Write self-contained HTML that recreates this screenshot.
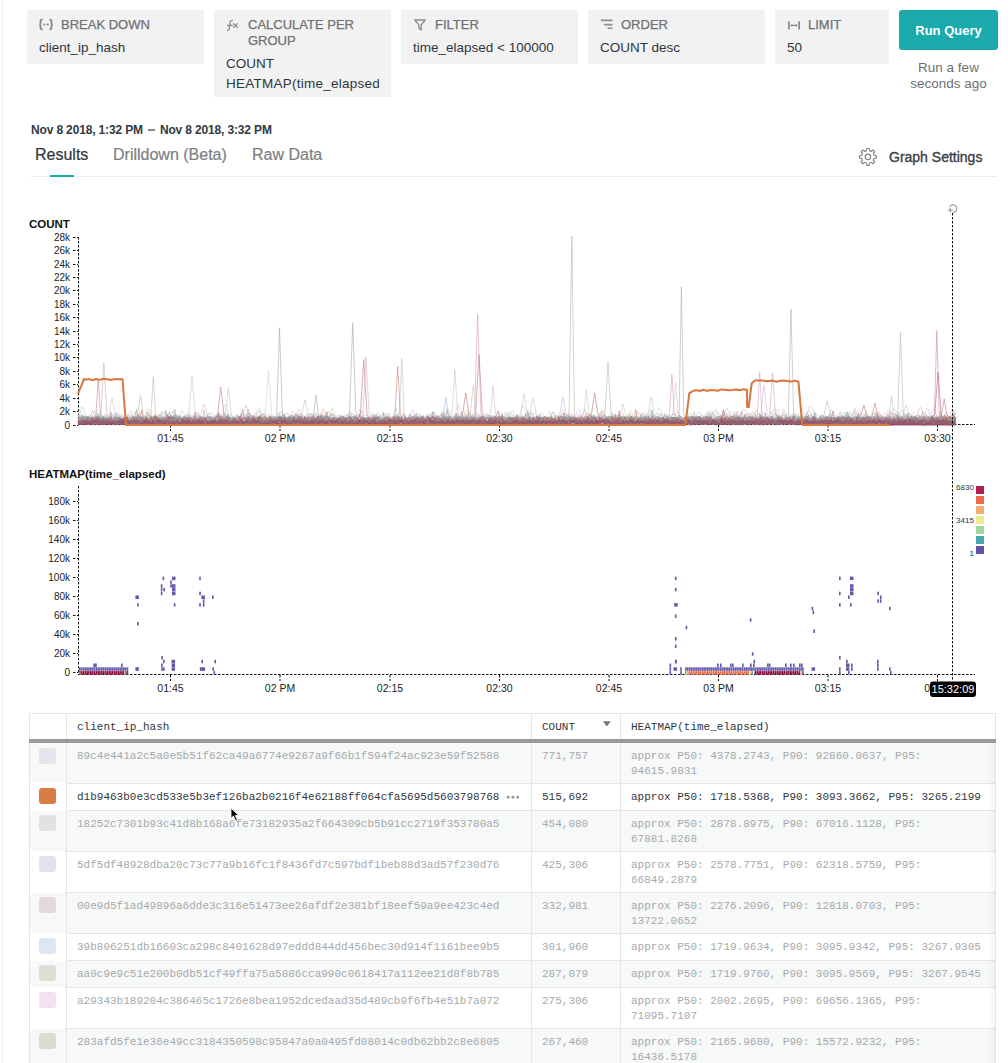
<!DOCTYPE html><html><head><meta charset="utf-8"><style>
*{box-sizing:border-box;margin:0;padding:0}
html,body{width:1008px;height:1063px;overflow:hidden;background:#fff}
body{font-family:"Liberation Sans",sans-serif;color:#333a40;position:relative}
.abs{position:absolute}
.lb{position:absolute;left:2px;top:0;width:1px;height:1063px;background:#ececec}
.qb{position:absolute;top:10px;height:54px;background:#f2f2f2;overflow:hidden}
.qb .lab{position:absolute;top:6.5px;font-size:13px;-webkit-text-stroke:0.25px #6e7072;color:#6e7072;line-height:16px;white-space:nowrap}
.qb .val{position:absolute;left:12px;top:28px;font-size:13.5px;color:#2f363c;line-height:20px;white-space:nowrap}
.qb svg{position:absolute}
.btn{position:absolute;left:899px;top:10px;width:99px;height:40px;background:#1aaaab;border-radius:3px;color:#fff;font-weight:bold;font-size:13px;line-height:41px;text-align:center}
.ago{position:absolute;left:899px;top:60px;width:99px;text-align:center;font-size:13.5px;line-height:16px;color:#6e7072}
.date{position:absolute;left:31px;top:123px;font-size:12px;font-weight:bold;color:#333a40;white-space:nowrap}
.tab{position:absolute;top:146px;font-size:16px;white-space:nowrap;color:#7b7f83;-webkit-text-stroke:0.2px currentColor}
.mono{font-family:"Liberation Mono",monospace}
table{border-collapse:collapse}
.th{font-size:11px;line-height:15px;color:#2f363c;white-space:nowrap}
.td{font-size:11px;line-height:15px;white-space:nowrap}
</style></head><body><div class="lb"></div><div class="qb" style="left:27px;width:177px"><svg style="left:11px;top:8px" width="16" height="13" viewBox="0 0 16 13"><path d="M4.6 1.6 L3.8 1.6 Q2.6 1.6 2.6 2.8 L2.6 5 Q2.6 6.5 1.2 6.5 Q2.6 6.5 2.6 8 L2.6 10.2 Q2.6 11.4 3.8 11.4 L4.6 11.4 M11.4 1.6 L12.2 1.6 Q13.4 1.6 13.4 2.8 L13.4 5 Q13.4 6.5 14.8 6.5 Q13.4 6.5 13.4 8 L13.4 10.2 Q13.4 11.4 12.2 11.4 L11.4 11.4" fill="none" stroke="#8a8c8e" stroke-width="1.9"/><circle cx="6.3" cy="6.5" r="1.1" fill="#8a8c8e"/><circle cx="9.7" cy="6.5" r="1.1" fill="#8a8c8e"/></svg><div class="lab" style="left:34px">BREAK DOWN</div><div class="val">client_ip_hash</div></div><div class="qb" style="left:214px;width:177px;height:87px"><svg style="left:12px;top:9px" width="16" height="13" viewBox="0 0 16 13"><path d="M7 1.4 Q4.3 0.8 4 3.6 L3.3 9.6 Q3 11.6 1.1 11.4 M1 6.4 L6.8 6.4" fill="none" stroke="#8a8c8e" stroke-width="1.3"/><path d="M7.3 4.4 L11.7 8.7 M11.7 4.4 L7.3 8.7" stroke="#8a8c8e" stroke-width="1.3"/></svg><div class="lab" style="left:34px">CALCULATE PER<br>GROUP</div><div class="val" style="top:43.5px;width:153px;overflow:hidden">COUNT<br><span style="letter-spacing:0.25px">HEATMAP(time_elapsed)</span></div></div><div class="qb" style="left:401px;width:177px"><svg style="left:12px;top:9px" width="13" height="13" viewBox="0 0 13 13"><path d="M1.7 1 L12.2 1 L8.2 5.9 L8.2 10.9 L6 9.4 L6 5.9 Z" fill="none" stroke="#8a8c8e" stroke-width="1.4" stroke-linejoin="round"/></svg><div class="lab" style="left:34px">FILTER</div><div class="val">time_elapsed &lt; 100000</div></div><div class="qb" style="left:588px;width:177px"><svg style="left:12px;top:9px" width="13" height="13" viewBox="0 0 13 13"><path d="M1 1.4 L12.5 1.4 M4 5.6 L12.5 5.6 M7.5 9.2 L12.5 9.2" stroke="#8a8c8e" stroke-width="1.6"/></svg><div class="lab" style="left:33px">ORDER</div><div class="val">COUNT desc</div></div><div class="qb" style="left:775px;width:114px"><svg style="left:12px;top:9px" width="13" height="13" viewBox="0 0 13 13"><path d="M1.9 2.2 L1.9 10.6 M12.1 2.2 L12.1 10.6" stroke="#8a8c8e" stroke-width="1.8"/><path d="M4.3 6.4 L9.7 6.4 M5.3 5.3 L4.2 6.4 L5.3 7.5 M8.7 5.3 L9.8 6.4 L8.7 7.5" fill="none" stroke="#8a8c8e" stroke-width="1.2"/></svg><div class="lab" style="left:33px">LIMIT</div><div class="val">50</div></div><div class="btn">Run Query</div><div class="ago">Run a few<br>seconds ago</div><div class="date" style="letter-spacing:-0.15px">Nov 8 2018, 1:32 PM<span style="display:inline-block;width:7px;height:1.6px;background:#8a8a8a;vertical-align:3.5px;margin:0 5px 0 5px"></span>Nov 8 2018, 3:32 PM</div><div class="tab" style="left:35px;color:#2f363c">Results</div><div class="tab" style="left:113px">Drilldown (Beta)</div><div class="tab" style="left:252px">Raw Data</div><div class="abs" style="left:31px;top:176px;width:966px;height:1px;background:#ececec"></div><div class="abs" style="left:50px;top:175px;width:24px;height:2px;background:#1aaaab"></div><svg class="abs" style="left:0;top:0" width="1008" height="200"><polygon points="865.49,151.08 866.38,150.79 866.57,148.50 869.23,148.50 869.42,150.79 870.31,151.08 871.14,151.50 872.90,150.02 874.78,151.90 873.30,153.66 873.72,154.49 874.01,155.38 876.30,155.57 876.30,158.23 874.01,158.42 873.72,159.31 873.30,160.14 874.78,161.90 872.90,163.78 871.14,162.30 870.31,162.72 869.42,163.01 869.23,165.30 866.57,165.30 866.38,163.01 865.49,162.72 864.66,162.30 862.90,163.78 861.02,161.90 862.50,160.14 862.08,159.31 861.79,158.42 859.50,158.23 859.50,155.57 861.79,155.38 862.08,154.49 862.50,153.66 861.02,151.90 862.90,150.02 864.66,151.50" fill="none" stroke="#85898d" stroke-width="1.2" stroke-linejoin="round"/><circle cx="867.9" cy="156.9" r="2.7" fill="none" stroke="#85898d" stroke-width="1.2"/></svg><div class="abs" style="left:889px;top:149px;font-size:14px;-webkit-text-stroke:0.35px #3a4046;color:#3a4046;white-space:nowrap">Graph Settings</div><div class="abs" style="left:29px;top:713px;width:967px;height:1px;background:#e4e6e6"></div><div class="abs" style="left:29px;top:713px;width:1px;height:350px;background:#e4e6e6"></div><div class="abs" style="left:995px;top:713px;width:1px;height:350px;background:#e4e6e6"></div><div class="abs" style="left:29px;top:739px;width:967px;height:4px;background:#9a9a9a"></div><div class="abs" style="left:66px;top:713px;width:1px;height:26px;background:#e4e6e6"></div><div class="abs" style="left:531px;top:713px;width:1px;height:26px;background:#e4e6e6"></div><div class="abs" style="left:620px;top:713px;width:1px;height:26px;background:#e4e6e6"></div><div class="abs mono th" style="left:77px;top:720px">client_ip_hash</div><div class="abs mono th" style="left:542px;top:720px">COUNT</div><div class="abs mono th" style="left:631px;top:720px">HEATMAP(time_elapsed)</div><svg class="abs" style="left:602px;top:720px" width="10" height="8"><path d="M1 1.3 L8.8 1.3 L4.9 6.6 Z" fill="#777"/></svg><div class="abs" style="left:30px;top:743px;width:965px;height:40px;background:#f7f8f8"></div><div class="abs" style="left:66px;top:783px;width:929px;height:1px;background:#e4e6e6"></div><div class="abs" style="left:66px;top:743px;width:1px;height:41px;background:#e4e6e6"></div><div class="abs" style="left:531px;top:743px;width:1px;height:41px;background:#e4e6e6"></div><div class="abs" style="left:620px;top:743px;width:1px;height:41px;background:#e4e6e6"></div><div class="abs" style="left:39px;top:748px;width:17px;height:16px;border-radius:3px;background:#e8e2ee"></div><div class="abs mono td" style="left:77px;top:749px;color:#a5a9ac">89c4e441a2c5a0e5b51f62ca49a6774e9267a9f66b1f594f24ac923e59f52588</div><div class="abs mono td" style="left:542px;top:749px;color:#a5a9ac">771,757</div><div class="abs mono td" style="left:631px;top:749px;color:#a5a9ac">approx P50: 4378.2743, P90: 92860.0637, P95:<br>94615.9831</div><div class="abs" style="left:30px;top:784px;width:965px;height:26px;background:#ffffff"></div><div class="abs" style="left:66px;top:810px;width:929px;height:1px;background:#e4e6e6"></div><div class="abs" style="left:66px;top:784px;width:1px;height:27px;background:#e4e6e6"></div><div class="abs" style="left:531px;top:784px;width:1px;height:27px;background:#e4e6e6"></div><div class="abs" style="left:620px;top:784px;width:1px;height:27px;background:#e4e6e6"></div><div class="abs" style="left:39px;top:788px;width:17px;height:16px;border-radius:3px;background:#d77c45"></div><div class="abs mono td" style="left:77px;top:790px;color:#2f363c">d1b9463b0e3cd533e5b3ef126ba2b0216f4e62188ff064cfa5695d5603798768</div><div class="abs mono td" style="left:542px;top:790px;color:#2f363c">515,692</div><div class="abs mono td" style="left:631px;top:790px;color:#2f363c">approx P50: 1718.5368, P90: 3093.3662, P95: 3265.2199</div><svg class="abs" style="left:505px;top:795px" width="16" height="6"><circle cx="3.2" cy="2.3" r="1.45" fill="#999"/><circle cx="7.9" cy="2.3" r="1.45" fill="#999"/><circle cx="12.7" cy="2.3" r="1.45" fill="#999"/></svg><div class="abs" style="left:30px;top:811px;width:965px;height:40px;background:#f7f8f8"></div><div class="abs" style="left:66px;top:851px;width:929px;height:1px;background:#e4e6e6"></div><div class="abs" style="left:66px;top:811px;width:1px;height:41px;background:#e4e6e6"></div><div class="abs" style="left:531px;top:811px;width:1px;height:41px;background:#e4e6e6"></div><div class="abs" style="left:620px;top:811px;width:1px;height:41px;background:#e4e6e6"></div><div class="abs" style="left:39px;top:815px;width:17px;height:16px;border-radius:3px;background:#e2e2e0"></div><div class="abs mono td" style="left:77px;top:817px;color:#a5a9ac">18252c7301b93c41d8b168a6fe73182935a2f664309cb5b91cc2719f353780a5</div><div class="abs mono td" style="left:542px;top:817px;color:#a5a9ac">454,080</div><div class="abs mono td" style="left:631px;top:817px;color:#a5a9ac">approx P50: 2878.8975, P90: 67016.1128, P95:<br>67881.8268</div><div class="abs" style="left:30px;top:852px;width:965px;height:40px;background:#ffffff"></div><div class="abs" style="left:66px;top:892px;width:929px;height:1px;background:#e4e6e6"></div><div class="abs" style="left:66px;top:852px;width:1px;height:41px;background:#e4e6e6"></div><div class="abs" style="left:531px;top:852px;width:1px;height:41px;background:#e4e6e6"></div><div class="abs" style="left:620px;top:852px;width:1px;height:41px;background:#e4e6e6"></div><div class="abs" style="left:39px;top:856px;width:17px;height:16px;border-radius:3px;background:#e0e4ea"></div><div class="abs mono td" style="left:77px;top:858px;color:#a5a9ac">5df5df48928dba20c73c77a9b16fc1f8436fd7c597bdf1beb88d3ad57f230d76</div><div class="abs mono td" style="left:542px;top:858px;color:#a5a9ac">425,306</div><div class="abs mono td" style="left:631px;top:858px;color:#a5a9ac">approx P50: 2578.7751, P90: 62318.5759, P95:<br>66849.2879</div><div class="abs" style="left:30px;top:893px;width:965px;height:40px;background:#f7f8f8"></div><div class="abs" style="left:66px;top:933px;width:929px;height:1px;background:#e4e6e6"></div><div class="abs" style="left:66px;top:893px;width:1px;height:41px;background:#e4e6e6"></div><div class="abs" style="left:531px;top:893px;width:1px;height:41px;background:#e4e6e6"></div><div class="abs" style="left:620px;top:893px;width:1px;height:41px;background:#e4e6e6"></div><div class="abs" style="left:39px;top:897px;width:17px;height:16px;border-radius:3px;background:#e3d8e0"></div><div class="abs mono td" style="left:77px;top:899px;color:#a5a9ac">00e9d5f1ad49896a6dde3c316e51473ee26afdf2e381bf18eef59a9ee423c4ed</div><div class="abs mono td" style="left:542px;top:899px;color:#a5a9ac">332,981</div><div class="abs mono td" style="left:631px;top:899px;color:#a5a9ac">approx P50: 2276.2096, P90: 12818.0703, P95:<br>13722.0652</div><div class="abs" style="left:30px;top:934px;width:965px;height:26px;background:#ffffff"></div><div class="abs" style="left:66px;top:960px;width:929px;height:1px;background:#e4e6e6"></div><div class="abs" style="left:66px;top:934px;width:1px;height:27px;background:#e4e6e6"></div><div class="abs" style="left:531px;top:934px;width:1px;height:27px;background:#e4e6e6"></div><div class="abs" style="left:620px;top:934px;width:1px;height:27px;background:#e4e6e6"></div><div class="abs" style="left:39px;top:938px;width:17px;height:16px;border-radius:3px;background:#dde6f4"></div><div class="abs mono td" style="left:77px;top:940px;color:#a5a9ac">39b806251db16603ca298c8401628d97eddd844dd456bec30d914f1161bee9b5</div><div class="abs mono td" style="left:542px;top:940px;color:#a5a9ac">301,960</div><div class="abs mono td" style="left:631px;top:940px;color:#a5a9ac">approx P50: 1719.9634, P90: 3095.9342, P95: 3267.9305</div><div class="abs" style="left:30px;top:961px;width:965px;height:26px;background:#f7f8f8"></div><div class="abs" style="left:66px;top:987px;width:929px;height:1px;background:#e4e6e6"></div><div class="abs" style="left:66px;top:961px;width:1px;height:27px;background:#e4e6e6"></div><div class="abs" style="left:531px;top:961px;width:1px;height:27px;background:#e4e6e6"></div><div class="abs" style="left:620px;top:961px;width:1px;height:27px;background:#e4e6e6"></div><div class="abs" style="left:39px;top:965px;width:17px;height:16px;border-radius:3px;background:#dddfd3"></div><div class="abs mono td" style="left:77px;top:967px;color:#a5a9ac">aa0c9e9c51e200b0db51cf49ffa75a5886cca990c0618417a112ee21d8f8b785</div><div class="abs mono td" style="left:542px;top:967px;color:#a5a9ac">287,079</div><div class="abs mono td" style="left:631px;top:967px;color:#a5a9ac">approx P50: 1719.9760, P90: 3095.9569, P95: 3267.9545</div><div class="abs" style="left:30px;top:988px;width:965px;height:40px;background:#ffffff"></div><div class="abs" style="left:66px;top:1028px;width:929px;height:1px;background:#e4e6e6"></div><div class="abs" style="left:66px;top:988px;width:1px;height:41px;background:#e4e6e6"></div><div class="abs" style="left:531px;top:988px;width:1px;height:41px;background:#e4e6e6"></div><div class="abs" style="left:620px;top:988px;width:1px;height:41px;background:#e4e6e6"></div><div class="abs" style="left:39px;top:992px;width:17px;height:16px;border-radius:3px;background:#f2e0ee"></div><div class="abs mono td" style="left:77px;top:994px;color:#a5a9ac">a29343b189204c386465c1726e8bea1952dcedaad35d489cb9f6fb4e51b7a072</div><div class="abs mono td" style="left:542px;top:994px;color:#a5a9ac">275,306</div><div class="abs mono td" style="left:631px;top:994px;color:#a5a9ac">approx P50: 2002.2695, P90: 69656.1365, P95:<br>71095.7107</div><div class="abs" style="left:30px;top:1029px;width:965px;height:40px;background:#f7f8f8"></div><div class="abs" style="left:66px;top:1069px;width:929px;height:1px;background:#e4e6e6"></div><div class="abs" style="left:66px;top:1029px;width:1px;height:41px;background:#e4e6e6"></div><div class="abs" style="left:531px;top:1029px;width:1px;height:41px;background:#e4e6e6"></div><div class="abs" style="left:620px;top:1029px;width:1px;height:41px;background:#e4e6e6"></div><div class="abs" style="left:39px;top:1033px;width:17px;height:16px;border-radius:3px;background:#d9dccf"></div><div class="abs mono td" style="left:77px;top:1035px;color:#a5a9ac">283afd5fe1e36e49cc3184350598c95847a0a0495fd08014c0db62bb2c8e6805</div><div class="abs mono td" style="left:542px;top:1035px;color:#a5a9ac">267,460</div><div class="abs mono td" style="left:631px;top:1035px;color:#a5a9ac">approx P50: 2165.9680, P90: 15572.9232, P95:<br>16436.5178</div><div class="abs" style="left:988px;top:743px;width:7px;height:320px;background:linear-gradient(to right,rgba(0,0,0,0),rgba(0,0,0,0.04))"></div><svg class="abs" style="left:0;top:0" width="1008" height="720" viewBox="0 0 1008 720" shape-rendering="auto"><g stroke="#111" stroke-width="1" stroke-dasharray="2.5 1.5" fill="none"><path d="M78.5 237 L78.5 425"/><path d="M78 424.5 L975 424.5"/><path d="M73 425.5 L78 425.5"/><path d="M73 411.5 L78 411.5"/><path d="M73 398.5 L78 398.5"/><path d="M73 384.5 L78 384.5"/><path d="M73 371.5 L78 371.5"/><path d="M73 357.5 L78 357.5"/><path d="M73 344.5 L78 344.5"/><path d="M73 331.5 L78 331.5"/><path d="M73 317.5 L78 317.5"/><path d="M73 304.5 L78 304.5"/><path d="M73 290.5 L78 290.5"/><path d="M73 277.5 L78 277.5"/><path d="M73 264.5 L78 264.5"/><path d="M73 250.5 L78 250.5"/><path d="M73 237.5 L78 237.5"/><path d="M170.5 425 L170.5 431"/><path d="M280.0 425 L280.0 431"/><path d="M390.0 425 L390.0 431"/><path d="M499.5 425 L499.5 431"/><path d="M609.0 425 L609.0 431"/><path d="M718.5 425 L718.5 431"/><path d="M828.0 425 L828.0 431"/><path d="M937.5 425 L937.5 431"/></g><g transform="translate(78.0,425.0) scale(1.82833,-0.67040)" fill="none" stroke-width="1"><path d="M0 10 1 10 2 7 3 5 4 7 5 10 6 13 7 9 8 6 9 8 10 10 11 15 12 19 13 15 14 6 15 3 16 7 17 10 18 6 19 5 20 7 21 6 22 6 23 9 24 8 25 7 26 8 27 8 28 8 29 7 30 4 31 3 32 4 33 12 34 20 35 16 36 11 37 15 38 24 39 22 40 10 41 5 42 6 43 5 44 7 45 8 46 8 47 9 48 7 49 6 50 9 51 8 52 6 53 5 54 8 55 11 56 9 57 7 58 10 59 14 60 18 61 17 62 14 63 10 64 6 65 8 66 9 67 6 68 6 69 10 70 12 71 9 72 10 73 14 74 9 75 5 76 8 77 12 78 11 79 11 80 8 81 9 82 12 83 11 84 10 85 8 86 6 87 10 88 11 89 9 90 11 91 9 92 7 93 11 94 13 95 8 96 5 97 6 98 10 99 12 100 14 101 17 102 14 103 7 104 7 105 13 106 14 107 9 108 6 109 7 110 9 111 10 112 12 113 10 114 9 115 10 116 12 117 11 118 10 119 9 120 9 121 11 122 12 123 10 124 6 125 6 126 10 127 13 128 14 129 10 130 9 131 11 132 16 133 19 134 13 135 11 136 12 137 12 138 8 139 7 140 9 141 10 142 14 143 16 144 12 145 7 146 7 147 10 148 9 149 6 150 6 151 6 152 4 153 5 154 8 155 6 156 7 157 8 158 8 159 9 160 8 161 6 162 6 163 11 164 12 165 7 166 7 167 8 168 11 169 13 170 11 171 8 172 9 173 19 174 25 175 19 176 12 177 6 178 5 179 9 180 9 181 8 182 8 183 8 184 8 185 7 186 8 187 8 188 5 189 3 190 3 191 3 192 4 193 5 194 6 195 5 196 4 197 5 198 14 199 19 200 11 201 8 202 12 203 8 204 3 205 5 206 11 207 16 208 17 209 12 210 8 211 5 212 9 213 16 214 13 215 8 216 9 217 9 218 10 219 15 220 15 221 12 222 12 223 11 224 12 225 11 226 9 227 8 228 5 229 5 230 10 231 12 232 8 233 8 234 10 235 9 236 6 237 6 238 9 239 8 240 8 241 10 242 9 243 10 244 9 245 8 246 11 247 13 248 13 249 11 250 9 251 8 252 6 253 6 254 9 255 11 256 6 257 4 258 6 259 8 260 6 261 5 262 5 263 7 264 15 265 23 266 16 267 12 268 14 269 10 270 5 271 4 272 7 273 7 274 6 275 5 276 5 277 5 278 6 279 9 280 10 281 7 282 9 283 13 284 9 285 8 286 13 287 15 288 13 289 8 290 7 291 9 292 6 293 4 294 5 295 12 296 16 297 12 298 5 299 2 300 7 301 15 302 15 303 9 304 6 305 4 306 5 307 10 308 17 309 18 310 13 311 8 312 5 313 6 314 9 315 14 316 13 317 10 318 13 319 18 320 14 321 8 322 7 323 6 324 8 325 10 326 8 327 8 328 6 329 7 330 11 331 11 332 12 333 11 334 9 335 8 336 7 337 8 338 9 339 8 340 8 341 5 342 4 343 6 344 9 345 12 346 12 347 12 348 19 349 23 350 14 351 10 352 12 353 9 354 9 355 12 356 12 357 9 358 5 359 3 360 4 361 8 362 10 363 9 364 9 365 11 366 11 367 10 368 16 369 20 370 15 371 14 372 13 373 9 374 9 375 10 376 9 377 10 378 10 379 7 380 4 381 3 382 6 383 11 384 10 385 13 386 16 387 13 388 16 389 17 390 11 391 11 392 16 393 16 394 10 395 9 396 14 397 16 398 17 399 19 400 12 401 4 402 3 403 4 404 5 405 7 406 10 407 9 408 11 409 12 410 11 411 11 412 10 413 8 414 6 415 5 416 9 417 13 418 11 419 8 420 8 421 11 422 12 423 11 424 6 425 4 426 5 427 4 428 4 429 6 430 9 431 11 432 11 433 9 434 7 435 6 436 6 437 5 438 8 439 13 440 11 441 9 442 13 443 15 444 9 445 4 446 10 447 18 448 14 449 11 450 14 451 10 452 6 453 8 454 11 455 9 456 6 457 3 458 2 459 3 460 5 461 9 462 11 463 13 464 13 465 9 466 8 467 7 468 9 469 13 470 9 471 10 472 14 473 11 474 15 475 19 476 11 477 6 478 7 479 5 480 5" stroke="#c0c4bc" stroke-opacity="0.55" vector-effect="non-scaling-stroke"/><path d="M0 8 1 7 2 7 3 10 4 10 5 11 6 9 7 6 8 10 9 11 10 11 11 12 12 13 13 14 14 12 15 7 16 4 17 5 18 7 19 6 20 4 21 6 22 12 23 17 24 15 25 7 26 3 27 7 28 14 29 13 30 7 31 8 32 12 33 11 34 13 35 12 36 7 37 6 38 7 39 10 40 14 41 13 42 7 43 4 44 8 45 12 46 10 47 11 48 14 49 13 50 8 51 8 52 11 53 11 54 13 55 13 56 9 57 6 58 5 59 8 60 14 61 15 62 13 63 13 64 16 65 19 66 14 67 10 68 10 69 11 70 9 71 6 72 6 73 4 74 5 75 8 76 9 77 12 78 16 79 11 80 5 81 8 82 13 83 11 84 7 85 6 86 8 87 13 88 13 89 8 90 5 91 10 92 16 93 15 94 8 95 5 96 8 97 12 98 12 99 10 100 11 101 16 102 15 103 11 104 9 105 5 106 4 107 6 108 9 109 9 110 8 111 9 112 10 113 11 114 10 115 9 116 10 117 15 118 15 119 9 120 6 121 4 122 5 123 9 124 9 125 10 126 16 127 17 128 12 129 6 130 5 131 8 132 7 133 7 134 10 135 9 136 8 137 12 138 16 139 17 140 16 141 11 142 9 143 12 144 12 145 7 146 4 147 4 148 4 149 4 150 8 151 11 152 9 153 8 154 7 155 7 156 8 157 11 158 9 159 6 160 5 161 6 162 6 163 5 164 6 165 8 166 7 167 7 168 7 169 8 170 13 171 12 172 10 173 10 174 8 175 6 176 5 177 6 178 6 179 6 180 7 181 6 182 7 183 10 184 12 185 10 186 6 187 5 188 7 189 10 190 11 191 7 192 5 193 7 194 11 195 14 196 10 197 7 198 8 199 7 200 8 201 9 202 8 203 9 204 10 205 8 206 8 207 10 208 12 209 9 210 7 211 11 212 14 213 9 214 7 215 10 216 11 217 9 218 5 219 4 220 9 221 8 222 3 223 4 224 6 225 8 226 11 227 12 228 8 229 5 230 8 231 10 232 6 233 4 234 6 235 8 236 11 237 11 238 8 239 9 240 13 241 14 242 10 243 5 244 5 245 9 246 12 247 14 248 17 249 15 250 9 251 6 252 8 253 8 254 8 255 9 256 9 257 9 258 10 259 8 260 9 261 14 262 14 263 9 264 9 265 8 266 10 267 12 268 9 269 8 270 14 271 16 272 11 273 8 274 8 275 9 276 11 277 13 278 16 279 18 280 10 281 5 282 7 283 8 284 12 285 16 286 14 287 8 288 8 289 12 290 10 291 10 292 12 293 9 294 9 295 9 296 7 297 12 298 17 299 10 300 6 301 7 302 6 303 7 304 10 305 10 306 8 307 8 308 9 309 8 310 7 311 10 312 11 313 7 314 4 315 7 316 9 317 7 318 4 319 3 320 3 321 3 322 3 323 7 324 13 325 12 326 10 327 8 328 6 329 6 330 10 331 11 332 6 333 6 334 10 335 10 336 5 337 2 338 3 339 6 340 9 341 11 342 9 343 7 344 12 345 17 346 17 347 16 348 14 349 11 350 9 351 10 352 10 353 8 354 11 355 16 356 15 357 13 358 13 359 12 360 12 361 11 362 9 363 9 364 9 365 9 366 12 367 17 368 17 369 14 370 11 371 12 372 17 373 17 374 8 375 6 376 10 377 8 378 12 379 20 380 14 381 5 382 6 383 8 384 8 385 12 386 17 387 10 388 6 389 9 390 12 391 10 392 6 393 6 394 9 395 13 396 13 397 9 398 8 399 13 400 15 401 14 402 9 403 5 404 5 405 10 406 12 407 9 408 8 409 7 410 11 411 17 412 15 413 8 414 7 415 7 416 6 417 5 418 6 419 9 420 11 421 10 422 8 423 7 424 9 425 8 426 5 427 5 428 6 429 5 430 12 431 20 432 13 433 7 434 7 435 8 436 9 437 13 438 20 439 14 440 9 441 12 442 8 443 11 444 21 445 18 446 9 447 6 448 13 449 19 450 12 451 7 452 8 453 9 454 11 455 9 456 5 457 3 458 3 459 10 460 16 461 9 462 3 463 5 464 4 465 3 466 7 467 14 468 13 469 9 470 6 471 4 472 4 473 7 474 14 475 15 476 12 477 12 478 15 479 14 480 6" stroke="#d8a8c0" stroke-opacity="0.55" vector-effect="non-scaling-stroke"/><path d="M0 17 1 18 2 26 3 26 4 12 5 3 6 4 7 6 8 11 9 10 10 7 11 7 12 8 13 7 14 6 15 6 16 10 17 11 18 7 19 5 20 5 21 7 22 11 23 11 24 7 25 8 26 11 27 13 28 19 29 21 30 13 31 9 32 13 33 12 34 11 35 12 36 8 37 5 38 8 39 8 40 7 41 11 42 16 43 14 44 11 45 10 46 6 47 3 48 5 49 9 50 11 51 15 52 21 53 16 54 8 55 8 56 10 57 9 58 9 59 9 60 7 61 10 62 12 63 7 64 6 65 11 66 11 67 10 68 11 69 8 70 8 71 11 72 10 73 8 74 8 75 11 76 14 77 13 78 11 79 17 80 29 81 31 82 18 83 6 84 5 85 7 86 11 87 12 88 11 89 13 90 14 91 12 92 9 93 9 94 9 95 11 96 13 97 13 98 22 99 26 100 14 101 6 102 5 103 3 104 4 105 8 106 12 107 12 108 13 109 11 110 8 111 6 112 6 113 6 114 7 115 10 116 9 117 6 118 6 119 10 120 14 121 13 122 12 123 9 124 6 125 8 126 11 127 13 128 8 129 9 130 17 131 15 132 10 133 9 134 6 135 3 136 3 137 4 138 3 139 5 140 10 141 11 142 9 143 11 144 8 145 6 146 10 147 11 148 9 149 9 150 12 151 13 152 11 153 16 154 23 155 14 156 6 157 6 158 8 159 8 160 5 161 3 162 3 163 11 164 19 165 14 166 10 167 15 168 17 169 15 170 11 171 8 172 6 173 6 174 4 175 3 176 7 177 10 178 6 179 6 180 9 181 13 182 19 183 17 184 12 185 9 186 6 187 5 188 6 189 7 190 7 191 8 192 8 193 10 194 17 195 20 196 10 197 5 198 8 199 8 200 9 201 11 202 9 203 10 204 11 205 9 206 10 207 12 208 12 209 12 210 11 211 12 212 9 213 13 214 20 215 14 216 7 217 8 218 9 219 11 220 11 221 13 222 12 223 9 224 11 225 8 226 7 227 8 228 9 229 9 230 9 231 9 232 7 233 6 234 8 235 8 236 7 237 6 238 6 239 10 240 13 241 13 242 14 243 11 244 6 245 5 246 11 247 18 248 16 249 16 250 18 251 14 252 8 253 4 254 5 255 6 256 6 257 7 258 6 259 7 260 9 261 12 262 11 263 8 264 7 265 6 266 6 267 7 268 11 269 13 270 12 271 12 272 8 273 3 274 3 275 4 276 6 277 8 278 8 279 6 280 9 281 11 282 12 283 14 284 11 285 7 286 7 287 8 288 7 289 7 290 6 291 6 292 7 293 6 294 6 295 5 296 3 297 3 298 6 299 7 300 7 301 8 302 10 303 10 304 6 305 6 306 9 307 8 308 8 309 10 310 10 311 12 312 18 313 23 314 18 315 10 316 10 317 13 318 10 319 6 320 6 321 6 322 8 323 13 324 13 325 11 326 11 327 8 328 6 329 8 330 9 331 6 332 6 333 11 334 14 335 11 336 8 337 7 338 6 339 6 340 10 341 15 342 14 343 10 344 12 345 10 346 7 347 5 348 5 349 6 350 6 351 7 352 10 353 13 354 13 355 11 356 11 357 18 358 21 359 14 360 10 361 7 362 6 363 7 364 6 365 7 366 7 367 6 368 6 369 7 370 7 371 9 372 10 373 11 374 16 375 20 376 13 377 7 378 7 379 12 380 14 381 10 382 7 383 6 384 7 385 9 386 10 387 12 388 12 389 13 390 15 391 16 392 15 393 12 394 9 395 9 396 13 397 13 398 9 399 9 400 11 401 11 402 11 403 15 404 17 405 12 406 8 407 4 408 3 409 3 410 4 411 6 412 9 413 10 414 7 415 6 416 9 417 7 418 8 419 12 420 9 421 8 422 12 423 15 424 13 425 10 426 9 427 8 428 9 429 10 430 7 431 4 432 6 433 9 434 9 435 7 436 9 437 10 438 8 439 11 440 14 441 10 442 7 443 11 444 16 445 18 446 17 447 16 448 15 449 10 450 11 451 16 452 15 453 13 454 16 455 16 456 11 457 9 458 10 459 11 460 10 461 6 462 5 463 13 464 25 465 24 466 11 467 4 468 7 469 10 470 10 471 10 472 13 473 13 474 10 475 9 476 12 477 16 478 21 479 20 480 9" stroke="#b8c8e0" stroke-opacity="0.55" vector-effect="non-scaling-stroke"/><path d="M0 19 1 13 2 11 3 11 4 11 5 12 6 15 7 14 8 11 9 10 10 13 11 17 12 13 13 8 14 11 15 12 16 9 17 10 18 10 19 6 20 4 21 7 22 12 23 12 24 6 25 3 26 9 27 13 28 12 29 9 30 10 31 13 32 10 33 5 34 5 35 7 36 8 37 5 38 5 39 8 40 6 41 4 42 5 43 5 44 9 45 17 46 20 47 10 48 7 49 12 50 12 51 15 52 20 53 18 54 12 55 9 56 15 57 22 58 16 59 11 60 11 61 10 62 7 63 7 64 10 65 11 66 9 67 6 68 4 69 6 70 12 71 16 72 17 73 19 74 17 75 13 76 12 77 8 78 4 79 6 80 11 81 9 82 8 83 10 84 11 85 12 86 9 87 7 88 10 89 12 90 12 91 11 92 10 93 11 94 14 95 12 96 8 97 6 98 7 99 12 100 15 101 16 102 19 103 14 104 8 105 5 106 4 107 5 108 4 109 6 110 11 111 8 112 4 113 6 114 7 115 5 116 6 117 10 118 14 119 11 120 5 121 3 122 4 123 4 124 5 125 5 126 7 127 9 128 8 129 11 130 16 131 15 132 11 133 13 134 16 135 9 136 11 137 21 138 14 139 5 140 6 141 7 142 10 143 13 144 11 145 10 146 8 147 5 148 8 149 13 150 17 151 16 152 11 153 10 154 13 155 13 156 9 157 9 158 11 159 9 160 9 161 9 162 6 163 7 164 11 165 9 166 9 167 15 168 16 169 16 170 18 171 12 172 7 173 9 174 7 175 5 176 7 177 10 178 11 179 8 180 5 181 6 182 8 183 9 184 14 185 17 186 17 187 15 188 11 189 11 190 9 191 6 192 6 193 8 194 6 195 8 196 14 197 14 198 11 199 11 200 13 201 12 202 12 203 13 204 9 205 8 206 8 207 7 208 6 209 5 210 6 211 14 212 23 213 20 214 13 215 11 216 12 217 13 218 8 219 5 220 5 221 8 222 16 223 18 224 14 225 14 226 12 227 12 228 9 229 7 230 10 231 10 232 8 233 6 234 9 235 15 236 16 237 15 238 15 239 11 240 9 241 9 242 8 243 10 244 13 245 13 246 15 247 15 248 10 249 6 250 7 251 9 252 11 253 17 254 18 255 10 256 4 257 7 258 13 259 14 260 11 261 10 262 12 263 11 264 11 265 12 266 10 267 9 268 11 269 16 270 15 271 9 272 9 273 8 274 6 275 8 276 9 277 9 278 12 279 13 280 13 281 14 282 12 283 9 284 10 285 10 286 9 287 7 288 6 289 10 290 13 291 15 292 18 293 15 294 11 295 12 296 10 297 6 298 4 299 4 300 6 301 12 302 21 303 18 304 7 305 7 306 11 307 8 308 8 309 11 310 9 311 9 312 11 313 12 314 11 315 10 316 15 317 18 318 11 319 8 320 11 321 8 322 4 323 3 324 7 325 16 326 16 327 7 328 5 329 8 330 7 331 6 332 6 333 6 334 10 335 14 336 12 337 11 338 11 339 11 340 11 341 9 342 9 343 15 344 19 345 15 346 7 347 5 348 6 349 8 350 9 351 7 352 10 353 14 354 14 355 13 356 9 357 7 358 7 359 6 360 15 361 21 362 11 363 3 364 6 365 9 366 7 367 7 368 12 369 13 370 8 371 9 372 13 373 12 374 9 375 10 376 12 377 8 378 6 379 10 380 19 381 24 382 18 383 12 384 12 385 8 386 4 387 5 388 7 389 10 390 12 391 8 392 8 393 12 394 9 395 7 396 9 397 10 398 13 399 9 400 7 401 8 402 9 403 9 404 6 405 5 406 9 407 13 408 13 409 10 410 7 411 4 412 7 413 11 414 10 415 11 416 9 417 8 418 13 419 14 420 11 421 9 422 8 423 9 424 11 425 8 426 6 427 7 428 8 429 7 430 6 431 7 432 11 433 14 434 17 435 16 436 15 437 17 438 15 439 8 440 8 441 16 442 17 443 13 444 8 445 9 446 12 447 9 448 6 449 11 450 20 451 23 452 13 453 6 454 8 455 10 456 13 457 11 458 7 459 5 460 4 461 6 462 8 463 8 464 8 465 7 466 7 467 9 468 11 469 8 470 6 471 6 472 6 473 4 474 5 475 7 476 7 477 6 478 6 479 12 480 18" stroke="#c0d0b8" stroke-opacity="0.55" vector-effect="non-scaling-stroke"/><path d="M0 7 1 11 2 12 3 13 4 10 5 5 6 5 7 5 8 6 9 8 10 9 11 11 12 7 13 4 14 5 15 6 16 7 17 7 18 8 19 11 20 14 21 14 22 10 23 5 24 4 25 5 26 4 27 6 28 7 29 5 30 4 31 5 32 6 33 5 34 4 35 5 36 5 37 5 38 6 39 5 40 4 41 9 42 13 43 10 44 11 45 13 46 10 47 8 48 8 49 5 50 5 51 6 52 10 53 16 54 15 55 11 56 10 57 9 58 9 59 9 60 9 61 11 62 9 63 7 64 7 65 6 66 5 67 5 68 5 69 5 70 8 71 13 72 12 73 9 74 10 75 14 76 17 77 13 78 8 79 10 80 12 81 10 82 10 83 15 84 15 85 8 86 5 87 7 88 10 89 14 90 12 91 8 92 9 93 9 94 7 95 7 96 12 97 18 98 16 99 13 100 10 101 6 102 8 103 11 104 13 105 12 106 7 107 3 108 6 109 13 110 14 111 11 112 14 113 14 114 7 115 4 116 11 117 20 118 19 119 16 120 15 121 12 122 13 123 15 124 9 125 5 126 7 127 8 128 8 129 8 130 5 131 6 132 9 133 9 134 11 135 12 136 8 137 7 138 8 139 8 140 5 141 4 142 7 143 10 144 15 145 14 146 8 147 8 148 17 149 19 150 12 151 12 152 13 153 11 154 11 155 10 156 9 157 9 158 6 159 5 160 5 161 4 162 6 163 7 164 8 165 12 166 16 167 17 168 14 169 10 170 8 171 9 172 10 173 11 174 12 175 9 176 6 177 5 178 7 179 7 180 5 181 4 182 4 183 7 184 14 185 16 186 10 187 6 188 7 189 9 190 13 191 14 192 12 193 11 194 8 195 4 196 7 197 12 198 9 199 4 200 3 201 8 202 11 203 10 204 12 205 13 206 12 207 13 208 9 209 5 210 6 211 9 212 10 213 13 214 14 215 16 216 14 217 11 218 15 219 17 220 11 221 6 222 6 223 9 224 10 225 7 226 6 227 8 228 8 229 7 230 8 231 7 232 7 233 14 234 20 235 14 236 9 237 9 238 5 239 2 240 5 241 8 242 7 243 5 244 4 245 5 246 7 247 5 248 4 249 4 250 4 251 4 252 3 253 3 254 5 255 10 256 12 257 16 258 20 259 13 260 7 261 7 262 11 263 11 264 9 265 9 266 8 267 6 268 5 269 4 270 4 271 6 272 10 273 11 274 7 275 5 276 6 277 6 278 7 279 8 280 11 281 13 282 11 283 10 284 8 285 8 286 14 287 16 288 11 289 9 290 10 291 6 292 6 293 13 294 16 295 13 296 9 297 6 298 5 299 6 300 7 301 7 302 9 303 11 304 8 305 10 306 14 307 9 308 5 309 7 310 6 311 4 312 8 313 9 314 8 315 9 316 9 317 8 318 8 319 7 320 8 321 13 322 13 323 8 324 8 325 15 326 17 327 16 328 13 329 7 330 7 331 9 332 7 333 5 334 5 335 6 336 8 337 11 338 13 339 18 340 20 341 15 342 7 343 7 344 16 345 21 346 14 347 8 348 5 349 8 350 13 351 10 352 15 353 22 354 13 355 6 356 9 357 11 358 9 359 10 360 9 361 6 362 6 363 6 364 6 365 8 366 9 367 7 368 7 369 10 370 10 371 7 372 4 373 4 374 6 375 6 376 9 377 12 378 11 379 12 380 12 381 9 382 10 383 12 384 11 385 7 386 6 387 11 388 10 389 7 390 6 391 7 392 9 393 8 394 11 395 13 396 9 397 9 398 12 399 11 400 12 401 16 402 16 403 11 404 8 405 8 406 8 407 6 408 6 409 5 410 8 411 13 412 13 413 9 414 6 415 8 416 10 417 8 418 7 419 8 420 9 421 14 422 17 423 20 424 21 425 13 426 10 427 18 428 20 429 12 430 9 431 14 432 13 433 8 434 8 435 12 436 13 437 7 438 4 439 6 440 5 441 7 442 8 443 7 444 10 445 10 446 9 447 13 448 15 449 14 450 13 451 11 452 11 453 12 454 7 455 4 456 4 457 7 458 10 459 8 460 8 461 7 462 7 463 9 464 10 465 11 466 8 467 4 468 6 469 7 470 9 471 11 472 9 473 7 474 8 475 9 476 11 477 12 478 9 479 6 480 4" stroke="#d0b8d8" stroke-opacity="0.55" vector-effect="non-scaling-stroke"/><path d="M0 4 1 6 2 8 3 12 4 11 5 6 6 4 7 5 8 8 9 12 10 12 11 7 12 4 13 5 14 9 15 10 16 5 17 5 18 7 19 6 20 7 21 12 22 11 23 6 24 4 25 7 26 11 27 8 28 6 29 7 30 8 31 6 32 7 33 10 34 10 35 9 36 7 37 5 38 7 39 9 40 9 41 7 42 6 43 9 44 15 45 17 46 17 47 19 48 17 49 12 50 7 51 5 52 4 53 7 54 14 55 15 56 11 57 9 58 8 59 6 60 7 61 6 62 7 63 9 64 9 65 14 66 14 67 10 68 10 69 10 70 9 71 7 72 6 73 8 74 8 75 11 76 12 77 6 78 4 79 10 80 17 81 15 82 10 83 10 84 7 85 3 86 4 87 7 88 10 89 16 90 16 91 13 92 10 93 7 94 7 95 14 96 14 97 9 98 9 99 13 100 13 101 9 102 7 103 9 104 15 105 16 106 9 107 3 108 4 109 9 110 9 111 7 112 11 113 17 114 18 115 16 116 10 117 4 118 7 119 14 120 18 121 16 122 10 123 9 124 12 125 8 126 5 127 7 128 7 129 8 130 8 131 7 132 6 133 15 134 25 135 19 136 8 137 6 138 5 139 7 140 11 141 11 142 11 143 11 144 7 145 4 146 6 147 8 148 6 149 7 150 12 151 15 152 14 153 14 154 12 155 9 156 10 157 9 158 7 159 6 160 5 161 10 162 15 163 14 164 13 165 12 166 11 167 11 168 9 169 10 170 9 171 9 172 9 173 11 174 16 175 15 176 10 177 5 178 4 179 5 180 10 181 13 182 8 183 6 184 8 185 11 186 12 187 8 188 5 189 7 190 9 191 8 192 8 193 14 194 19 195 17 196 14 197 11 198 9 199 11 200 11 201 9 202 9 203 6 204 4 205 6 206 5 207 4 208 7 209 13 210 13 211 10 212 13 213 15 214 13 215 10 216 7 217 9 218 11 219 7 220 6 221 8 222 11 223 14 224 15 225 14 226 14 227 14 228 12 229 9 230 8 231 10 232 13 233 9 234 5 235 7 236 10 237 10 238 8 239 7 240 6 241 6 242 7 243 6 244 9 245 11 246 7 247 5 248 8 249 10 250 8 251 6 252 5 253 5 254 7 255 10 256 9 257 6 258 6 259 7 260 7 261 10 262 14 263 12 264 9 265 13 266 14 267 9 268 5 269 5 270 5 271 8 272 12 273 9 274 6 275 6 276 14 277 24 278 17 279 6 280 7 281 9 282 7 283 9 284 12 285 11 286 17 287 23 288 16 289 8 290 4 291 3 292 5 293 10 294 15 295 14 296 7 297 5 298 10 299 12 300 12 301 16 302 17 303 10 304 4 305 10 306 20 307 18 308 12 309 11 310 14 311 15 312 12 313 8 314 7 315 7 316 6 317 7 318 12 319 16 320 14 321 9 322 12 323 15 324 12 325 8 326 6 327 6 328 8 329 10 330 6 331 6 332 11 333 14 334 11 335 10 336 13 337 11 338 7 339 5 340 4 341 6 342 6 343 8 344 12 345 14 346 12 347 10 348 7 349 10 350 13 351 11 352 11 353 14 354 16 355 12 356 6 357 8 358 12 359 9 360 9 361 14 362 14 363 12 364 8 365 6 366 5 367 4 368 6 369 14 370 18 371 12 372 8 373 10 374 12 375 11 376 7 377 7 378 9 379 6 380 3 381 4 382 9 383 14 384 12 385 7 386 5 387 6 388 7 389 6 390 7 391 9 392 10 393 11 394 7 395 4 396 7 397 12 398 10 399 9 400 13 401 15 402 11 403 6 404 5 405 7 406 6 407 6 408 7 409 7 410 9 411 14 412 17 413 13 414 8 415 7 416 9 417 8 418 6 419 6 420 11 421 16 422 12 423 7 424 5 425 6 426 10 427 12 428 11 429 9 430 7 431 9 432 12 433 11 434 11 435 9 436 7 437 6 438 7 439 13 440 14 441 9 442 10 443 12 444 10 445 9 446 7 447 9 448 12 449 7 450 5 451 8 452 10 453 11 454 14 455 17 456 13 457 9 458 14 459 14 460 13 461 14 462 12 463 13 464 12 465 7 466 7 467 9 468 11 469 13 470 11 471 8 472 9 473 9 474 9 475 11 476 13 477 13 478 15 479 17 480 16" stroke="#e0b0a8" stroke-opacity="0.55" vector-effect="non-scaling-stroke"/><path d="M0 26 1 21 2 18 3 13 4 7 5 7 6 9 7 7 8 6 9 10 10 11 11 10 12 14 13 11 14 5 15 5 16 8 17 9 18 8 19 10 20 12 21 9 22 7 23 10 24 9 25 10 26 9 27 5 28 5 29 7 30 5 31 3 32 3 33 5 34 8 35 12 36 10 37 9 38 14 39 16 40 11 41 5 42 7 43 13 44 14 45 14 46 15 47 11 48 7 49 7 50 12 51 15 52 12 53 7 54 4 55 3 56 5 57 9 58 13 59 15 60 12 61 8 62 7 63 8 64 13 65 17 66 15 67 11 68 7 69 5 70 6 71 7 72 6 73 6 74 9 75 11 76 9 77 8 78 7 79 5 80 3 81 3 82 9 83 12 84 10 85 12 86 14 87 13 88 10 89 9 90 10 91 8 92 7 93 8 94 7 95 6 96 8 97 11 98 15 99 21 100 20 101 14 102 7 103 3 104 4 105 5 106 4 107 7 108 9 109 8 110 7 111 9 112 15 113 15 114 8 115 5 116 8 117 9 118 9 119 11 120 19 121 24 122 17 123 9 124 9 125 10 126 8 127 7 128 11 129 17 130 18 131 13 132 10 133 12 134 13 135 9 136 8 137 7 138 5 139 9 140 12 141 8 142 5 143 6 144 6 145 7 146 9 147 8 148 12 149 14 150 10 151 10 152 12 153 9 154 6 155 8 156 13 157 14 158 14 159 11 160 9 161 14 162 15 163 10 164 8 165 8 166 7 167 6 168 6 169 12 170 16 171 10 172 5 173 7 174 11 175 12 176 8 177 7 178 8 179 11 180 10 181 7 182 7 183 8 184 5 185 5 186 6 187 8 188 9 189 10 190 9 191 6 192 5 193 8 194 13 195 13 196 9 197 4 198 4 199 7 200 8 201 15 202 22 203 13 204 5 205 6 206 6 207 6 208 6 209 7 210 10 211 14 212 18 213 14 214 8 215 11 216 17 217 11 218 6 219 10 220 11 221 6 222 6 223 10 224 9 225 7 226 9 227 10 228 10 229 11 230 12 231 9 232 7 233 6 234 5 235 4 236 4 237 6 238 8 239 7 240 9 241 11 242 10 243 8 244 7 245 6 246 5 247 13 248 21 249 14 250 6 251 6 252 6 253 6 254 9 255 13 256 11 257 8 258 11 259 17 260 20 261 16 262 10 263 8 264 12 265 17 266 17 267 14 268 14 269 13 270 10 271 10 272 13 273 11 274 8 275 6 276 4 277 9 278 17 279 14 280 11 281 14 282 14 283 11 284 8 285 14 286 21 287 14 288 8 289 10 290 11 291 9 292 7 293 6 294 6 295 5 296 4 297 2 298 5 299 7 300 6 301 10 302 14 303 11 304 11 305 10 306 7 307 9 308 8 309 4 310 4 311 5 312 9 313 15 314 14 315 11 316 8 317 6 318 10 319 11 320 10 321 12 322 9 323 4 324 6 325 10 326 7 327 6 328 10 329 13 330 13 331 8 332 5 333 6 334 6 335 8 336 12 337 13 338 11 339 12 340 10 341 8 342 7 343 8 344 9 345 7 346 14 347 22 348 15 349 8 350 11 351 13 352 15 353 15 354 20 355 25 356 20 357 14 358 13 359 9 360 4 361 5 362 8 363 8 364 6 365 5 366 4 367 3 368 4 369 5 370 3 371 6 372 11 373 9 374 9 375 11 376 7 377 4 378 8 379 10 380 10 381 13 382 21 383 24 384 13 385 14 386 24 387 17 388 7 389 5 390 7 391 13 392 15 393 17 394 15 395 8 396 7 397 10 398 7 399 6 400 8 401 7 402 9 403 12 404 8 405 10 406 13 407 12 408 13 409 14 410 8 411 4 412 7 413 10 414 8 415 5 416 13 417 20 418 12 419 5 420 6 421 6 422 5 423 7 424 17 425 21 426 11 427 5 428 8 429 13 430 16 431 15 432 13 433 8 434 9 435 16 436 20 437 15 438 13 439 14 440 9 441 6 442 7 443 6 444 6 445 9 446 8 447 5 448 7 449 8 450 7 451 7 452 12 453 14 454 10 455 8 456 12 457 13 458 10 459 10 460 8 461 8 462 10 463 9 464 10 465 8 466 6 467 9 468 14 469 17 470 14 471 8 472 9 473 14 474 8 475 3 476 6 477 9 478 12 479 15 480 8" stroke="#c4c4b0" stroke-opacity="0.55" vector-effect="non-scaling-stroke"/><path d="M0 9 1 11 2 12 3 8 4 7 5 8 6 8 7 7 8 6 9 7 10 9 11 10 12 7 13 7 14 8 15 6 16 3 17 12 18 21 19 13 20 8 21 13 22 11 23 12 24 15 25 12 26 12 27 12 28 10 29 12 30 11 31 9 32 9 33 9 34 7 35 6 36 5 37 6 38 9 39 10 40 7 41 5 42 6 43 8 44 13 45 16 46 12 47 7 48 6 49 7 50 10 51 7 52 4 53 5 54 5 55 6 56 8 57 8 58 8 59 9 60 9 61 10 62 12 63 14 64 11 65 4 66 2 67 3 68 3 69 3 70 3 71 5 72 12 73 13 74 10 75 12 76 13 77 10 78 9 79 9 80 7 81 8 82 10 83 10 84 9 85 7 86 9 87 12 88 8 89 8 90 13 91 10 92 5 93 4 94 6 95 9 96 6 97 5 98 7 99 7 100 6 101 6 102 5 103 4 104 9 105 13 106 11 107 11 108 12 109 11 110 11 111 7 112 3 113 3 114 3 115 4 116 8 117 11 118 8 119 7 120 8 121 6 122 8 123 9 124 8 125 12 126 12 127 11 128 12 129 8 130 8 131 9 132 13 133 17 134 11 135 5 136 6 137 6 138 7 139 10 140 12 141 9 142 5 143 4 144 4 145 5 146 7 147 7 148 6 149 6 150 7 151 9 152 9 153 10 154 8 155 6 156 6 157 5 158 5 159 7 160 7 161 7 162 8 163 12 164 12 165 9 166 5 167 7 168 10 169 10 170 8 171 7 172 5 173 6 174 4 175 3 176 3 177 3 178 3 179 6 180 12 181 16 182 13 183 9 184 10 185 9 186 7 187 10 188 14 189 13 190 10 191 10 192 12 193 10 194 5 195 6 196 9 197 7 198 7 199 11 200 9 201 4 202 4 203 6 204 9 205 12 206 14 207 24 208 32 209 21 210 6 211 7 212 12 213 9 214 5 215 6 216 8 217 12 218 17 219 15 220 8 221 6 222 7 223 6 224 4 225 6 226 12 227 12 228 13 229 14 230 10 231 6 232 10 233 13 234 10 235 7 236 11 237 13 238 9 239 6 240 4 241 3 242 5 243 5 244 6 245 10 246 14 247 10 248 9 249 10 250 9 251 11 252 16 253 15 254 7 255 4 256 5 257 6 258 5 259 6 260 9 261 10 262 11 263 10 264 8 265 6 266 8 267 12 268 17 269 17 270 12 271 5 272 8 273 20 274 24 275 17 276 8 277 5 278 7 279 9 280 7 281 7 282 10 283 10 284 9 285 6 286 6 287 9 288 8 289 4 290 4 291 5 292 7 293 8 294 7 295 8 296 12 297 12 298 12 299 10 300 9 301 7 302 6 303 5 304 4 305 5 306 7 307 6 308 7 309 12 310 16 311 18 312 15 313 7 314 4 315 6 316 5 317 4 318 7 319 10 320 7 321 6 322 10 323 11 324 7 325 6 326 5 327 6 328 6 329 6 330 8 331 11 332 8 333 7 334 8 335 9 336 9 337 7 338 6 339 6 340 6 341 8 342 10 343 9 344 7 345 7 346 7 347 7 348 6 349 7 350 11 351 9 352 8 353 11 354 9 355 6 356 8 357 10 358 9 359 8 360 6 361 8 362 13 363 19 364 24 365 22 366 18 367 16 368 14 369 14 370 10 371 9 372 11 373 9 374 12 375 13 376 8 377 6 378 5 379 4 380 10 381 18 382 16 383 8 384 6 385 6 386 10 387 11 388 8 389 5 390 9 391 16 392 17 393 13 394 6 395 10 396 21 397 20 398 14 399 7 400 6 401 9 402 5 403 4 404 8 405 12 406 15 407 14 408 9 409 6 410 4 411 4 412 9 413 10 414 8 415 8 416 7 417 6 418 6 419 9 420 12 421 11 422 11 423 15 424 17 425 13 426 8 427 8 428 8 429 11 430 14 431 13 432 10 433 7 434 7 435 8 436 11 437 12 438 9 439 6 440 7 441 7 442 12 443 22 444 23 445 11 446 6 447 10 448 10 449 9 450 11 451 13 452 15 453 16 454 11 455 10 456 16 457 19 458 14 459 7 460 5 461 7 462 9 463 12 464 10 465 7 466 9 467 9 468 5 469 4 470 8 471 12 472 11 473 9 474 10 475 11 476 12 477 8 478 4 479 4 480 5" stroke="#d8c0e8" stroke-opacity="0.55" vector-effect="non-scaling-stroke"/><path d="M0 15 1 16 2 13 3 11 4 10 5 11 6 10 7 7 8 4 9 4 10 4 11 5 12 6 13 7 14 13 15 17 16 13 17 11 18 13 19 14 20 15 21 17 22 16 23 12 24 8 25 9 26 13 27 15 28 15 29 15 30 13 31 8 32 6 33 12 34 14 35 11 36 10 37 11 38 11 39 15 40 15 41 10 42 7 43 8 44 14 45 16 46 11 47 8 48 13 49 16 50 17 51 14 52 10 53 7 54 4 55 7 56 14 57 11 58 7 59 10 60 12 61 9 62 6 63 5 64 8 65 14 66 12 67 7 68 8 69 8 70 8 71 15 72 18 73 12 74 8 75 7 76 5 77 8 78 13 79 16 80 15 81 12 82 7 83 5 84 5 85 6 86 9 87 12 88 9 89 6 90 6 91 11 92 15 93 9 94 6 95 13 96 14 97 12 98 13 99 12 100 10 101 8 102 5 103 5 104 9 105 9 106 7 107 10 108 9 109 8 110 10 111 10 112 6 113 5 114 8 115 12 116 9 117 7 118 11 119 13 120 13 121 13 122 7 123 3 124 5 125 8 126 13 127 17 128 17 129 13 130 10 131 8 132 5 133 7 134 12 135 12 136 10 137 10 138 17 139 26 140 20 141 9 142 3 143 3 144 6 145 8 146 8 147 8 148 9 149 8 150 9 151 11 152 10 153 11 154 17 155 21 156 16 157 7 158 5 159 6 160 4 161 4 162 7 163 8 164 10 165 12 166 8 167 7 168 8 169 10 170 12 171 9 172 11 173 13 174 9 175 9 176 10 177 6 178 6 179 9 180 10 181 9 182 10 183 12 184 10 185 6 186 6 187 7 188 11 189 12 190 7 191 6 192 9 193 11 194 10 195 7 196 9 197 15 198 13 199 9 200 6 201 13 202 26 203 22 204 10 205 8 206 8 207 9 208 11 209 9 210 9 211 11 212 13 213 11 214 9 215 12 216 14 217 10 218 8 219 9 220 9 221 8 222 7 223 7 224 10 225 10 226 11 227 14 228 11 229 6 230 5 231 9 232 14 233 12 234 8 235 9 236 14 237 20 238 21 239 14 240 10 241 10 242 17 243 29 244 27 245 12 246 3 247 3 248 3 249 3 250 4 251 6 252 11 253 15 254 11 255 10 256 11 257 7 258 8 259 9 260 7 261 6 262 12 263 16 264 13 265 12 266 13 267 12 268 12 269 10 270 6 271 4 272 3 273 2 274 3 275 5 276 8 277 10 278 10 279 12 280 15 281 14 282 15 283 14 284 8 285 10 286 15 287 19 288 16 289 10 290 7 291 5 292 5 293 8 294 10 295 7 296 7 297 11 298 11 299 9 300 10 301 9 302 7 303 6 304 5 305 8 306 11 307 10 308 9 309 11 310 14 311 10 312 7 313 7 314 4 315 2 316 4 317 7 318 7 319 6 320 6 321 6 322 6 323 8 324 10 325 9 326 9 327 16 328 19 329 12 330 7 331 5 332 6 333 11 334 17 335 18 336 14 337 9 338 5 339 7 340 9 341 9 342 9 343 7 344 4 345 9 346 15 347 10 348 8 349 15 350 19 351 16 352 8 353 3 354 2 355 4 356 7 357 9 358 14 359 18 360 11 361 6 362 9 363 12 364 11 365 15 366 17 367 11 368 8 369 8 370 13 371 22 372 17 373 15 374 15 375 11 376 12 377 10 378 6 379 8 380 8 381 9 382 10 383 7 384 6 385 8 386 7 387 8 388 7 389 8 390 12 391 13 392 13 393 12 394 11 395 9 396 9 397 12 398 15 399 19 400 22 401 16 402 11 403 10 404 7 405 5 406 7 407 11 408 12 409 7 410 6 411 9 412 10 413 7 414 8 415 10 416 6 417 6 418 9 419 9 420 7 421 5 422 5 423 6 424 7 425 8 426 6 427 5 428 6 429 10 430 13 431 11 432 11 433 10 434 6 435 8 436 14 437 14 438 10 439 11 440 13 441 10 442 6 443 5 444 9 445 19 446 24 447 23 448 19 449 10 450 3 451 9 452 18 453 14 454 12 455 13 456 9 457 7 458 9 459 9 460 9 461 9 462 7 463 5 464 5 465 7 466 7 467 10 468 10 469 7 470 8 471 8 472 6 473 5 474 6 475 4 476 3 477 4 478 6 479 6 480 6" stroke="#c0c4bc" stroke-opacity="0.55" vector-effect="non-scaling-stroke"/><path d="M0 15 1 8 2 5 3 7 4 11 5 9 6 7 7 15 8 22 9 14 10 7 11 7 12 5 13 5 14 10 15 12 16 10 17 13 18 13 19 7 20 5 21 8 22 10 23 11 24 13 25 11 26 8 27 7 28 9 29 9 30 8 31 11 32 16 33 16 34 10 35 8 36 9 37 10 38 8 39 7 40 8 41 8 42 10 43 12 44 9 45 7 46 9 47 9 48 6 49 6 50 10 51 12 52 10 53 5 54 6 55 10 56 8 57 5 58 9 59 11 60 9 61 10 62 11 63 8 64 4 65 5 66 11 67 16 68 22 69 31 70 26 71 12 72 6 73 10 74 13 75 10 76 8 77 14 78 13 79 8 80 8 81 11 82 14 83 12 84 6 85 5 86 7 87 9 88 8 89 7 90 7 91 10 92 12 93 7 94 5 95 9 96 11 97 9 98 10 99 14 100 16 101 16 102 12 103 8 104 8 105 9 106 10 107 10 108 8 109 13 110 19 111 13 112 7 113 7 114 10 115 10 116 7 117 7 118 12 119 14 120 14 121 15 122 16 123 15 124 12 125 8 126 10 127 16 128 15 129 12 130 13 131 11 132 11 133 15 134 14 135 8 136 6 137 7 138 8 139 10 140 9 141 6 142 5 143 7 144 11 145 7 146 10 147 16 148 12 149 8 150 9 151 10 152 10 153 9 154 12 155 12 156 10 157 9 158 8 159 9 160 11 161 15 162 15 163 8 164 4 165 6 166 6 167 6 168 8 169 11 170 8 171 7 172 11 173 10 174 11 175 13 176 10 177 10 178 11 179 7 180 6 181 7 182 5 183 6 184 9 185 9 186 12 187 15 188 11 189 6 190 7 191 13 192 16 193 15 194 11 195 8 196 7 197 8 198 13 199 17 200 12 201 9 202 12 203 11 204 8 205 8 206 9 207 10 208 7 209 5 210 6 211 8 212 7 213 8 214 12 215 11 216 10 217 13 218 10 219 9 220 10 221 11 222 13 223 14 224 16 225 14 226 11 227 11 228 7 229 6 230 7 231 7 232 7 233 6 234 5 235 7 236 8 237 8 238 8 239 8 240 5 241 5 242 6 243 9 244 13 245 15 246 11 247 8 248 6 249 4 250 5 251 7 252 11 253 11 254 9 255 11 256 12 257 12 258 10 259 7 260 6 261 4 262 4 263 5 264 9 265 10 266 8 267 14 268 17 269 12 270 10 271 10 272 7 273 9 274 16 275 15 276 8 277 8 278 11 279 7 280 7 281 14 282 13 283 8 284 6 285 6 286 5 287 7 288 10 289 9 290 5 291 6 292 7 293 9 294 10 295 11 296 11 297 9 298 8 299 11 300 11 301 6 302 3 303 5 304 6 305 6 306 5 307 9 308 16 309 16 310 9 311 6 312 8 313 8 314 9 315 13 316 11 317 9 318 9 319 9 320 10 321 8 322 6 323 6 324 6 325 9 326 8 327 8 328 10 329 7 330 5 331 7 332 9 333 10 334 8 335 6 336 5 337 7 338 11 339 10 340 5 341 6 342 11 343 10 344 5 345 3 346 10 347 18 348 11 349 7 350 9 351 9 352 9 353 8 354 10 355 16 356 16 357 9 358 8 359 16 360 20 361 13 362 7 363 8 364 9 365 6 366 5 367 8 368 9 369 6 370 5 371 6 372 6 373 7 374 8 375 9 376 6 377 3 378 7 379 9 380 5 381 5 382 10 383 11 384 13 385 13 386 11 387 12 388 12 389 11 390 10 391 11 392 14 393 11 394 9 395 9 396 7 397 7 398 7 399 6 400 6 401 8 402 9 403 9 404 9 405 11 406 13 407 11 408 7 409 5 410 5 411 6 412 6 413 7 414 8 415 9 416 13 417 14 418 13 419 8 420 7 421 7 422 5 423 5 424 7 425 8 426 13 427 15 428 13 429 10 430 7 431 5 432 7 433 8 434 7 435 4 436 5 437 9 438 15 439 15 440 11 441 9 442 8 443 8 444 11 445 15 446 18 447 15 448 7 449 4 450 7 451 8 452 7 453 7 454 10 455 10 456 8 457 6 458 7 459 14 460 25 461 26 462 19 463 17 464 16 465 12 466 12 467 20 468 24 469 18 470 12 471 7 472 5 473 8 474 12 475 13 476 11 477 11 478 12 479 11 480 6" stroke="#d8a8c0" stroke-opacity="0.55" vector-effect="non-scaling-stroke"/><path d="M0 19 1 14 2 12 3 12 4 10 5 7 6 5 7 9 8 15 9 20 10 22 11 13 12 6 13 6 14 5 15 8 16 13 17 13 18 9 19 11 20 12 21 8 22 9 23 11 24 10 25 8 26 7 27 7 28 8 29 6 30 5 31 5 32 4 33 5 34 7 35 11 36 14 37 10 38 6 39 4 40 4 41 5 42 6 43 6 44 7 45 8 46 5 47 4 48 7 49 11 50 12 51 11 52 13 53 14 54 12 55 12 56 10 57 11 58 14 59 12 60 11 61 11 62 11 63 10 64 12 65 17 66 18 67 14 68 12 69 10 70 10 71 13 72 12 73 9 74 11 75 13 76 13 77 8 78 8 79 12 80 10 81 5 82 7 83 13 84 13 85 11 86 12 87 12 88 13 89 12 90 11 91 12 92 12 93 11 94 9 95 7 96 6 97 5 98 4 99 4 100 5 101 6 102 5 103 6 104 8 105 8 106 8 107 9 108 11 109 14 110 16 111 10 112 8 113 9 114 8 115 7 116 7 117 10 118 11 119 12 120 10 121 8 122 11 123 11 124 8 125 7 126 6 127 6 128 10 129 12 130 9 131 6 132 10 133 13 134 11 135 15 136 20 137 11 138 4 139 8 140 13 141 11 142 13 143 15 144 11 145 5 146 3 147 6 148 13 149 19 150 17 151 14 152 7 153 4 154 6 155 6 156 5 157 6 158 10 159 12 160 9 161 6 162 4 163 5 164 7 165 8 166 9 167 8 168 8 169 8 170 6 171 6 172 8 173 7 174 5 175 4 176 5 177 6 178 6 179 6 180 6 181 9 182 18 183 23 184 16 185 9 186 10 187 9 188 10 189 8 190 8 191 12 192 14 193 18 194 16 195 12 196 7 197 3 198 7 199 9 200 8 201 10 202 11 203 8 204 7 205 9 206 8 207 8 208 8 209 8 210 8 211 5 212 4 213 4 214 6 215 10 216 13 217 9 218 6 219 5 220 5 221 4 222 4 223 9 224 13 225 12 226 12 227 13 228 13 229 13 230 14 231 13 232 10 233 13 234 14 235 17 236 20 237 16 238 14 239 11 240 6 241 6 242 7 243 7 244 9 245 9 246 8 247 5 248 6 249 8 250 11 251 13 252 14 253 14 254 10 255 8 256 9 257 8 258 9 259 12 260 15 261 13 262 8 263 7 264 8 265 8 266 9 267 8 268 7 269 11 270 10 271 7 272 5 273 5 274 7 275 8 276 7 277 4 278 4 279 8 280 13 281 12 282 8 283 7 284 8 285 7 286 8 287 13 288 9 289 8 290 12 291 13 292 11 293 9 294 7 295 6 296 6 297 9 298 8 299 6 300 7 301 10 302 9 303 7 304 6 305 4 306 3 307 5 308 5 309 7 310 11 311 8 312 10 313 18 314 18 315 15 316 12 317 12 318 16 319 15 320 8 321 11 322 16 323 10 324 4 325 5 326 4 327 4 328 4 329 5 330 6 331 7 332 11 333 9 334 7 335 5 336 3 337 2 338 4 339 7 340 8 341 10 342 8 343 6 344 10 345 14 346 12 347 9 348 6 349 7 350 10 351 8 352 7 353 14 354 20 355 14 356 11 357 13 358 12 359 15 360 15 361 10 362 8 363 9 364 10 365 5 366 5 367 9 368 9 369 7 370 5 371 3 372 3 373 8 374 14 375 12 376 6 377 4 378 5 379 5 380 7 381 7 382 8 383 12 384 13 385 14 386 15 387 10 388 8 389 9 390 12 391 14 392 9 393 5 394 7 395 8 396 11 397 13 398 12 399 12 400 9 401 7 402 8 403 6 404 7 405 8 406 8 407 7 408 7 409 10 410 12 411 10 412 10 413 11 414 12 415 11 416 6 417 3 418 12 419 19 420 14 421 9 422 9 423 11 424 12 425 15 426 17 427 10 428 6 429 10 430 15 431 14 432 8 433 5 434 10 435 17 436 15 437 8 438 6 439 6 440 7 441 12 442 13 443 13 444 14 445 11 446 11 447 14 448 14 449 14 450 12 451 12 452 22 453 30 454 21 455 7 456 3 457 3 458 6 459 9 460 10 461 8 462 9 463 14 464 14 465 9 466 12 467 12 468 7 469 5 470 4 471 4 472 6 473 6 474 4 475 7 476 12 477 11 478 7 479 11 480 21" stroke="#b8c8e0" stroke-opacity="0.55" vector-effect="non-scaling-stroke"/><path d="M0 7 1 7 2 7 3 7 4 8 5 9 6 8 7 7 8 7 9 9 10 8 11 9 12 12 13 12 14 14 15 16 16 10 17 6 18 5 19 7 20 13 21 16 22 13 23 10 24 8 25 10 26 13 27 10 28 4 29 6 30 14 31 20 32 14 33 6 34 4 35 7 36 7 37 6 38 5 39 4 40 5 41 9 42 13 43 11 44 7 45 7 46 8 47 9 48 14 49 15 50 9 51 6 52 10 53 13 54 14 55 10 56 8 57 8 58 9 59 12 60 14 61 14 62 12 63 8 64 7 65 6 66 4 67 6 68 7 69 7 70 8 71 7 72 4 73 4 74 8 75 8 76 6 77 8 78 11 79 9 80 6 81 8 82 10 83 9 84 12 85 12 86 8 87 5 88 10 89 17 90 17 91 16 92 15 93 9 94 5 95 3 96 5 97 8 98 10 99 9 100 11 101 16 102 16 103 12 104 9 105 8 106 10 107 11 108 9 109 7 110 14 111 20 112 16 113 12 114 16 115 16 116 14 117 14 118 12 119 7 120 9 121 17 122 16 123 10 124 9 125 11 126 10 127 6 128 9 129 13 130 10 131 10 132 9 133 6 134 8 135 13 136 14 137 10 138 12 139 17 140 13 141 7 142 4 143 6 144 11 145 13 146 14 147 16 148 12 149 8 150 6 151 9 152 12 153 8 154 3 155 5 156 8 157 7 158 6 159 5 160 12 161 19 162 16 163 11 164 9 165 9 166 8 167 8 168 9 169 8 170 8 171 7 172 4 173 6 174 13 175 15 176 10 177 9 178 11 179 7 180 5 181 6 182 6 183 7 184 9 185 9 186 9 187 10 188 8 189 7 190 11 191 16 192 15 193 13 194 16 195 15 196 10 197 10 198 10 199 8 200 7 201 6 202 9 203 13 204 9 205 9 206 12 207 11 208 10 209 10 210 8 211 9 212 15 213 17 214 16 215 13 216 9 217 7 218 11 219 12 220 7 221 3 222 6 223 11 224 13 225 13 226 9 227 7 228 10 229 16 230 19 231 16 232 10 233 8 234 13 235 18 236 11 237 8 238 13 239 11 240 9 241 12 242 9 243 6 244 6 245 8 246 14 247 14 248 8 249 5 250 11 251 14 252 11 253 11 254 9 255 6 256 6 257 9 258 11 259 15 260 19 261 15 262 11 263 10 264 9 265 11 266 8 267 6 268 6 269 5 270 4 271 4 272 5 273 6 274 10 275 14 276 12 277 7 278 7 279 8 280 9 281 13 282 16 283 14 284 8 285 6 286 8 287 8 288 8 289 6 290 3 291 2 292 4 293 9 294 12 295 10 296 10 297 12 298 8 299 5 300 8 301 10 302 10 303 7 304 8 305 12 306 9 307 5 308 8 309 13 310 12 311 8 312 7 313 7 314 7 315 10 316 14 317 21 318 26 319 20 320 9 321 5 322 7 323 10 324 11 325 12 326 8 327 6 328 8 329 8 330 6 331 6 332 7 333 8 334 7 335 5 336 4 337 6 338 7 339 7 340 7 341 8 342 7 343 8 344 14 345 17 346 12 347 11 348 14 349 11 350 9 351 10 352 7 353 9 354 11 355 8 356 5 357 7 358 7 359 6 360 7 361 7 362 5 363 3 364 6 365 10 366 8 367 5 368 7 369 14 370 16 371 12 372 9 373 9 374 9 375 9 376 11 377 10 378 8 379 8 380 8 381 6 382 4 383 7 384 11 385 7 386 12 387 18 388 12 389 12 390 14 391 11 392 10 393 11 394 8 395 6 396 6 397 9 398 10 399 18 400 28 401 28 402 22 403 14 404 8 405 5 406 4 407 4 408 8 409 12 410 9 411 14 412 23 413 19 414 14 415 14 416 17 417 19 418 10 419 4 420 3 421 10 422 18 423 14 424 17 425 25 426 18 427 6 428 6 429 13 430 11 431 5 432 7 433 12 434 10 435 10 436 15 437 14 438 10 439 10 440 11 441 10 442 13 443 16 444 11 445 8 446 7 447 9 448 11 449 10 450 8 451 11 452 16 453 14 454 9 455 11 456 14 457 14 458 12 459 8 460 6 461 11 462 12 463 6 464 4 465 9 466 12 467 9 468 8 469 10 470 12 471 14 472 12 473 13 474 13 475 9 476 10 477 11 478 14 479 22 480 21" stroke="#c0d0b8" stroke-opacity="0.55" vector-effect="non-scaling-stroke"/><path d="M0 5 1 5 2 10 3 12 4 1 5 13 6 5 7 10 8 12 9 4 10 12 11 4 12 5 13 10 14 4 15 4 16 10 17 10 18 10 19 2 20 1 21 3 22 4 23 7 24 5 25 9 26 4 27 4 28 3 29 2 30 4 31 3 32 4 33 7 34 3 35 2 36 9 37 3 38 19 39 11 40 6 41 5 42 15 43 4 44 9 45 6 46 4 47 11 48 7 49 8 50 12 51 13 52 2 53 5 54 6 55 3 56 9 57 5 58 13 59 9 60 7 61 3 62 2 63 10 64 3 65 2 66 1 67 13 68 2 69 6 70 10 71 3 72 7 73 10 74 11 75 8 76 13 77 10 78 4 79 12 80 1 81 1 82 1 83 4 84 4 85 5 86 5 87 1 88 1 89 8 90 9 91 3 92 3 93 6 94 3 95 6 96 4 97 10 98 10 99 11 100 7 101 11 102 5 103 1 104 7 105 13 106 4 107 2 108 1 109 11 110 13 111 10 112 3 113 8 114 2 115 4 116 2 117 0 118 2 119 17 120 13 121 10 122 13 123 2 124 10 125 2 126 12 127 3 128 10 129 4 130 5 131 2 132 13 133 12 134 4 135 2 136 19 137 5 138 3 139 11 140 5 141 3 142 11 143 6 144 4 145 10 146 2 147 2 148 5 149 3 150 4 151 2 152 5 153 2 154 16 155 9 156 6 157 6 158 4 159 12 160 2 161 3 162 7 163 1 164 5 165 9 166 5 167 6 168 8 169 4 170 5 171 3 172 5 173 10 174 3 175 4 176 2 177 6 178 2 179 2 180 10 181 5 182 7 183 1 184 8 185 4 186 8 187 11 188 12 189 9 190 1 191 8 192 9 193 1 194 8 195 11 196 12 197 5 198 10 199 10 200 4 201 7 202 1 203 12 204 12 205 6 206 9 207 5 208 8 209 2 210 1 211 10 212 8 213 4 214 9 215 1 216 10 217 6 218 2 219 3 220 4 221 2 222 2 223 3 224 5 225 3 226 1 227 10 228 5 229 12 230 10 231 1 232 6 233 10 234 4 235 3 236 3 237 10 238 1 239 8 240 3 241 6 242 11 243 9 244 10 245 10 246 5 247 10 248 10 249 10 250 4 251 4 252 10 253 4 254 4 255 3 256 12 257 4 258 3 259 5 260 2 261 4 262 4 263 2 264 12 265 13 266 18 267 7 268 5 269 0 270 4 271 10 272 3 273 2 274 9 275 3 276 5 277 1 278 9 279 12 280 9 281 1 282 11 283 1 284 1 285 12 286 1 287 10 288 2 289 2 290 12 291 12 292 11 293 3 294 12 295 3 296 11 297 12 298 4 299 5 300 3 301 2 302 12 303 1 304 3 305 23 306 9 307 11 308 4 309 10 310 7 311 9 312 2 313 1 314 9 315 6 316 4 317 2 318 3 319 2 320 2 321 2 322 4 323 6 324 2 325 0 326 7 327 5 328 3 329 4 330 1 331 3 332 8 333 7 334 10 335 5 336 2 337 3 338 12 339 12 340 2 341 7 342 10 343 10 344 8 345 8 346 5 347 9 348 2 349 6 350 4 351 4 352 3 353 10 354 1 355 6 356 4 357 8 358 2 359 1 360 1 361 13 362 6 363 11 364 7 365 1 366 3 367 13 368 13 369 3 370 1 371 2 372 4 373 2 374 11 375 2 376 4 377 2 378 5 379 5 380 10 381 2 382 5 383 2 384 5 385 12 386 4 387 4 388 4 389 4 390 3 391 3 392 1 393 2 394 4 395 7 396 7 397 4 398 12 399 13 400 3 401 2 402 4 403 9 404 1 405 1 406 12 407 5 408 5 409 12 410 9 411 5 412 10 413 1 414 9 415 7 416 9 417 9 418 8 419 13 420 3 421 2 422 5 423 7 424 1 425 3 426 3 427 1 428 3 429 0 430 4 431 3 432 10 433 4 434 1 435 3 436 3 437 4 438 12 439 3 440 6 441 4 442 6 443 3 444 2 445 4 446 3 447 10 448 8 449 4 450 4 451 5 452 7 453 3 454 5 455 10 456 5 457 3 458 7 459 10 460 8 461 1 462 5 463 11 464 8 465 3 466 2 467 4 468 5 469 10 470 3 471 5 472 9 473 4 474 2 475 11 476 3 477 1 478 2 479 16 480 4" stroke="#b85a48" stroke-opacity="0.45" vector-effect="non-scaling-stroke"/><path d="M0 2 1 8 2 10 3 10 4 8 5 3 6 5 7 11 8 4 9 11 10 11 11 12 12 10 13 10 14 4 15 4 16 1 17 12 18 5 19 3 20 8 21 4 22 3 23 10 24 1 25 5 26 10 27 2 28 3 29 5 30 4 31 4 32 3 33 4 34 11 35 4 36 4 37 12 38 2 39 8 40 2 41 3 42 1 43 4 44 1 45 5 46 5 47 1 48 7 49 6 50 20 51 9 52 4 53 15 54 12 55 10 56 9 57 4 58 10 59 1 60 1 61 6 62 4 63 9 64 12 65 1 66 8 67 5 68 3 69 1 70 0 71 11 72 13 73 8 74 1 75 2 76 2 77 2 78 2 79 4 80 10 81 4 82 4 83 8 84 7 85 7 86 1 87 1 88 4 89 1 90 6 91 3 92 1 93 11 94 8 95 2 96 6 97 4 98 6 99 12 100 6 101 4 102 5 103 3 104 1 105 12 106 1 107 3 108 2 109 1 110 12 111 10 112 11 113 9 114 6 115 7 116 13 117 11 118 8 119 5 120 6 121 2 122 2 123 8 124 3 125 3 126 5 127 5 128 10 129 4 130 4 131 9 132 13 133 5 134 4 135 14 136 12 137 4 138 7 139 4 140 7 141 5 142 4 143 2 144 5 145 8 146 3 147 3 148 2 149 12 150 3 151 4 152 4 153 8 154 4 155 9 156 8 157 9 158 12 159 5 160 2 161 6 162 1 163 16 164 11 165 9 166 2 167 5 168 12 169 1 170 3 171 2 172 5 173 5 174 5 175 12 176 4 177 12 178 6 179 7 180 3 181 3 182 7 183 10 184 7 185 13 186 9 187 4 188 3 189 2 190 6 191 5 192 10 193 7 194 13 195 7 196 4 197 3 198 4 199 4 200 1 201 4 202 3 203 11 204 2 205 5 206 3 207 11 208 15 209 10 210 5 211 7 212 10 213 4 214 4 215 4 216 8 217 6 218 3 219 7 220 2 221 13 222 3 223 4 224 6 225 12 226 3 227 3 228 2 229 6 230 7 231 5 232 5 233 3 234 5 235 4 236 2 237 2 238 4 239 1 240 4 241 4 242 11 243 3 244 1 245 7 246 5 247 8 248 2 249 9 250 5 251 6 252 3 253 11 254 10 255 12 256 12 257 5 258 11 259 7 260 3 261 13 262 4 263 8 264 9 265 2 266 7 267 8 268 4 269 7 270 8 271 7 272 1 273 10 274 1 275 3 276 3 277 13 278 12 279 3 280 4 281 3 282 6 283 12 284 5 285 8 286 4 287 5 288 10 289 4 290 1 291 3 292 1 293 3 294 1 295 4 296 4 297 4 298 1 299 2 300 3 301 4 302 9 303 5 304 1 305 2 306 10 307 3 308 9 309 10 310 4 311 5 312 5 313 4 314 3 315 5 316 4 317 7 318 3 319 3 320 11 321 4 322 8 323 1 324 1 325 2 326 12 327 3 328 7 329 1 330 8 331 11 332 11 333 5 334 4 335 10 336 3 337 3 338 13 339 5 340 10 341 5 342 4 343 3 344 2 345 7 346 10 347 2 348 8 349 4 350 8 351 8 352 13 353 1 354 12 355 4 356 8 357 10 358 4 359 1 360 16 361 3 362 5 363 12 364 2 365 5 366 11 367 3 368 13 369 3 370 7 371 12 372 7 373 10 374 6 375 9 376 5 377 9 378 2 379 13 380 7 381 2 382 4 383 1 384 13 385 7 386 7 387 3 388 5 389 5 390 1 391 3 392 5 393 9 394 8 395 5 396 6 397 6 398 8 399 1 400 12 401 12 402 2 403 7 404 1 405 10 406 2 407 6 408 6 409 12 410 8 411 5 412 1 413 2 414 12 415 2 416 6 417 7 418 12 419 7 420 19 421 4 422 12 423 5 424 3 425 2 426 8 427 11 428 7 429 12 430 7 431 9 432 13 433 4 434 3 435 13 436 2 437 9 438 7 439 11 440 3 441 5 442 8 443 4 444 6 445 1 446 5 447 6 448 9 449 7 450 4 451 10 452 13 453 9 454 4 455 2 456 5 457 1 458 2 459 11 460 10 461 1 462 2 463 5 464 3 465 6 466 1 467 8 468 5 469 9 470 3 471 3 472 4 473 4 474 10 475 2 476 12 477 11 478 3 479 2 480 4" stroke="#8c9898" stroke-opacity="0.45" vector-effect="non-scaling-stroke"/><path d="M0 1 1 0 2 3 3 8 4 7 5 2 6 4 7 4 8 10 9 2 10 10 11 3 12 2 13 2 14 9 15 4 16 6 17 1 18 5 19 4 20 2 21 5 22 8 23 5 24 0 25 9 26 14 27 9 28 6 29 11 30 4 31 12 32 12 33 3 34 6 35 10 36 3 37 13 38 9 39 2 40 9 41 2 42 2 43 6 44 12 45 2 46 5 47 3 48 1 49 1 50 11 51 1 52 3 53 11 54 1 55 8 56 8 57 5 58 8 59 8 60 7 61 4 62 10 63 9 64 19 65 4 66 5 67 3 68 11 69 3 70 4 71 4 72 4 73 1 74 3 75 10 76 4 77 2 78 13 79 4 80 10 81 14 82 10 83 3 84 7 85 3 86 3 87 7 88 3 89 9 90 11 91 2 92 7 93 3 94 8 95 5 96 5 97 5 98 4 99 5 100 3 101 5 102 1 103 3 104 7 105 12 106 5 107 7 108 8 109 4 110 10 111 12 112 6 113 9 114 7 115 2 116 2 117 5 118 1 119 5 120 5 121 4 122 13 123 4 124 2 125 12 126 5 127 6 128 4 129 10 130 4 131 2 132 3 133 15 134 4 135 11 136 4 137 7 138 2 139 9 140 4 141 7 142 1 143 3 144 11 145 5 146 6 147 7 148 3 149 3 150 5 151 4 152 2 153 2 154 3 155 8 156 3 157 10 158 4 159 5 160 2 161 5 162 9 163 1 164 4 165 4 166 1 167 10 168 5 169 10 170 3 171 1 172 10 173 13 174 7 175 11 176 6 177 11 178 1 179 14 180 1 181 1 182 1 183 7 184 1 185 12 186 6 187 10 188 9 189 2 190 5 191 13 192 11 193 1 194 2 195 4 196 3 197 4 198 5 199 5 200 1 201 10 202 5 203 10 204 11 205 2 206 2 207 11 208 1 209 2 210 5 211 13 212 2 213 7 214 11 215 8 216 4 217 3 218 1 219 8 220 2 221 6 222 8 223 9 224 2 225 13 226 1 227 9 228 13 229 4 230 3 231 7 232 13 233 1 234 5 235 9 236 8 237 1 238 1 239 2 240 2 241 3 242 4 243 2 244 11 245 16 246 18 247 1 248 4 249 4 250 3 251 13 252 8 253 1 254 4 255 3 256 3 257 12 258 1 259 9 260 4 261 2 262 5 263 3 264 2 265 3 266 4 267 8 268 9 269 4 270 2 271 6 272 8 273 9 274 11 275 10 276 12 277 9 278 1 279 8 280 1 281 12 282 5 283 1 284 8 285 5 286 4 287 9 288 7 289 1 290 10 291 4 292 8 293 10 294 2 295 10 296 1 297 6 298 2 299 3 300 13 301 2 302 12 303 10 304 10 305 3 306 5 307 6 308 3 309 2 310 4 311 6 312 4 313 6 314 7 315 5 316 8 317 7 318 1 319 0 320 7 321 6 322 11 323 1 324 1 325 2 326 3 327 10 328 1 329 15 330 8 331 7 332 4 333 10 334 12 335 3 336 10 337 8 338 1 339 8 340 13 341 1 342 2 343 9 344 2 345 11 346 13 347 1 348 2 349 2 350 4 351 7 352 10 353 1 354 4 355 9 356 4 357 13 358 1 359 3 360 2 361 11 362 4 363 5 364 1 365 8 366 1 367 8 368 2 369 12 370 11 371 2 372 6 373 10 374 3 375 12 376 6 377 12 378 3 379 3 380 5 381 2 382 6 383 10 384 11 385 4 386 6 387 4 388 11 389 3 390 2 391 4 392 4 393 1 394 7 395 2 396 3 397 3 398 7 399 6 400 1 401 4 402 13 403 6 404 6 405 4 406 3 407 8 408 4 409 5 410 2 411 3 412 2 413 6 414 12 415 9 416 9 417 11 418 6 419 1 420 12 421 8 422 10 423 2 424 10 425 8 426 12 427 4 428 6 429 7 430 12 431 3 432 6 433 12 434 8 435 5 436 2 437 13 438 8 439 3 440 3 441 3 442 12 443 3 444 5 445 1 446 4 447 9 448 11 449 8 450 11 451 4 452 3 453 9 454 9 455 8 456 13 457 6 458 13 459 4 460 3 461 2 462 3 463 5 464 3 465 2 466 4 467 14 468 5 469 1 470 11 471 10 472 20 473 1 474 2 475 2 476 9 477 13 478 3 479 10 480 12" stroke="#b0564a" stroke-opacity="0.45" vector-effect="non-scaling-stroke"/><path d="M0 12 1 3 2 8 3 3 4 2 5 10 6 1 7 5 8 3 9 8 10 1 11 12 12 8 13 2 14 2 15 7 16 5 17 4 18 1 19 3 20 1 21 7 22 5 23 4 24 4 25 12 26 8 27 1 28 5 29 9 30 3 31 1 32 2 33 14 34 8 35 5 36 2 37 4 38 4 39 9 40 12 41 5 42 3 43 8 44 4 45 2 46 13 47 1 48 12 49 1 50 5 51 12 52 1 53 24 54 6 55 6 56 3 57 5 58 8 59 6 60 4 61 4 62 11 63 3 64 6 65 1 66 2 67 4 68 10 69 7 70 3 71 1 72 11 73 2 74 8 75 2 76 6 77 10 78 5 79 5 80 6 81 9 82 9 83 3 84 8 85 1 86 4 87 7 88 9 89 1 90 5 91 1 92 3 93 3 94 4 95 1 96 7 97 7 98 1 99 4 100 5 101 6 102 2 103 5 104 5 105 6 106 9 107 4 108 2 109 12 110 1 111 4 112 12 113 9 114 8 115 5 116 5 117 3 118 5 119 4 120 9 121 2 122 9 123 12 124 5 125 3 126 2 127 1 128 8 129 4 130 2 131 4 132 3 133 5 134 4 135 10 136 9 137 6 138 3 139 11 140 11 141 1 142 8 143 2 144 6 145 3 146 4 147 4 148 2 149 5 150 12 151 13 152 11 153 9 154 3 155 1 156 9 157 5 158 11 159 1 160 5 161 4 162 4 163 5 164 4 165 3 166 5 167 6 168 12 169 9 170 12 171 3 172 13 173 3 174 1 175 4 176 1 177 4 178 4 179 2 180 9 181 4 182 4 183 5 184 1 185 10 186 7 187 3 188 11 189 10 190 6 191 12 192 8 193 1 194 5 195 3 196 11 197 5 198 4 199 1 200 11 201 4 202 12 203 2 204 5 205 2 206 5 207 7 208 9 209 4 210 5 211 3 212 13 213 3 214 11 215 6 216 7 217 7 218 12 219 4 220 12 221 12 222 11 223 9 224 3 225 6 226 10 227 5 228 2 229 7 230 4 231 11 232 3 233 11 234 3 235 8 236 9 237 1 238 11 239 4 240 12 241 5 242 5 243 14 244 5 245 10 246 7 247 2 248 4 249 8 250 1 251 3 252 4 253 9 254 9 255 8 256 2 257 8 258 3 259 3 260 10 261 6 262 5 263 8 264 2 265 9 266 10 267 4 268 11 269 8 270 1 271 8 272 4 273 1 274 11 275 2 276 6 277 12 278 2 279 4 280 6 281 3 282 1 283 10 284 4 285 9 286 4 287 12 288 1 289 2 290 4 291 4 292 7 293 2 294 8 295 3 296 3 297 9 298 10 299 5 300 8 301 3 302 11 303 10 304 13 305 9 306 5 307 7 308 5 309 12 310 11 311 9 312 8 313 1 314 3 315 2 316 4 317 11 318 2 319 1 320 12 321 4 322 11 323 13 324 10 325 5 326 1 327 2 328 1 329 12 330 2 331 1 332 7 333 4 334 12 335 12 336 6 337 20 338 11 339 2 340 4 341 2 342 1 343 2 344 6 345 9 346 4 347 3 348 6 349 6 350 2 351 11 352 1 353 5 354 8 355 2 356 12 357 9 358 9 359 6 360 10 361 5 362 4 363 4 364 2 365 3 366 11 367 6 368 5 369 13 370 5 371 2 372 7 373 5 374 11 375 4 376 10 377 4 378 5 379 7 380 11 381 4 382 4 383 13 384 4 385 10 386 4 387 4 388 6 389 9 390 6 391 5 392 1 393 2 394 11 395 6 396 4 397 4 398 2 399 3 400 10 401 5 402 10 403 4 404 8 405 1 406 12 407 8 408 1 409 1 410 11 411 11 412 9 413 4 414 10 415 12 416 10 417 7 418 2 419 1 420 5 421 2 422 4 423 6 424 10 425 1 426 10 427 8 428 5 429 12 430 5 431 2 432 9 433 10 434 12 435 6 436 1 437 3 438 3 439 11 440 6 441 2 442 3 443 4 444 1 445 1 446 8 447 12 448 7 449 2 450 3 451 11 452 5 453 1 454 4 455 10 456 8 457 13 458 3 459 6 460 1 461 9 462 4 463 6 464 3 465 3 466 3 467 2 468 11 469 1 470 3 471 4 472 4 473 1 474 9 475 7 476 8 477 2 478 8 479 6 480 3" stroke="#98a4a2" stroke-opacity="0.45" vector-effect="non-scaling-stroke"/><path d="M0 6 1 3 2 15 3 12 4 1 5 10 6 3 7 8 8 11 9 3 10 12 11 4 12 10 13 5 14 5 15 6 16 2 17 2 18 1 19 5 20 4 21 3 22 11 23 5 24 10 25 4 26 2 27 7 28 4 29 4 30 3 31 4 32 4 33 1 34 10 35 12 36 11 37 3 38 2 39 4 40 12 41 3 42 4 43 10 44 3 45 4 46 7 47 2 48 5 49 5 50 12 51 4 52 11 53 5 54 3 55 11 56 10 57 4 58 12 59 11 60 5 61 8 62 3 63 4 64 6 65 9 66 2 67 12 68 3 69 4 70 12 71 1 72 7 73 7 74 2 75 6 76 3 77 2 78 4 79 4 80 2 81 1 82 0 83 5 84 7 85 7 86 8 87 2 88 10 89 10 90 1 91 2 92 2 93 7 94 18 95 3 96 10 97 8 98 3 99 2 100 4 101 11 102 13 103 1 104 7 105 2 106 7 107 6 108 5 109 6 110 4 111 1 112 0 113 4 114 5 115 8 116 4 117 9 118 13 119 2 120 8 121 3 122 6 123 5 124 11 125 2 126 4 127 12 128 6 129 15 130 2 131 14 132 10 133 3 134 11 135 11 136 13 137 9 138 9 139 5 140 10 141 10 142 5 143 6 144 4 145 3 146 6 147 4 148 1 149 3 150 2 151 8 152 4 153 5 154 4 155 5 156 12 157 2 158 8 159 12 160 2 161 3 162 10 163 8 164 12 165 9 166 3 167 4 168 7 169 4 170 5 171 8 172 4 173 12 174 10 175 3 176 11 177 13 178 1 179 7 180 3 181 2 182 9 183 8 184 1 185 2 186 10 187 1 188 1 189 2 190 4 191 13 192 10 193 10 194 4 195 2 196 11 197 1 198 8 199 4 200 5 201 5 202 9 203 2 204 1 205 1 206 4 207 5 208 2 209 2 210 5 211 8 212 4 213 6 214 6 215 6 216 6 217 3 218 7 219 3 220 12 221 12 222 8 223 6 224 4 225 6 226 2 227 4 228 1 229 16 230 21 231 2 232 2 233 6 234 3 235 9 236 12 237 4 238 5 239 11 240 1 241 3 242 11 243 5 244 11 245 7 246 7 247 3 248 3 249 11 250 1 251 6 252 12 253 3 254 2 255 2 256 6 257 1 258 2 259 5 260 10 261 1 262 3 263 10 264 3 265 5 266 12 267 1 268 4 269 11 270 12 271 1 272 1 273 11 274 12 275 2 276 9 277 2 278 13 279 1 280 6 281 3 282 11 283 10 284 5 285 3 286 6 287 5 288 1 289 4 290 3 291 4 292 4 293 11 294 4 295 3 296 2 297 7 298 5 299 4 300 2 301 2 302 2 303 2 304 6 305 5 306 6 307 2 308 2 309 5 310 10 311 13 312 12 313 10 314 2 315 4 316 3 317 11 318 1 319 1 320 3 321 9 322 3 323 3 324 12 325 9 326 2 327 2 328 2 329 4 330 4 331 8 332 2 333 9 334 4 335 2 336 6 337 1 338 11 339 7 340 1 341 12 342 6 343 12 344 13 345 12 346 2 347 5 348 6 349 1 350 1 351 7 352 3 353 3 354 11 355 3 356 10 357 8 358 4 359 3 360 4 361 7 362 7 363 20 364 8 365 6 366 6 367 4 368 6 369 5 370 4 371 1 372 7 373 16 374 2 375 5 376 2 377 8 378 7 379 3 380 7 381 7 382 6 383 9 384 6 385 2 386 4 387 4 388 7 389 3 390 5 391 3 392 13 393 3 394 2 395 1 396 3 397 2 398 2 399 11 400 1 401 3 402 3 403 2 404 3 405 2 406 1 407 9 408 1 409 1 410 4 411 7 412 12 413 8 414 7 415 12 416 12 417 12 418 1 419 7 420 5 421 4 422 10 423 8 424 10 425 7 426 2 427 1 428 4 429 10 430 7 431 11 432 2 433 4 434 5 435 7 436 7 437 4 438 7 439 6 440 5 441 10 442 2 443 1 444 13 445 9 446 2 447 5 448 3 449 13 450 1 451 10 452 6 453 4 454 6 455 7 456 1 457 11 458 4 459 1 460 4 461 8 462 9 463 8 464 1 465 1 466 1 467 12 468 1 469 2 470 4 471 4 472 1 473 9 474 1 475 3 476 3 477 10 478 10 479 13 480 5" stroke="#a0587a" stroke-opacity="0.45" vector-effect="non-scaling-stroke"/><path d="M0 3 1 4 2 9 3 8 4 11 5 8 6 13 7 8 8 13 9 2 10 5 11 9 12 8 13 9 14 9 15 7 16 2 17 2 18 4 19 10 20 1 21 1 22 5 23 13 24 2 25 10 26 4 27 9 28 3 29 5 30 5 31 5 32 2 33 12 34 11 35 12 36 8 37 9 38 12 39 6 40 6 41 11 42 10 43 13 44 7 45 7 46 3 47 5 48 4 49 5 50 10 51 12 52 8 53 2 54 3 55 6 56 1 57 10 58 2 59 11 60 1 61 10 62 3 63 5 64 9 65 3 66 13 67 1 68 1 69 11 70 6 71 11 72 2 73 11 74 8 75 4 76 5 77 9 78 8 79 8 80 6 81 4 82 6 83 10 84 11 85 9 86 8 87 2 88 12 89 13 90 1 91 10 92 3 93 7 94 4 95 4 96 1 97 4 98 4 99 1 100 3 101 9 102 3 103 9 104 6 105 5 106 6 107 4 108 4 109 11 110 11 111 9 112 9 113 2 114 2 115 1 116 8 117 12 118 1 119 10 120 7 121 11 122 2 123 1 124 11 125 8 126 5 127 5 128 7 129 2 130 3 131 5 132 11 133 2 134 2 135 4 136 3 137 10 138 3 139 3 140 4 141 8 142 5 143 11 144 6 145 2 146 6 147 4 148 1 149 11 150 5 151 11 152 1 153 12 154 6 155 11 156 9 157 4 158 8 159 5 160 2 161 4 162 3 163 3 164 4 165 14 166 4 167 2 168 2 169 2 170 10 171 2 172 7 173 1 174 15 175 2 176 3 177 5 178 3 179 3 180 3 181 6 182 6 183 6 184 4 185 2 186 5 187 7 188 13 189 2 190 3 191 9 192 10 193 8 194 4 195 2 196 13 197 13 198 6 199 16 200 3 201 4 202 22 203 3 204 9 205 3 206 7 207 3 208 1 209 2 210 8 211 4 212 12 213 2 214 8 215 4 216 1 217 6 218 3 219 4 220 10 221 4 222 5 223 10 224 12 225 2 226 11 227 5 228 4 229 1 230 5 231 2 232 1 233 1 234 2 235 7 236 11 237 8 238 3 239 9 240 3 241 9 242 4 243 3 244 3 245 9 246 9 247 8 248 4 249 12 250 2 251 2 252 5 253 11 254 2 255 1 256 2 257 3 258 12 259 11 260 4 261 5 262 4 263 11 264 3 265 13 266 9 267 4 268 10 269 13 270 6 271 4 272 11 273 4 274 5 275 9 276 3 277 3 278 3 279 4 280 10 281 1 282 13 283 4 284 3 285 5 286 9 287 2 288 6 289 5 290 9 291 13 292 12 293 13 294 13 295 10 296 1 297 3 298 4 299 3 300 5 301 8 302 1 303 3 304 4 305 2 306 4 307 1 308 7 309 4 310 12 311 13 312 5 313 8 314 3 315 10 316 2 317 4 318 1 319 4 320 7 321 2 322 12 323 4 324 3 325 1 326 11 327 10 328 7 329 5 330 2 331 3 332 2 333 4 334 5 335 10 336 2 337 6 338 3 339 14 340 11 341 6 342 0 343 7 344 2 345 9 346 11 347 6 348 4 349 1 350 4 351 8 352 9 353 2 354 3 355 5 356 9 357 9 358 3 359 9 360 11 361 9 362 1 363 4 364 3 365 2 366 3 367 12 368 3 369 1 370 5 371 4 372 1 373 10 374 4 375 3 376 8 377 7 378 11 379 13 380 1 381 8 382 5 383 15 384 6 385 6 386 2 387 10 388 10 389 2 390 9 391 10 392 3 393 4 394 6 395 2 396 9 397 6 398 1 399 12 400 7 401 2 402 12 403 1 404 9 405 3 406 4 407 2 408 2 409 9 410 1 411 12 412 9 413 2 414 4 415 7 416 4 417 12 418 4 419 3 420 6 421 2 422 1 423 3 424 2 425 1 426 5 427 7 428 3 429 12 430 8 431 3 432 3 433 9 434 13 435 1 436 11 437 1 438 1 439 2 440 5 441 2 442 9 443 9 444 3 445 7 446 9 447 0 448 4 449 11 450 10 451 1 452 3 453 2 454 2 455 3 456 7 457 13 458 11 459 5 460 13 461 13 462 12 463 7 464 5 465 3 466 12 467 1 468 9 469 9 470 5 471 4 472 0 473 4 474 8 475 8 476 4 477 10 478 11 479 5 480 3" stroke="#8494a0" stroke-opacity="0.45" vector-effect="non-scaling-stroke"/><path d="M0 7 1 4 2 2 3 6 4 3 5 13 6 4 7 1 8 5 9 5 10 2 11 5 12 1 13 8 14 1 15 4 16 4 17 2 18 6 19 4 20 2 21 13 22 5 23 5 24 2 25 4 26 9 27 5 28 5 29 4 30 3 31 10 32 23 33 5 34 9 35 10 36 3 37 6 38 3 39 3 40 8 41 1 42 13 43 8 44 11 45 11 46 9 47 3 48 3 49 11 50 3 51 2 52 6 53 8 54 12 55 4 56 13 57 3 58 9 59 5 60 2 61 12 62 6 63 2 64 3 65 3 66 6 67 6 68 7 69 4 70 6 71 8 72 10 73 11 74 9 75 1 76 3 77 0 78 4 79 12 80 10 81 12 82 2 83 3 84 4 85 10 86 3 87 6 88 1 89 2 90 3 91 12 92 5 93 4 94 3 95 1 96 3 97 4 98 2 99 13 100 4 101 2 102 6 103 8 104 2 105 9 106 5 107 5 108 5 109 5 110 5 111 12 112 2 113 5 114 11 115 4 116 0 117 5 118 10 119 11 120 1 121 7 122 8 123 9 124 6 125 4 126 6 127 3 128 4 129 11 130 8 131 2 132 8 133 12 134 10 135 3 136 11 137 2 138 2 139 1 140 11 141 11 142 2 143 7 144 13 145 12 146 3 147 3 148 11 149 11 150 1 151 1 152 3 153 7 154 2 155 3 156 1 157 2 158 8 159 3 160 1 161 11 162 9 163 2 164 9 165 3 166 5 167 4 168 5 169 4 170 11 171 1 172 2 173 2 174 9 175 3 176 11 177 6 178 3 179 6 180 11 181 4 182 9 183 3 184 9 185 3 186 13 187 3 188 11 189 14 190 1 191 4 192 10 193 2 194 2 195 11 196 3 197 5 198 10 199 1 200 13 201 12 202 1 203 5 204 1 205 1 206 2 207 8 208 3 209 5 210 2 211 4 212 5 213 3 214 4 215 5 216 12 217 3 218 12 219 12 220 12 221 5 222 5 223 8 224 0 225 11 226 4 227 1 228 11 229 4 230 7 231 8 232 11 233 6 234 1 235 4 236 12 237 10 238 10 239 5 240 9 241 5 242 7 243 4 244 2 245 1 246 4 247 12 248 3 249 12 250 2 251 8 252 4 253 5 254 12 255 5 256 2 257 2 258 6 259 5 260 2 261 4 262 4 263 6 264 3 265 13 266 3 267 5 268 11 269 11 270 4 271 3 272 1 273 4 274 7 275 2 276 2 277 1 278 1 279 10 280 4 281 7 282 3 283 11 284 3 285 5 286 7 287 9 288 2 289 5 290 5 291 5 292 17 293 12 294 12 295 5 296 11 297 9 298 12 299 11 300 3 301 5 302 10 303 1 304 8 305 4 306 8 307 1 308 5 309 6 310 3 311 2 312 5 313 2 314 3 315 10 316 12 317 13 318 2 319 7 320 0 321 17 322 12 323 2 324 6 325 12 326 2 327 4 328 4 329 8 330 3 331 5 332 6 333 10 334 4 335 8 336 12 337 3 338 2 339 1 340 6 341 4 342 3 343 4 344 9 345 3 346 11 347 2 348 9 349 11 350 1 351 10 352 8 353 11 354 9 355 2 356 12 357 4 358 6 359 1 360 11 361 4 362 10 363 10 364 1 365 7 366 3 367 4 368 2 369 7 370 3 371 7 372 8 373 5 374 12 375 4 376 1 377 4 378 2 379 6 380 3 381 4 382 1 383 10 384 6 385 7 386 2 387 11 388 5 389 5 390 2 391 12 392 11 393 1 394 6 395 11 396 2 397 2 398 10 399 9 400 11 401 8 402 3 403 13 404 7 405 9 406 1 407 10 408 5 409 3 410 7 411 2 412 13 413 6 414 4 415 12 416 1 417 8 418 3 419 10 420 6 421 7 422 6 423 9 424 11 425 2 426 2 427 12 428 10 429 6 430 8 431 4 432 5 433 4 434 7 435 2 436 1 437 1 438 8 439 1 440 4 441 6 442 5 443 5 444 4 445 10 446 9 447 6 448 12 449 9 450 4 451 7 452 2 453 3 454 2 455 8 456 12 457 1 458 4 459 7 460 4 461 3 462 20 463 5 464 5 465 1 466 6 467 8 468 9 469 7 470 2 471 7 472 13 473 0 474 7 475 5 476 4 477 5 478 10 479 6 480 0" stroke="#808c8c" stroke-opacity="0.45" vector-effect="non-scaling-stroke"/><path d="M0 2 1 4 2 2 3 3 4 4 5 1 6 12 7 6 8 10 9 4 10 2 11 9 12 10 13 1 14 10 15 13 16 9 17 8 18 5 19 3 20 2 21 2 22 12 23 6 24 5 25 1 26 9 27 10 28 3 29 2 30 1 31 2 32 12 33 6 34 12 35 1 36 3 37 3 38 7 39 1 40 10 41 1 42 6 43 5 44 2 45 4 46 6 47 11 48 4 49 5 50 5 51 3 52 3 53 13 54 5 55 5 56 1 57 7 58 3 59 9 60 7 61 4 62 1 63 4 64 5 65 0 66 12 67 3 68 5 69 1 70 7 71 1 72 1 73 8 74 1 75 7 76 5 77 4 78 4 79 3 80 1 81 5 82 11 83 1 84 3 85 5 86 10 87 1 88 8 89 5 90 2 91 2 92 11 93 12 94 3 95 8 96 12 97 10 98 2 99 10 100 2 101 11 102 11 103 8 104 4 105 2 106 11 107 2 108 4 109 2 110 3 111 0 112 11 113 11 114 5 115 5 116 13 117 6 118 3 119 2 120 13 121 5 122 3 123 2 124 7 125 11 126 6 127 1 128 11 129 2 130 6 131 6 132 1 133 5 134 6 135 9 136 1 137 12 138 12 139 16 140 7 141 5 142 3 143 1 144 1 145 8 146 9 147 9 148 12 149 4 150 2 151 1 152 2 153 11 154 7 155 4 156 10 157 2 158 8 159 2 160 9 161 10 162 9 163 7 164 5 165 4 166 1 167 19 168 6 169 4 170 4 171 7 172 9 173 5 174 7 175 10 176 7 177 5 178 7 179 12 180 3 181 1 182 8 183 9 184 9 185 17 186 12 187 2 188 12 189 8 190 7 191 9 192 5 193 5 194 7 195 1 196 12 197 4 198 6 199 9 200 2 201 8 202 12 203 3 204 4 205 2 206 7 207 4 208 13 209 12 210 6 211 9 212 2 213 3 214 12 215 13 216 2 217 6 218 2 219 7 220 5 221 1 222 2 223 10 224 10 225 10 226 2 227 11 228 5 229 7 230 13 231 12 232 2 233 1 234 9 235 10 236 8 237 2 238 3 239 12 240 5 241 2 242 4 243 4 244 11 245 7 246 8 247 10 248 4 249 3 250 2 251 8 252 12 253 5 254 9 255 4 256 6 257 5 258 6 259 1 260 5 261 3 262 3 263 12 264 5 265 6 266 1 267 2 268 4 269 12 270 11 271 5 272 8 273 5 274 10 275 4 276 3 277 2 278 2 279 12 280 6 281 4 282 4 283 7 284 2 285 1 286 7 287 7 288 4 289 12 290 13 291 2 292 2 293 5 294 8 295 3 296 16 297 4 298 11 299 13 300 2 301 3 302 2 303 11 304 7 305 13 306 3 307 3 308 10 309 2 310 2 311 4 312 13 313 8 314 10 315 4 316 4 317 4 318 7 319 9 320 11 321 3 322 10 323 3 324 6 325 4 326 12 327 3 328 12 329 7 330 7 331 5 332 4 333 13 334 2 335 8 336 13 337 12 338 10 339 8 340 12 341 10 342 2 343 5 344 12 345 1 346 4 347 7 348 5 349 3 350 2 351 1 352 3 353 2 354 11 355 5 356 1 357 5 358 11 359 7 360 2 361 4 362 11 363 8 364 10 365 3 366 7 367 5 368 2 369 10 370 5 371 13 372 2 373 3 374 1 375 4 376 2 377 7 378 3 379 4 380 1 381 6 382 3 383 11 384 11 385 4 386 2 387 12 388 3 389 4 390 7 391 5 392 6 393 3 394 14 395 3 396 10 397 9 398 3 399 9 400 10 401 3 402 3 403 19 404 10 405 8 406 11 407 4 408 4 409 6 410 13 411 4 412 3 413 7 414 3 415 1 416 13 417 3 418 3 419 4 420 3 421 12 422 9 423 5 424 11 425 3 426 10 427 18 428 5 429 12 430 4 431 4 432 7 433 9 434 4 435 8 436 7 437 4 438 1 439 1 440 2 441 2 442 3 443 7 444 2 445 5 446 7 447 10 448 4 449 1 450 6 451 2 452 4 453 5 454 2 455 2 456 2 457 1 458 12 459 1 460 2 461 4 462 7 463 4 464 5 465 4 466 5 467 13 468 10 469 11 470 5 471 5 472 3 473 12 474 1 475 4 476 2 477 3 478 5 479 1 480 2" stroke="#7a8a88" stroke-opacity="0.45" vector-effect="non-scaling-stroke"/><path d="M0 3 1 1 2 4 3 4 4 8 5 6 6 8 7 7 8 8 9 3 10 11 11 7 12 10 13 1 14 3 15 1 16 10 17 1 18 2 19 4 20 1 21 5 22 3 23 9 24 5 25 10 26 12 27 12 28 0 29 6 30 2 31 11 32 5 33 4 34 1 35 2 36 2 37 7 38 6 39 10 40 13 41 2 42 2 43 4 44 1 45 6 46 2 47 4 48 8 49 10 50 13 51 9 52 2 53 3 54 1 55 2 56 6 57 10 58 5 59 3 60 5 61 9 62 5 63 4 64 1 65 5 66 2 67 1 68 4 69 2 70 11 71 6 72 5 73 9 74 3 75 6 76 4 77 8 78 2 79 3 80 4 81 8 82 3 83 3 84 4 85 10 86 7 87 1 88 12 89 13 90 23 91 9 92 10 93 9 94 1 95 4 96 13 97 8 98 5 99 12 100 14 101 4 102 2 103 9 104 6 105 5 106 9 107 12 108 10 109 2 110 3 111 3 112 1 113 12 114 5 115 12 116 1 117 10 118 8 119 1 120 11 121 11 122 5 123 9 124 8 125 7 126 3 127 7 128 1 129 2 130 4 131 13 132 9 133 5 134 11 135 2 136 3 137 6 138 6 139 6 140 8 141 6 142 9 143 11 144 3 145 13 146 12 147 2 148 2 149 4 150 4 151 12 152 12 153 9 154 6 155 12 156 9 157 9 158 4 159 2 160 3 161 13 162 10 163 9 164 13 165 5 166 8 167 4 168 5 169 2 170 12 171 9 172 4 173 4 174 3 175 13 176 11 177 2 178 8 179 5 180 5 181 3 182 9 183 13 184 9 185 8 186 8 187 2 188 4 189 5 190 1 191 6 192 9 193 9 194 2 195 11 196 8 197 1 198 11 199 3 200 4 201 10 202 3 203 2 204 6 205 4 206 8 207 17 208 1 209 6 210 7 211 8 212 5 213 6 214 8 215 5 216 9 217 4 218 1 219 5 220 3 221 2 222 3 223 8 224 10 225 4 226 12 227 5 228 3 229 10 230 6 231 2 232 17 233 2 234 3 235 3 236 10 237 10 238 2 239 3 240 16 241 7 242 1 243 11 244 5 245 6 246 3 247 8 248 3 249 12 250 2 251 13 252 6 253 5 254 6 255 4 256 6 257 1 258 6 259 10 260 6 261 10 262 3 263 12 264 13 265 11 266 5 267 3 268 4 269 10 270 4 271 9 272 12 273 8 274 1 275 8 276 10 277 8 278 3 279 9 280 8 281 1 282 1 283 4 284 2 285 5 286 5 287 13 288 15 289 9 290 4 291 2 292 13 293 7 294 1 295 5 296 21 297 5 298 5 299 5 300 7 301 4 302 5 303 11 304 3 305 3 306 11 307 8 308 6 309 2 310 6 311 3 312 1 313 8 314 14 315 6 316 1 317 3 318 3 319 4 320 2 321 8 322 3 323 7 324 7 325 6 326 11 327 11 328 10 329 7 330 5 331 5 332 12 333 13 334 5 335 13 336 12 337 7 338 1 339 7 340 13 341 4 342 1 343 5 344 4 345 4 346 11 347 6 348 9 349 3 350 4 351 3 352 3 353 23 354 3 355 13 356 4 357 2 358 13 359 3 360 8 361 6 362 1 363 9 364 6 365 3 366 4 367 3 368 3 369 10 370 10 371 1 372 1 373 6 374 14 375 4 376 12 377 10 378 8 379 9 380 6 381 2 382 5 383 3 384 2 385 10 386 5 387 2 388 4 389 4 390 3 391 3 392 0 393 9 394 4 395 8 396 2 397 2 398 3 399 7 400 5 401 10 402 3 403 7 404 8 405 8 406 4 407 3 408 6 409 1 410 3 411 3 412 8 413 21 414 2 415 1 416 10 417 8 418 1 419 3 420 7 421 12 422 11 423 5 424 3 425 3 426 12 427 13 428 1 429 8 430 3 431 12 432 10 433 0 434 5 435 4 436 10 437 3 438 9 439 3 440 4 441 5 442 6 443 11 444 5 445 6 446 1 447 6 448 15 449 1 450 6 451 3 452 8 453 5 454 10 455 7 456 6 457 5 458 6 459 9 460 3 461 9 462 5 463 12 464 10 465 4 466 1 467 10 468 10 469 3 470 13 471 8 472 3 473 7 474 12 475 6 476 3 477 13 478 9 479 4 480 2" stroke="#a85060" stroke-opacity="0.45" vector-effect="non-scaling-stroke"/><path d="M0 9 1 8 2 3 3 13 4 13 5 7 6 6 7 4 8 1 9 3 10 4 11 9 12 5 13 2 14 13 15 1 16 8 17 3 18 7 19 1 20 3 21 3 22 1 23 2 24 10 25 10 26 13 27 1 28 4 29 7 30 8 31 9 32 3 33 6 34 5 35 9 36 5 37 5 38 12 39 1 40 6 41 10 42 3 43 11 44 5 45 12 46 1 47 5 48 2 49 4 50 4 51 4 52 8 53 3 54 0 55 10 56 1 57 3 58 1 59 1 60 12 61 12 62 1 63 1 64 2 65 5 66 7 67 2 68 5 69 0 70 9 71 0 72 1 73 7 74 5 75 6 76 2 77 4 78 6 79 5 80 3 81 11 82 4 83 5 84 7 85 5 86 5 87 9 88 6 89 3 90 9 91 4 92 2 93 3 94 9 95 3 96 3 97 4 98 7 99 13 100 11 101 9 102 13 103 4 104 1 105 3 106 2 107 4 108 12 109 4 110 11 111 7 112 5 113 3 114 2 115 13 116 10 117 7 118 1 119 5 120 12 121 2 122 2 123 4 124 2 125 3 126 11 127 2 128 2 129 2 130 0 131 8 132 13 133 4 134 12 135 3 136 3 137 11 138 12 139 9 140 11 141 4 142 6 143 2 144 12 145 2 146 7 147 10 148 2 149 2 150 12 151 10 152 10 153 6 154 3 155 3 156 5 157 9 158 7 159 5 160 1 161 6 162 5 163 10 164 9 165 10 166 4 167 4 168 3 169 3 170 9 171 6 172 5 173 1 174 4 175 3 176 6 177 5 178 5 179 5 180 5 181 3 182 3 183 4 184 12 185 10 186 6 187 9 188 9 189 8 190 2 191 6 192 9 193 11 194 2 195 1 196 9 197 8 198 3 199 4 200 1 201 11 202 3 203 7 204 3 205 9 206 2 207 5 208 4 209 12 210 10 211 5 212 8 213 1 214 4 215 11 216 10 217 5 218 5 219 4 220 2 221 9 222 13 223 5 224 1 225 6 226 7 227 8 228 2 229 4 230 3 231 5 232 5 233 11 234 12 235 2 236 2 237 1 238 4 239 7 240 2 241 8 242 4 243 10 244 1 245 2 246 6 247 12 248 4 249 10 250 9 251 3 252 9 253 4 254 9 255 7 256 3 257 12 258 7 259 13 260 4 261 5 262 5 263 13 264 2 265 7 266 5 267 6 268 8 269 5 270 12 271 5 272 1 273 8 274 8 275 5 276 3 277 11 278 4 279 9 280 1 281 12 282 9 283 9 284 9 285 7 286 4 287 3 288 4 289 6 290 9 291 10 292 2 293 1 294 2 295 2 296 4 297 11 298 13 299 4 300 2 301 3 302 2 303 2 304 7 305 8 306 9 307 6 308 10 309 2 310 11 311 4 312 8 313 4 314 10 315 2 316 2 317 5 318 12 319 1 320 1 321 10 322 6 323 5 324 10 325 12 326 1 327 6 328 10 329 3 330 6 331 5 332 1 333 5 334 2 335 5 336 2 337 6 338 7 339 10 340 1 341 2 342 3 343 2 344 4 345 6 346 4 347 5 348 2 349 4 350 3 351 12 352 3 353 4 354 8 355 9 356 3 357 4 358 5 359 9 360 6 361 5 362 12 363 5 364 10 365 17 366 13 367 11 368 2 369 5 370 10 371 11 372 8 373 8 374 1 375 3 376 5 377 7 378 9 379 4 380 1 381 2 382 1 383 0 384 4 385 9 386 2 387 9 388 5 389 11 390 5 391 6 392 9 393 9 394 2 395 6 396 1 397 10 398 3 399 3 400 2 401 5 402 12 403 6 404 1 405 4 406 9 407 3 408 5 409 12 410 8 411 2 412 6 413 10 414 5 415 2 416 2 417 11 418 12 419 11 420 1 421 3 422 12 423 9 424 3 425 10 426 7 427 9 428 12 429 3 430 5 431 4 432 5 433 5 434 6 435 4 436 12 437 10 438 2 439 6 440 10 441 10 442 6 443 12 444 2 445 1 446 5 447 6 448 9 449 10 450 8 451 13 452 4 453 3 454 7 455 4 456 11 457 2 458 1 459 0 460 12 461 7 462 5 463 3 464 3 465 2 466 5 467 13 468 5 469 12 470 11 471 10 472 2 473 2 474 9 475 10 476 9 477 9 478 3 479 1 480 2" stroke="#8a9488" stroke-opacity="0.45" vector-effect="non-scaling-stroke"/><path d="M0 2 1 3 2 3 3 4 4 1 5 6 6 8 7 1 8 11 9 10 10 4 11 12 12 9 13 3 14 12 15 2 16 7 17 4 18 18 19 2 20 10 21 11 22 7 23 8 24 3 25 2 26 11 27 10 28 8 29 5 30 10 31 5 32 3 33 5 34 1 35 4 36 8 37 1 38 9 39 5 40 10 41 4 42 4 43 13 44 3 45 1 46 2 47 3 48 3 49 6 50 11 51 11 52 10 53 3 54 1 55 5 56 2 57 10 58 2 59 11 60 10 61 2 62 4 63 8 64 2 65 2 66 3 67 1 68 4 69 11 70 6 71 4 72 4 73 4 74 2 75 7 76 7 77 5 78 9 79 8 80 7 81 2 82 3 83 9 84 6 85 8 86 9 87 2 88 3 89 9 90 2 91 2 92 6 93 4 94 6 95 5 96 10 97 1 98 1 99 11 100 11 101 4 102 8 103 11 104 6 105 5 106 3 107 6 108 6 109 11 110 5 111 10 112 5 113 5 114 3 115 2 116 2 117 2 118 6 119 3 120 2 121 6 122 12 123 8 124 1 125 8 126 9 127 12 128 12 129 4 130 10 131 2 132 5 133 6 134 2 135 0 136 5 137 5 138 7 139 1 140 4 141 2 142 9 143 5 144 2 145 10 146 11 147 1 148 2 149 13 150 8 151 6 152 8 153 2 154 1 155 9 156 6 157 2 158 2 159 5 160 10 161 3 162 2 163 2 164 1 165 2 166 4 167 11 168 1 169 13 170 7 171 9 172 3 173 2 174 6 175 6 176 3 177 6 178 1 179 12 180 4 181 3 182 7 183 1 184 5 185 12 186 7 187 7 188 11 189 12 190 2 191 4 192 8 193 12 194 10 195 11 196 5 197 13 198 1 199 6 200 20 201 6 202 3 203 4 204 5 205 10 206 12 207 0 208 12 209 10 210 4 211 3 212 1 213 0 214 6 215 1 216 1 217 3 218 2 219 5 220 2 221 7 222 5 223 1 224 3 225 5 226 3 227 9 228 9 229 3 230 13 231 7 232 10 233 7 234 6 235 5 236 12 237 10 238 10 239 2 240 6 241 4 242 2 243 12 244 11 245 4 246 3 247 6 248 4 249 2 250 7 251 3 252 3 253 12 254 9 255 5 256 3 257 11 258 3 259 12 260 4 261 8 262 3 263 12 264 3 265 9 266 4 267 3 268 0 269 3 270 8 271 13 272 6 273 4 274 1 275 4 276 3 277 5 278 5 279 13 280 17 281 6 282 1 283 4 284 3 285 9 286 12 287 3 288 5 289 9 290 1 291 3 292 11 293 5 294 5 295 1 296 9 297 5 298 2 299 11 300 3 301 7 302 13 303 12 304 4 305 3 306 7 307 5 308 8 309 6 310 10 311 1 312 3 313 10 314 9 315 6 316 2 317 7 318 4 319 10 320 7 321 9 322 3 323 12 324 5 325 0 326 6 327 1 328 12 329 3 330 5 331 4 332 9 333 3 334 4 335 2 336 5 337 7 338 7 339 6 340 8 341 1 342 7 343 7 344 7 345 2 346 4 347 1 348 9 349 2 350 1 351 3 352 11 353 4 354 7 355 2 356 11 357 1 358 13 359 13 360 5 361 8 362 5 363 0 364 8 365 3 366 4 367 9 368 6 369 3 370 5 371 5 372 11 373 13 374 1 375 12 376 5 377 3 378 9 379 3 380 4 381 9 382 9 383 10 384 5 385 2 386 8 387 2 388 2 389 13 390 6 391 4 392 5 393 2 394 7 395 7 396 5 397 3 398 4 399 6 400 2 401 1 402 10 403 4 404 5 405 4 406 4 407 8 408 5 409 11 410 1 411 12 412 2 413 2 414 1 415 8 416 1 417 3 418 7 419 13 420 9 421 10 422 13 423 5 424 4 425 3 426 9 427 11 428 2 429 11 430 5 431 6 432 1 433 9 434 9 435 6 436 8 437 1 438 3 439 10 440 2 441 5 442 6 443 9 444 2 445 4 446 14 447 7 448 2 449 1 450 9 451 8 452 7 453 1 454 13 455 2 456 2 457 3 458 9 459 11 460 1 461 1 462 10 463 12 464 5 465 2 466 4 467 12 468 6 469 9 470 5 471 7 472 10 473 4 474 15 475 5 476 9 477 3 478 4 479 4 480 11" stroke="#b85a48" stroke-opacity="0.45" vector-effect="non-scaling-stroke"/><path d="M0 10 1 13 2 10 3 3 4 5 5 1 6 2 7 8 8 7 9 7 10 5 11 3 12 2 13 4 14 4 15 3 16 2 17 10 18 5 19 1 20 11 21 19 22 2 23 10 24 7 25 4 26 3 27 10 28 7 29 2 30 10 31 10 32 12 33 8 34 4 35 6 36 1 37 13 38 11 39 5 40 11 41 13 42 5 43 11 44 3 45 8 46 11 47 5 48 9 49 4 50 6 51 4 52 3 53 6 54 5 55 11 56 7 57 3 58 4 59 6 60 1 61 13 62 5 63 11 64 12 65 3 66 5 67 4 68 4 69 22 70 1 71 2 72 11 73 4 74 2 75 6 76 14 77 3 78 2 79 3 80 12 81 5 82 2 83 7 84 9 85 1 86 12 87 5 88 5 89 4 90 8 91 6 92 6 93 12 94 4 95 15 96 3 97 12 98 11 99 3 100 2 101 7 102 5 103 4 104 5 105 3 106 9 107 8 108 13 109 3 110 11 111 5 112 6 113 1 114 2 115 4 116 12 117 8 118 3 119 3 120 11 121 12 122 4 123 12 124 13 125 9 126 8 127 1 128 1 129 11 130 6 131 2 132 12 133 7 134 8 135 11 136 12 137 7 138 2 139 5 140 10 141 10 142 1 143 11 144 2 145 3 146 3 147 9 148 6 149 3 150 2 151 3 152 12 153 3 154 3 155 3 156 8 157 12 158 2 159 7 160 7 161 5 162 2 163 11 164 12 165 7 166 3 167 1 168 10 169 12 170 9 171 2 172 6 173 1 174 4 175 4 176 5 177 3 178 2 179 6 180 4 181 11 182 3 183 8 184 6 185 2 186 6 187 10 188 6 189 10 190 7 191 5 192 5 193 5 194 12 195 8 196 7 197 10 198 10 199 9 200 3 201 3 202 13 203 13 204 13 205 2 206 11 207 5 208 13 209 4 210 3 211 9 212 2 213 3 214 1 215 4 216 3 217 2 218 4 219 10 220 3 221 4 222 10 223 1 224 5 225 2 226 8 227 3 228 1 229 5 230 4 231 10 232 9 233 10 234 3 235 12 236 12 237 8 238 5 239 3 240 11 241 13 242 5 243 1 244 5 245 5 246 11 247 9 248 3 249 12 250 9 251 13 252 13 253 1 254 6 255 10 256 4 257 8 258 4 259 4 260 3 261 4 262 7 263 11 264 12 265 1 266 8 267 12 268 4 269 7 270 6 271 10 272 3 273 3 274 9 275 11 276 7 277 4 278 9 279 4 280 2 281 2 282 2 283 2 284 4 285 2 286 8 287 7 288 9 289 12 290 8 291 2 292 4 293 7 294 17 295 1 296 2 297 8 298 1 299 13 300 6 301 3 302 11 303 8 304 3 305 10 306 3 307 11 308 11 309 0 310 6 311 7 312 5 313 2 314 4 315 7 316 7 317 2 318 10 319 2 320 1 321 4 322 3 323 11 324 5 325 1 326 1 327 1 328 5 329 12 330 6 331 4 332 8 333 0 334 3 335 2 336 7 337 4 338 10 339 2 340 11 341 3 342 13 343 13 344 2 345 11 346 5 347 3 348 5 349 2 350 9 351 3 352 4 353 9 354 3 355 4 356 9 357 8 358 11 359 5 360 4 361 4 362 1 363 3 364 4 365 11 366 3 367 2 368 5 369 1 370 11 371 10 372 9 373 5 374 14 375 1 376 10 377 1 378 2 379 3 380 10 381 5 382 7 383 11 384 11 385 9 386 3 387 12 388 11 389 7 390 12 391 2 392 6 393 7 394 2 395 12 396 4 397 2 398 5 399 10 400 1 401 6 402 12 403 11 404 3 405 5 406 4 407 2 408 12 409 12 410 13 411 2 412 3 413 5 414 9 415 9 416 4 417 11 418 1 419 5 420 7 421 5 422 4 423 12 424 5 425 6 426 2 427 7 428 2 429 0 430 4 431 10 432 5 433 13 434 10 435 4 436 1 437 11 438 5 439 9 440 13 441 9 442 1 443 0 444 4 445 4 446 9 447 4 448 11 449 13 450 9 451 4 452 1 453 2 454 8 455 3 456 2 457 1 458 13 459 3 460 2 461 4 462 4 463 6 464 6 465 12 466 11 467 5 468 3 469 6 470 12 471 6 472 3 473 1 474 4 475 4 476 3 477 8 478 4 479 4 480 11" stroke="#8c9898" stroke-opacity="0.45" vector-effect="non-scaling-stroke"/><path d="M0 1 1 1 2 2 3 7 4 1 5 1 6 2 7 3 8 4 9 5 10 2 11 7 12 3 13 4 14 11 15 7 16 7 17 5 18 5 19 6 20 7 21 1 22 4 23 7 24 9 25 5 26 3 27 5 28 5 29 5 30 5 31 4 32 11 33 16 34 12 35 23 36 2 37 4 38 10 39 3 40 9 41 8 42 12 43 9 44 9 45 8 46 2 47 3 48 7 49 16 50 2 51 3 52 5 53 1 54 7 55 6 56 2 57 2 58 9 59 4 60 9 61 7 62 1 63 1 64 8 65 5 66 7 67 10 68 2 69 1 70 3 71 2 72 5 73 8 74 5 75 5 76 3 77 19 78 3 79 10 80 9 81 4 82 4 83 4 84 3 85 1 86 4 87 9 88 12 89 8 90 7 91 4 92 9 93 13 94 7 95 11 96 2 97 6 98 1 99 11 100 2 101 12 102 12 103 8 104 2 105 12 106 4 107 8 108 1 109 2 110 12 111 12 112 9 113 12 114 4 115 12 116 7 117 2 118 6 119 3 120 6 121 13 122 2 123 3 124 13 125 1 126 5 127 9 128 12 129 4 130 5 131 11 132 1 133 7 134 1 135 3 136 5 137 10 138 10 139 2 140 8 141 4 142 5 143 11 144 3 145 2 146 8 147 11 148 1 149 8 150 2 151 7 152 1 153 6 154 7 155 2 156 3 157 2 158 8 159 3 160 10 161 8 162 10 163 11 164 10 165 3 166 2 167 2 168 4 169 3 170 8 171 3 172 4 173 6 174 12 175 12 176 2 177 7 178 1 179 1 180 5 181 12 182 15 183 7 184 5 185 10 186 5 187 6 188 4 189 8 190 9 191 9 192 11 193 5 194 13 195 2 196 5 197 8 198 2 199 5 200 2 201 2 202 7 203 4 204 7 205 6 206 2 207 5 208 2 209 1 210 11 211 3 212 9 213 12 214 3 215 2 216 2 217 3 218 11 219 5 220 4 221 11 222 11 223 3 224 6 225 10 226 1 227 2 228 13 229 9 230 7 231 9 232 7 233 3 234 1 235 4 236 2 237 1 238 12 239 9 240 3 241 11 242 4 243 4 244 3 245 1 246 4 247 13 248 1 249 8 250 11 251 12 252 3 253 1 254 2 255 13 256 11 257 3 258 4 259 4 260 4 261 5 262 10 263 12 264 0 265 6 266 5 267 3 268 4 269 9 270 4 271 7 272 1 273 2 274 2 275 13 276 8 277 1 278 5 279 10 280 8 281 4 282 5 283 12 284 4 285 6 286 11 287 5 288 4 289 9 290 4 291 4 292 12 293 8 294 10 295 12 296 12 297 6 298 1 299 10 300 12 301 10 302 7 303 4 304 3 305 4 306 7 307 3 308 7 309 4 310 5 311 10 312 4 313 2 314 4 315 2 316 11 317 5 318 12 319 11 320 3 321 7 322 7 323 5 324 2 325 4 326 3 327 12 328 10 329 8 330 3 331 4 332 12 333 12 334 8 335 2 336 11 337 7 338 9 339 13 340 10 341 3 342 1 343 8 344 12 345 4 346 12 347 8 348 4 349 3 350 13 351 13 352 2 353 7 354 11 355 1 356 0 357 5 358 7 359 3 360 4 361 10 362 9 363 6 364 10 365 12 366 3 367 5 368 11 369 10 370 2 371 11 372 5 373 3 374 3 375 2 376 11 377 8 378 1 379 2 380 5 381 6 382 5 383 9 384 2 385 8 386 9 387 2 388 4 389 9 390 6 391 2 392 2 393 4 394 3 395 9 396 6 397 10 398 13 399 3 400 5 401 4 402 11 403 10 404 2 405 1 406 1 407 2 408 3 409 6 410 8 411 4 412 4 413 1 414 5 415 8 416 12 417 4 418 5 419 12 420 4 421 7 422 1 423 11 424 1 425 3 426 1 427 2 428 8 429 4 430 2 431 3 432 10 433 4 434 7 435 6 436 12 437 18 438 4 439 10 440 7 441 11 442 10 443 4 444 4 445 8 446 5 447 3 448 7 449 7 450 5 451 5 452 1 453 9 454 8 455 8 456 9 457 4 458 2 459 4 460 7 461 9 462 4 463 7 464 4 465 3 466 2 467 9 468 5 469 4 470 10 471 2 472 4 473 6 474 2 475 13 476 5 477 1 478 1 479 3 480 4" stroke="#b0564a" stroke-opacity="0.45" vector-effect="non-scaling-stroke"/><path d="M0 11 1 5 2 10 3 8 4 13 5 8 6 8 7 3 8 5 9 4 10 13 11 12 12 9 13 10 14 12 15 4 16 3 17 6 18 3 19 3 20 5 21 4 22 9 23 2 24 2 25 2 26 5 27 5 28 4 29 5 30 3 31 3 32 10 33 3 34 2 35 8 36 3 37 1 38 7 39 2 40 6 41 3 42 3 43 5 44 4 45 8 46 12 47 8 48 3 49 5 50 4 51 6 52 4 53 1 54 13 55 7 56 5 57 12 58 10 59 3 60 3 61 2 62 11 63 4 64 4 65 5 66 5 67 1 68 2 69 1 70 11 71 4 72 13 73 11 74 3 75 7 76 4 77 1 78 5 79 9 80 18 81 5 82 11 83 11 84 6 85 7 86 7 87 16 88 2 89 8 90 7 91 5 92 4 93 4 94 10 95 6 96 3 97 2 98 4 99 2 100 12 101 1 102 6 103 10 104 7 105 0 106 4 107 1 108 1 109 2 110 10 111 8 112 1 113 10 114 10 115 3 116 1 117 4 118 10 119 2 120 2 121 11 122 1 123 6 124 6 125 16 126 12 127 1 128 9 129 7 130 8 131 3 132 2 133 11 134 10 135 10 136 12 137 6 138 1 139 2 140 4 141 12 142 4 143 10 144 13 145 2 146 10 147 4 148 14 149 4 150 4 151 5 152 2 153 7 154 1 155 8 156 12 157 3 158 3 159 11 160 4 161 1 162 3 163 5 164 5 165 5 166 12 167 8 168 13 169 13 170 9 171 12 172 2 173 10 174 10 175 2 176 9 177 3 178 5 179 5 180 11 181 5 182 8 183 4 184 5 185 12 186 4 187 8 188 3 189 3 190 3 191 4 192 7 193 6 194 9 195 5 196 12 197 2 198 11 199 3 200 13 201 7 202 3 203 4 204 11 205 5 206 16 207 2 208 2 209 5 210 1 211 6 212 3 213 2 214 5 215 9 216 10 217 8 218 3 219 6 220 3 221 5 222 7 223 1 224 5 225 5 226 4 227 12 228 6 229 5 230 9 231 13 232 2 233 1 234 6 235 12 236 8 237 1 238 4 239 10 240 13 241 1 242 13 243 4 244 3 245 2 246 7 247 5 248 9 249 8 250 3 251 2 252 2 253 10 254 10 255 10 256 2 257 9 258 2 259 9 260 7 261 4 262 4 263 3 264 4 265 11 266 11 267 2 268 13 269 6 270 5 271 12 272 4 273 2 274 3 275 3 276 2 277 4 278 2 279 2 280 5 281 1 282 10 283 4 284 2 285 3 286 12 287 4 288 7 289 7 290 10 291 2 292 4 293 6 294 3 295 2 296 2 297 3 298 12 299 2 300 11 301 1 302 6 303 1 304 2 305 2 306 1 307 4 308 16 309 11 310 13 311 3 312 3 313 1 314 11 315 3 316 3 317 12 318 4 319 8 320 4 321 1 322 7 323 0 324 10 325 4 326 5 327 5 328 7 329 5 330 2 331 5 332 9 333 5 334 1 335 5 336 11 337 2 338 13 339 6 340 6 341 4 342 12 343 12 344 7 345 11 346 3 347 12 348 9 349 3 350 10 351 2 352 6 353 3 354 5 355 12 356 2 357 5 358 3 359 7 360 5 361 3 362 12 363 11 364 6 365 6 366 6 367 4 368 2 369 6 370 4 371 5 372 11 373 4 374 2 375 2 376 2 377 9 378 1 379 9 380 9 381 3 382 12 383 8 384 2 385 5 386 4 387 11 388 9 389 8 390 1 391 2 392 4 393 10 394 9 395 7 396 5 397 2 398 13 399 17 400 10 401 6 402 5 403 12 404 8 405 1 406 9 407 7 408 1 409 5 410 6 411 9 412 5 413 3 414 4 415 6 416 3 417 4 418 5 419 11 420 1 421 2 422 10 423 3 424 6 425 1 426 5 427 4 428 4 429 2 430 4 431 3 432 13 433 2 434 7 435 13 436 8 437 5 438 2 439 3 440 12 441 1 442 2 443 3 444 5 445 2 446 1 447 5 448 11 449 7 450 2 451 7 452 2 453 15 454 8 455 5 456 5 457 5 458 2 459 10 460 3 461 9 462 3 463 11 464 9 465 3 466 1 467 3 468 5 469 1 470 3 471 12 472 2 473 10 474 3 475 3 476 6 477 7 478 4 479 12 480 4" stroke="#98a4a2" stroke-opacity="0.45" vector-effect="non-scaling-stroke"/><path d="M0 10 1 6 2 9 3 7 4 1 5 8 6 1 7 2 8 9 9 7 10 3 11 14 12 2 13 8 14 4 15 8 16 8 17 2 18 11 19 5 20 11 21 9 22 8 23 11 24 1 25 10 26 1 27 12 28 3 29 5 30 13 31 8 32 5 33 5 34 5 35 8 36 2 37 10 38 3 39 5 40 2 41 7 42 13 43 12 44 2 45 4 46 3 47 1 48 11 49 12 50 9 51 9 52 12 53 3 54 4 55 5 56 2 57 6 58 2 59 6 60 14 61 8 62 3 63 1 64 14 65 10 66 2 67 1 68 8 69 11 70 4 71 5 72 3 73 4 74 4 75 5 76 1 77 4 78 6 79 2 80 9 81 3 82 13 83 2 84 1 85 5 86 11 87 2 88 3 89 13 90 6 91 2 92 7 93 5 94 10 95 2 96 12 97 3 98 5 99 10 100 7 101 10 102 3 103 3 104 7 105 7 106 2 107 10 108 5 109 3 110 5 111 12 112 2 113 11 114 7 115 7 116 9 117 4 118 12 119 3 120 10 121 2 122 12 123 5 124 3 125 8 126 3 127 8 128 5 129 4 130 6 131 12 132 3 133 6 134 6 135 4 136 2 137 9 138 5 139 9 140 3 141 4 142 9 143 7 144 9 145 1 146 0 147 11 148 3 149 14 150 4 151 8 152 9 153 1 154 5 155 9 156 12 157 7 158 4 159 5 160 3 161 7 162 13 163 2 164 5 165 5 166 4 167 3 168 2 169 2 170 3 171 10 172 2 173 11 174 3 175 3 176 5 177 2 178 17 179 11 180 6 181 11 182 5 183 4 184 2 185 9 186 7 187 10 188 4 189 1 190 1 191 11 192 12 193 2 194 1 195 10 196 10 197 7 198 9 199 1 200 7 201 5 202 2 203 12 204 10 205 2 206 1 207 2 208 4 209 4 210 1 211 1 212 1 213 2 214 3 215 8 216 12 217 9 218 2 219 3 220 2 221 13 222 3 223 6 224 4 225 1 226 9 227 10 228 1 229 12 230 1 231 3 232 1 233 8 234 4 235 3 236 2 237 12 238 9 239 10 240 7 241 1 242 4 243 3 244 9 245 6 246 1 247 4 248 4 249 1 250 4 251 1 252 9 253 11 254 2 255 11 256 1 257 3 258 2 259 10 260 10 261 9 262 2 263 7 264 1 265 4 266 12 267 12 268 1 269 1 270 8 271 11 272 10 273 4 274 2 275 2 276 2 277 1 278 3 279 2 280 2 281 13 282 5 283 4 284 12 285 12 286 9 287 6 288 8 289 11 290 9 291 8 292 4 293 4 294 1 295 8 296 11 297 3 298 3 299 3 300 6 301 4 302 5 303 2 304 7 305 4 306 4 307 3 308 4 309 1 310 9 311 6 312 10 313 9 314 5 315 11 316 2 317 5 318 4 319 10 320 12 321 3 322 7 323 4 324 2 325 5 326 1 327 4 328 2 329 5 330 5 331 3 332 5 333 9 334 10 335 5 336 5 337 12 338 1 339 3 340 5 341 10 342 9 343 1 344 4 345 8 346 5 347 1 348 7 349 2 350 9 351 1 352 14 353 8 354 4 355 5 356 1 357 2 358 3 359 10 360 10 361 13 362 9 363 1 364 9 365 13 366 7 367 3 368 12 369 3 370 2 371 8 372 1 373 11 374 1 375 5 376 4 377 13 378 5 379 9 380 9 381 9 382 8 383 12 384 8 385 2 386 1 387 7 388 10 389 10 390 3 391 13 392 3 393 3 394 9 395 5 396 4 397 7 398 8 399 6 400 8 401 1 402 3 403 12 404 5 405 1 406 1 407 6 408 11 409 5 410 5 411 3 412 8 413 1 414 7 415 7 416 3 417 9 418 10 419 1 420 4 421 11 422 5 423 7 424 5 425 3 426 8 427 3 428 3 429 2 430 3 431 12 432 13 433 12 434 8 435 10 436 4 437 8 438 4 439 5 440 4 441 3 442 4 443 12 444 8 445 9 446 9 447 4 448 3 449 10 450 5 451 2 452 3 453 3 454 5 455 8 456 2 457 4 458 9 459 3 460 12 461 12 462 3 463 9 464 2 465 4 466 5 467 11 468 6 469 1 470 5 471 2 472 5 473 2 474 2 475 2 476 5 477 5 478 4 479 4 480 11" stroke="#a0587a" stroke-opacity="0.45" vector-effect="non-scaling-stroke"/><path d="M0 1 1 11 2 3 3 2 4 5 5 2 6 5 7 12 8 2 9 4 10 16 11 16 12 11 13 5 14 4 15 10 16 4 17 8 18 11 19 12 20 11 21 13 22 2 23 2 24 9 25 4 26 2 27 3 28 7 29 3 30 4 31 2 32 0 33 11 34 3 35 3 36 1 37 5 38 5 39 6 40 9 41 11 42 7 43 9 44 9 45 10 46 4 47 2 48 4 49 1 50 2 51 3 52 15 53 2 54 6 55 14 56 8 57 7 58 11 59 3 60 9 61 1 62 4 63 10 64 3 65 3 66 4 67 8 68 9 69 11 70 5 71 1 72 4 73 5 74 1 75 5 76 8 77 4 78 9 79 13 80 12 81 8 82 5 83 11 84 9 85 5 86 3 87 4 88 1 89 2 90 3 91 2 92 3 93 8 94 3 95 6 96 1 97 1 98 1 99 5 100 10 101 4 102 8 103 2 104 12 105 3 106 6 107 12 108 11 109 4 110 12 111 3 112 2 113 7 114 5 115 12 116 7 117 2 118 1 119 1 120 10 121 6 122 13 123 4 124 3 125 4 126 1 127 7 128 6 129 11 130 1 131 5 132 7 133 8 134 5 135 4 136 11 137 11 138 12 139 4 140 4 141 6 142 2 143 10 144 5 145 13 146 4 147 4 148 4 149 2 150 2 151 9 152 8 153 12 154 2 155 10 156 10 157 10 158 3 159 10 160 5 161 7 162 3 163 2 164 9 165 1 166 2 167 8 168 6 169 12 170 6 171 1 172 2 173 4 174 11 175 13 176 6 177 12 178 5 179 4 180 5 181 8 182 6 183 12 184 12 185 11 186 7 187 2 188 3 189 9 190 5 191 7 192 5 193 7 194 3 195 10 196 3 197 10 198 11 199 6 200 15 201 5 202 10 203 4 204 3 205 9 206 4 207 10 208 11 209 7 210 20 211 2 212 1 213 5 214 2 215 2 216 3 217 12 218 1 219 8 220 9 221 7 222 8 223 13 224 10 225 5 226 6 227 1 228 4 229 5 230 12 231 1 232 5 233 3 234 4 235 6 236 1 237 1 238 5 239 2 240 3 241 5 242 4 243 1 244 5 245 8 246 22 247 6 248 12 249 6 250 2 251 4 252 8 253 2 254 6 255 3 256 4 257 3 258 1 259 5 260 8 261 5 262 5 263 9 264 7 265 2 266 5 267 7 268 5 269 11 270 5 271 12 272 9 273 6 274 3 275 3 276 3 277 2 278 3 279 2 280 4 281 2 282 5 283 8 284 2 285 1 286 1 287 10 288 7 289 7 290 3 291 7 292 8 293 5 294 7 295 3 296 9 297 8 298 1 299 4 300 10 301 3 302 4 303 8 304 5 305 6 306 10 307 4 308 13 309 10 310 6 311 13 312 3 313 0 314 2 315 4 316 5 317 2 318 8 319 10 320 1 321 3 322 12 323 3 324 1 325 11 326 0 327 10 328 1 329 0 330 2 331 4 332 1 333 8 334 13 335 6 336 6 337 5 338 11 339 4 340 6 341 3 342 3 343 3 344 5 345 6 346 8 347 8 348 8 349 13 350 8 351 4 352 3 353 7 354 2 355 5 356 6 357 8 358 8 359 12 360 5 361 5 362 5 363 1 364 4 365 3 366 1 367 4 368 10 369 4 370 4 371 8 372 4 373 1 374 7 375 9 376 1 377 8 378 11 379 11 380 8 381 3 382 8 383 2 384 1 385 9 386 1 387 3 388 6 389 4 390 2 391 4 392 10 393 5 394 4 395 2 396 9 397 1 398 3 399 7 400 3 401 5 402 2 403 5 404 3 405 8 406 4 407 6 408 7 409 3 410 13 411 7 412 11 413 8 414 7 415 3 416 2 417 8 418 12 419 3 420 9 421 4 422 4 423 10 424 3 425 13 426 1 427 11 428 3 429 3 430 12 431 0 432 9 433 3 434 5 435 3 436 3 437 5 438 13 439 7 440 6 441 6 442 4 443 8 444 9 445 5 446 6 447 4 448 3 449 4 450 7 451 12 452 3 453 8 454 7 455 6 456 6 457 10 458 12 459 4 460 4 461 4 462 7 463 6 464 13 465 13 466 4 467 1 468 3 469 4 470 1 471 3 472 3 473 6 474 5 475 4 476 8 477 8 478 7 479 13 480 3" stroke="#8494a0" stroke-opacity="0.45" vector-effect="non-scaling-stroke"/><path d="M0 1 1 9 2 3 3 3 4 3 5 1 6 12 7 6 8 3 9 1 10 10 11 2 12 13 13 4 14 8 15 3 16 9 17 8 18 9 19 7 20 7 21 10 22 4 23 1 24 1 25 5 26 5 27 3 28 2 29 3 30 6 31 9 32 1 33 4 34 1 35 2 36 7 37 10 38 2 39 3 40 12 41 6 42 1 43 3 44 4 45 3 46 4 47 2 48 3 49 10 50 2 51 2 52 5 53 11 54 9 55 8 56 2 57 6 58 3 59 2 60 4 61 5 62 1 63 2 64 3 65 5 66 4 67 2 68 6 69 6 70 11 71 14 72 4 73 9 74 3 75 12 76 1 77 16 78 9 79 3 80 3 81 7 82 2 83 11 84 2 85 11 86 8 87 2 88 2 89 3 90 5 91 3 92 3 93 24 94 6 95 8 96 2 97 3 98 12 99 6 100 8 101 4 102 5 103 4 104 7 105 5 106 9 107 5 108 4 109 2 110 13 111 4 112 10 113 14 114 3 115 10 116 4 117 15 118 5 119 5 120 10 121 11 122 3 123 3 124 4 125 1 126 13 127 3 128 2 129 1 130 11 131 4 132 9 133 10 134 13 135 9 136 4 137 8 138 4 139 3 140 7 141 5 142 2 143 3 144 11 145 1 146 5 147 12 148 7 149 5 150 5 151 7 152 8 153 3 154 4 155 9 156 7 157 4 158 12 159 6 160 5 161 5 162 6 163 11 164 5 165 5 166 2 167 6 168 4 169 2 170 2 171 2 172 5 173 3 174 1 175 5 176 13 177 2 178 8 179 1 180 3 181 5 182 11 183 3 184 2 185 2 186 4 187 2 188 3 189 13 190 7 191 12 192 12 193 10 194 1 195 3 196 12 197 5 198 4 199 3 200 4 201 2 202 1 203 11 204 1 205 3 206 4 207 8 208 9 209 3 210 5 211 1 212 0 213 13 214 2 215 3 216 11 217 10 218 2 219 11 220 4 221 2 222 4 223 5 224 2 225 1 226 7 227 5 228 1 229 4 230 3 231 5 232 4 233 4 234 12 235 6 236 1 237 7 238 2 239 1 240 12 241 5 242 5 243 8 244 5 245 7 246 4 247 12 248 1 249 2 250 1 251 6 252 3 253 4 254 5 255 9 256 2 257 11 258 11 259 2 260 2 261 3 262 2 263 7 264 3 265 8 266 5 267 6 268 11 269 8 270 10 271 2 272 2 273 1 274 4 275 1 276 4 277 2 278 8 279 9 280 4 281 12 282 2 283 1 284 4 285 8 286 5 287 10 288 5 289 10 290 5 291 2 292 3 293 4 294 4 295 1 296 7 297 3 298 3 299 1 300 3 301 6 302 2 303 5 304 5 305 6 306 4 307 7 308 3 309 7 310 6 311 1 312 9 313 1 314 22 315 3 316 10 317 7 318 8 319 7 320 5 321 2 322 12 323 4 324 7 325 4 326 1 327 10 328 7 329 8 330 13 331 3 332 3 333 2 334 5 335 2 336 8 337 2 338 10 339 3 340 5 341 2 342 1 343 3 344 6 345 11 346 4 347 3 348 8 349 4 350 2 351 3 352 5 353 2 354 1 355 9 356 10 357 3 358 10 359 5 360 6 361 1 362 8 363 12 364 2 365 12 366 6 367 13 368 4 369 7 370 8 371 10 372 8 373 2 374 11 375 3 376 18 377 2 378 2 379 2 380 11 381 5 382 16 383 6 384 3 385 9 386 5 387 9 388 2 389 4 390 7 391 2 392 2 393 3 394 9 395 1 396 2 397 6 398 4 399 13 400 3 401 7 402 9 403 6 404 2 405 2 406 5 407 6 408 1 409 1 410 5 411 2 412 2 413 3 414 2 415 3 416 11 417 4 418 5 419 2 420 6 421 3 422 7 423 8 424 12 425 12 426 13 427 8 428 0 429 7 430 5 431 11 432 1 433 1 434 4 435 2 436 7 437 3 438 2 439 4 440 5 441 8 442 12 443 7 444 2 445 10 446 8 447 8 448 8 449 6 450 4 451 6 452 11 453 2 454 4 455 12 456 12 457 5 458 10 459 9 460 4 461 3 462 2 463 7 464 10 465 1 466 12 467 9 468 1 469 1 470 6 471 5 472 12 473 11 474 8 475 1 476 1 477 4 478 5 479 2 480 3" stroke="#808c8c" stroke-opacity="0.45" vector-effect="non-scaling-stroke"/><path d="M0 13 1 12 2 1 3 2 4 11 5 9 6 7 7 2 8 6 9 9 10 8 11 10 12 8 13 11 14 0 15 11 16 7 17 5 18 11 19 2 20 12 21 4 22 7 23 10 24 2 25 3 26 2 27 0 28 12 29 11 30 13 31 8 32 4 33 12 34 2 35 7 36 9 37 2 38 2 39 2 40 2 41 3 42 1 43 8 44 5 45 4 46 8 47 4 48 22 49 9 50 11 51 1 52 13 53 6 54 10 55 6 56 2 57 11 58 3 59 3 60 2 61 4 62 11 63 1 64 7 65 11 66 9 67 5 68 13 69 11 70 3 71 3 72 5 73 0 74 2 75 2 76 4 77 11 78 8 79 1 80 6 81 2 82 17 83 1 84 4 85 12 86 4 87 1 88 2 89 2 90 4 91 1 92 5 93 11 94 5 95 1 96 2 97 5 98 10 99 0 100 3 101 2 102 3 103 12 104 6 105 11 106 13 107 11 108 4 109 11 110 2 111 3 112 17 113 13 114 10 115 1 116 11 117 6 118 3 119 9 120 1 121 13 122 5 123 2 124 2 125 10 126 3 127 3 128 9 129 2 130 7 131 12 132 8 133 12 134 7 135 3 136 7 137 5 138 4 139 8 140 1 141 5 142 2 143 12 144 3 145 2 146 10 147 3 148 0 149 11 150 9 151 3 152 13 153 10 154 2 155 4 156 4 157 4 158 1 159 11 160 2 161 4 162 12 163 11 164 5 165 6 166 3 167 6 168 12 169 3 170 7 171 8 172 3 173 7 174 6 175 11 176 8 177 8 178 5 179 7 180 8 181 5 182 12 183 2 184 6 185 10 186 9 187 13 188 6 189 2 190 9 191 5 192 6 193 4 194 20 195 2 196 2 197 9 198 3 199 7 200 9 201 3 202 3 203 1 204 5 205 5 206 11 207 4 208 11 209 7 210 4 211 8 212 4 213 12 214 1 215 3 216 3 217 2 218 4 219 10 220 5 221 6 222 12 223 7 224 1 225 1 226 5 227 9 228 2 229 8 230 10 231 11 232 7 233 1 234 4 235 2 236 12 237 4 238 1 239 5 240 12 241 4 242 8 243 12 244 3 245 10 246 3 247 3 248 7 249 9 250 6 251 2 252 13 253 9 254 8 255 4 256 7 257 8 258 4 259 2 260 3 261 7 262 2 263 1 264 7 265 2 266 11 267 3 268 3 269 10 270 7 271 4 272 9 273 3 274 2 275 5 276 2 277 4 278 4 279 13 280 8 281 2 282 13 283 11 284 1 285 9 286 1 287 4 288 1 289 3 290 4 291 3 292 2 293 3 294 2 295 6 296 2 297 11 298 5 299 1 300 5 301 13 302 7 303 13 304 1 305 3 306 3 307 10 308 12 309 9 310 2 311 11 312 9 313 2 314 7 315 4 316 10 317 0 318 10 319 4 320 11 321 1 322 7 323 3 324 2 325 3 326 4 327 5 328 9 329 9 330 1 331 5 332 4 333 3 334 7 335 4 336 8 337 12 338 3 339 5 340 7 341 2 342 8 343 1 344 13 345 1 346 2 347 7 348 10 349 8 350 5 351 5 352 4 353 6 354 4 355 5 356 2 357 4 358 7 359 1 360 1 361 11 362 8 363 3 364 11 365 15 366 10 367 4 368 3 369 9 370 2 371 2 372 4 373 1 374 3 375 5 376 6 377 4 378 12 379 4 380 13 381 7 382 2 383 10 384 2 385 10 386 8 387 5 388 6 389 4 390 1 391 7 392 13 393 4 394 8 395 1 396 1 397 7 398 11 399 4 400 4 401 4 402 1 403 11 404 4 405 1 406 7 407 15 408 13 409 3 410 3 411 4 412 7 413 12 414 4 415 5 416 5 417 11 418 13 419 10 420 4 421 20 422 3 423 1 424 4 425 7 426 4 427 1 428 3 429 10 430 4 431 4 432 2 433 12 434 0 435 1 436 5 437 12 438 8 439 7 440 10 441 1 442 12 443 11 444 12 445 3 446 8 447 10 448 4 449 4 450 10 451 4 452 3 453 10 454 18 455 6 456 1 457 3 458 13 459 2 460 1 461 6 462 10 463 4 464 1 465 12 466 3 467 4 468 5 469 11 470 4 471 12 472 1 473 11 474 7 475 9 476 2 477 5 478 2 479 13 480 8" stroke="#7a8a88" stroke-opacity="0.45" vector-effect="non-scaling-stroke"/><path d="M0 0 1 1 2 2 3 5 4 2 5 5 6 2 7 6 8 6 9 0 10 1 11 6 12 2 13 0 14 1 15 0 16 2 17 6 18 2 19 4 20 3 21 1 22 1 23 6 24 6 25 8 26 1 27 0 28 2 29 4 30 5 31 0 32 6 33 4 34 1 35 2 36 2 37 6 38 1 39 6 40 0 41 8 42 1 43 4 44 2 45 1 46 4 47 0 48 4 49 7 50 6 51 1 52 5 53 2 54 1 55 1 56 1 57 6 58 6 59 5 60 4 61 1 62 1 63 0 64 1 65 1 66 6 67 6 68 6 69 6 70 7 71 4 72 0 73 6 74 3 75 4 76 1 77 7 78 2 79 7 80 1 81 1 82 6 83 4 84 6 85 2 86 2 87 0 88 0 89 0 90 3 91 4 92 7 93 2 94 0 95 2 96 1 97 6 98 6 99 3 100 1 101 2 102 4 103 5 104 0 105 2 106 5 107 5 108 4 109 1 110 1 111 0 112 8 113 1 114 2 115 0 116 1 117 2 118 0 119 2 120 1 121 1 122 5 123 5 124 5 125 0 126 2 127 4 128 2 129 5 130 8 131 5 132 6 133 2 134 3 135 2 136 5 137 6 138 8 139 5 140 4 141 3 142 1 143 1 144 3 145 3 146 5 147 1 148 1 149 2 150 6 151 0 152 0 153 2 154 5 155 3 156 5 157 5 158 5 159 2 160 2 161 1 162 7 163 4 164 3 165 3 166 8 167 2 168 2 169 2 170 7 171 4 172 6 173 8 174 2 175 3 176 3 177 7 178 1 179 7 180 1 181 3 182 3 183 5 184 6 185 1 186 4 187 0 188 7 189 2 190 6 191 0 192 1 193 7 194 3 195 3 196 6 197 2 198 4 199 7 200 2 201 5 202 1 203 4 204 2 205 2 206 2 207 4 208 7 209 4 210 3 211 1 212 3 213 8 214 1 215 5 216 1 217 3 218 3 219 5 220 0 221 3 222 7 223 1 224 5 225 8 226 6 227 2 228 5 229 4 230 4 231 2 232 1 233 1 234 5 235 2 236 0 237 1 238 0 239 0 240 7 241 4 242 1 243 4 244 1 245 4 246 2 247 1 248 4 249 4 250 3 251 7 252 5 253 0 254 7 255 5 256 0 257 1 258 7 259 1 260 5 261 1 262 2 263 1 264 2 265 2 266 3 267 5 268 0 269 4 270 7 271 6 272 5 273 1 274 5 275 5 276 2 277 2 278 5 279 2 280 6 281 4 282 1 283 6 284 4 285 0 286 5 287 3 288 5 289 1 290 1 291 1 292 1 293 1 294 2 295 4 296 3 297 1 298 1 299 1 300 4 301 5 302 8 303 3 304 4 305 0 306 6 307 7 308 3 309 6 310 5 311 4 312 1 313 2 314 3 315 1 316 3 317 5 318 0 319 2 320 1 321 5 322 3 323 0 324 1 325 8 326 4 327 5 328 6 329 3 330 5 331 5 332 5 333 5 334 3 335 1 336 1 337 8 338 1 339 1 340 4 341 2 342 7 343 1 344 7 345 3 346 7 347 0 348 8 349 3 350 4 351 2 352 7 353 3 354 1 355 4 356 6 357 4 358 1 359 8 360 2 361 3 362 4 363 6 364 5 365 1 366 2 367 1 368 1 369 2 370 7 371 1 372 7 373 8 374 5 375 6 376 4 377 1 378 4 379 7 380 6 381 4 382 6 383 6 384 6 385 3 386 2 387 2 388 2 389 7 390 2 391 5 392 3 393 1 394 3 395 2 396 7 397 1 398 6 399 7 400 3 401 0 402 6 403 3 404 5 405 4 406 2 407 8 408 6 409 2 410 2 411 8 412 3 413 5 414 5 415 8 416 7 417 5 418 2 419 1 420 7 421 1 422 6 423 2 424 6 425 2 426 8 427 5 428 6 429 3 430 4 431 5 432 5 433 2 434 1 435 1 436 2 437 2 438 5 439 7 440 4 441 7 442 5 443 1 444 8 445 6 446 2 447 1 448 7 449 3 450 1 451 1 452 7 453 5 454 4 455 1 456 7 457 7 458 1 459 3 460 1 461 4 462 0 463 3 464 2 465 1 466 4 467 7 468 3 469 6 470 4 471 5 472 1 473 8 474 6 475 3 476 4 477 5 478 1 479 1 480 0" stroke="#8e4870" stroke-opacity="0.45" vector-effect="non-scaling-stroke"/><path d="M0 1 1 0 2 7 3 4 4 0 5 5 6 0 7 2 8 7 9 6 10 4 11 5 12 4 13 8 14 7 15 2 16 3 17 0 18 6 19 1 20 3 21 3 22 1 23 5 24 4 25 3 26 2 27 7 28 0 29 4 30 7 31 6 32 1 33 1 34 2 35 2 36 5 37 1 38 7 39 7 40 4 41 7 42 1 43 2 44 3 45 8 46 3 47 4 48 2 49 2 50 2 51 1 52 0 53 2 54 8 55 0 56 2 57 2 58 1 59 7 60 7 61 3 62 1 63 2 64 5 65 2 66 8 67 7 68 2 69 7 70 7 71 2 72 0 73 6 74 0 75 8 76 2 77 1 78 3 79 1 80 1 81 7 82 1 83 0 84 1 85 0 86 2 87 3 88 5 89 2 90 4 91 2 92 4 93 1 94 1 95 0 96 8 97 1 98 0 99 2 100 2 101 4 102 1 103 2 104 1 105 8 106 7 107 2 108 0 109 6 110 7 111 4 112 5 113 6 114 2 115 3 116 3 117 1 118 2 119 5 120 5 121 6 122 4 123 6 124 3 125 1 126 5 127 0 128 7 129 2 130 1 131 4 132 7 133 0 134 0 135 6 136 1 137 4 138 7 139 6 140 1 141 5 142 5 143 8 144 6 145 1 146 8 147 4 148 7 149 2 150 2 151 2 152 5 153 1 154 3 155 3 156 2 157 4 158 7 159 4 160 1 161 2 162 0 163 3 164 1 165 6 166 3 167 1 168 4 169 5 170 8 171 3 172 2 173 1 174 4 175 3 176 5 177 5 178 7 179 2 180 1 181 2 182 0 183 1 184 8 185 6 186 2 187 5 188 2 189 7 190 0 191 2 192 1 193 6 194 4 195 3 196 2 197 2 198 6 199 3 200 2 201 0 202 4 203 1 204 2 205 5 206 5 207 8 208 5 209 5 210 7 211 0 212 8 213 6 214 1 215 1 216 0 217 2 218 4 219 2 220 1 221 1 222 6 223 7 224 1 225 5 226 2 227 6 228 1 229 1 230 5 231 2 232 0 233 6 234 1 235 1 236 1 237 8 238 4 239 6 240 4 241 6 242 2 243 7 244 1 245 6 246 3 247 5 248 8 249 2 250 0 251 2 252 1 253 2 254 2 255 7 256 4 257 4 258 4 259 0 260 7 261 2 262 7 263 6 264 7 265 7 266 2 267 3 268 0 269 7 270 3 271 4 272 0 273 7 274 4 275 0 276 8 277 4 278 8 279 3 280 3 281 0 282 1 283 0 284 7 285 2 286 7 287 7 288 2 289 2 290 7 291 2 292 5 293 0 294 8 295 8 296 3 297 0 298 1 299 2 300 4 301 1 302 4 303 5 304 6 305 4 306 6 307 1 308 1 309 1 310 0 311 1 312 8 313 2 314 4 315 0 316 3 317 7 318 6 319 3 320 1 321 4 322 4 323 3 324 6 325 2 326 2 327 2 328 1 329 3 330 4 331 5 332 3 333 2 334 1 335 5 336 2 337 2 338 2 339 2 340 2 341 8 342 0 343 4 344 1 345 2 346 2 347 7 348 1 349 2 350 4 351 1 352 2 353 4 354 0 355 6 356 2 357 0 358 3 359 5 360 3 361 3 362 1 363 0 364 6 365 5 366 5 367 1 368 2 369 2 370 2 371 2 372 3 373 0 374 1 375 0 376 1 377 4 378 5 379 1 380 4 381 1 382 6 383 6 384 1 385 5 386 2 387 8 388 1 389 2 390 7 391 7 392 4 393 2 394 5 395 4 396 2 397 5 398 1 399 3 400 4 401 6 402 3 403 5 404 2 405 3 406 1 407 4 408 5 409 6 410 7 411 1 412 2 413 5 414 7 415 7 416 7 417 0 418 4 419 8 420 6 421 0 422 7 423 7 424 2 425 2 426 7 427 4 428 7 429 3 430 2 431 1 432 7 433 4 434 6 435 1 436 7 437 5 438 7 439 1 440 7 441 2 442 5 443 0 444 3 445 0 446 1 447 2 448 2 449 2 450 3 451 7 452 2 453 1 454 2 455 5 456 1 457 2 458 1 459 3 460 4 461 2 462 0 463 2 464 5 465 7 466 0 467 0 468 6 469 3 470 5 471 5 472 2 473 3 474 1 475 4 476 1 477 0 478 4 479 2 480 0" stroke="#9a4e6e" stroke-opacity="0.45" vector-effect="non-scaling-stroke"/><path d="M0 6 1 6 2 1 3 6 4 6 5 2 6 7 7 3 8 2 9 2 10 7 11 0 12 7 13 2 14 5 15 2 16 2 17 0 18 1 19 2 20 6 21 4 22 6 23 1 24 0 25 5 26 6 27 4 28 3 29 1 30 5 31 4 32 8 33 6 34 5 35 2 36 1 37 5 38 1 39 5 40 1 41 3 42 1 43 0 44 5 45 6 46 7 47 7 48 2 49 4 50 0 51 1 52 5 53 4 54 2 55 2 56 1 57 2 58 6 59 2 60 2 61 0 62 7 63 1 64 5 65 2 66 4 67 7 68 3 69 1 70 2 71 5 72 5 73 1 74 0 75 7 76 1 77 3 78 0 79 4 80 4 81 6 82 8 83 3 84 2 85 6 86 6 87 1 88 1 89 1 90 3 91 5 92 4 93 1 94 0 95 2 96 8 97 6 98 4 99 5 100 1 101 1 102 2 103 2 104 2 105 0 106 2 107 5 108 0 109 7 110 5 111 2 112 5 113 3 114 2 115 4 116 2 117 3 118 2 119 8 120 6 121 8 122 5 123 1 124 2 125 6 126 3 127 1 128 7 129 2 130 5 131 1 132 2 133 8 134 6 135 3 136 3 137 0 138 5 139 2 140 6 141 3 142 1 143 0 144 0 145 5 146 3 147 0 148 0 149 7 150 1 151 3 152 6 153 7 154 5 155 4 156 1 157 5 158 6 159 8 160 1 161 2 162 8 163 2 164 2 165 4 166 3 167 5 168 7 169 3 170 7 171 2 172 3 173 1 174 6 175 3 176 7 177 5 178 5 179 7 180 6 181 1 182 3 183 7 184 5 185 8 186 7 187 3 188 4 189 3 190 8 191 0 192 2 193 4 194 3 195 8 196 4 197 4 198 0 199 6 200 8 201 7 202 1 203 0 204 3 205 7 206 5 207 1 208 7 209 4 210 1 211 0 212 3 213 1 214 6 215 8 216 6 217 7 218 4 219 5 220 4 221 2 222 0 223 4 224 4 225 1 226 5 227 6 228 2 229 1 230 2 231 2 232 3 233 3 234 1 235 0 236 1 237 1 238 8 239 2 240 2 241 3 242 3 243 1 244 3 245 2 246 6 247 2 248 7 249 3 250 8 251 1 252 1 253 4 254 7 255 2 256 0 257 4 258 3 259 7 260 1 261 2 262 5 263 7 264 0 265 1 266 2 267 5 268 1 269 1 270 3 271 8 272 1 273 2 274 6 275 1 276 4 277 6 278 1 279 4 280 1 281 7 282 4 283 1 284 7 285 1 286 3 287 7 288 7 289 7 290 7 291 4 292 1 293 2 294 2 295 1 296 1 297 6 298 2 299 5 300 5 301 1 302 6 303 4 304 6 305 2 306 6 307 2 308 6 309 3 310 3 311 4 312 2 313 3 314 6 315 6 316 0 317 2 318 6 319 4 320 7 321 5 322 3 323 2 324 1 325 3 326 8 327 4 328 6 329 0 330 4 331 1 332 3 333 7 334 0 335 0 336 1 337 6 338 7 339 6 340 1 341 2 342 4 343 2 344 4 345 2 346 2 347 3 348 2 349 3 350 2 351 5 352 5 353 7 354 1 355 1 356 7 357 2 358 2 359 6 360 0 361 0 362 6 363 5 364 5 365 1 366 1 367 4 368 8 369 3 370 1 371 5 372 3 373 0 374 6 375 6 376 2 377 3 378 1 379 5 380 4 381 2 382 1 383 2 384 4 385 1 386 6 387 0 388 4 389 2 390 7 391 2 392 1 393 6 394 8 395 1 396 6 397 4 398 3 399 1 400 2 401 2 402 1 403 3 404 5 405 3 406 1 407 0 408 3 409 6 410 6 411 7 412 0 413 2 414 2 415 7 416 8 417 5 418 6 419 1 420 7 421 5 422 4 423 1 424 2 425 4 426 4 427 5 428 1 429 5 430 5 431 7 432 5 433 3 434 2 435 7 436 2 437 2 438 1 439 7 440 1 441 5 442 0 443 5 444 0 445 3 446 1 447 2 448 0 449 8 450 2 451 1 452 4 453 1 454 1 455 7 456 5 457 1 458 1 459 3 460 1 461 4 462 0 463 0 464 1 465 1 466 2 467 3 468 7 469 5 470 3 471 7 472 0 473 1 474 6 475 7 476 5 477 4 478 6 479 2 480 5" stroke="#a0505e" stroke-opacity="0.45" vector-effect="non-scaling-stroke"/><path d="M0 6 1 1 2 1 3 5 4 6 5 1 6 1 7 6 8 2 9 7 10 0 11 4 12 1 13 2 14 7 15 6 16 2 17 1 18 2 19 7 20 1 21 0 22 5 23 3 24 8 25 1 26 2 27 0 28 1 29 6 30 5 31 8 32 2 33 1 34 0 35 3 36 4 37 1 38 0 39 5 40 0 41 3 42 1 43 3 44 7 45 2 46 2 47 1 48 1 49 1 50 2 51 1 52 3 53 1 54 0 55 0 56 5 57 3 58 1 59 1 60 1 61 6 62 3 63 3 64 3 65 3 66 2 67 1 68 5 69 3 70 4 71 1 72 4 73 7 74 1 75 0 76 1 77 3 78 8 79 1 80 5 81 0 82 1 83 2 84 5 85 7 86 1 87 2 88 2 89 6 90 1 91 2 92 7 93 7 94 3 95 2 96 5 97 5 98 6 99 4 100 1 101 0 102 2 103 4 104 4 105 3 106 5 107 1 108 1 109 6 110 5 111 8 112 1 113 5 114 6 115 0 116 3 117 7 118 6 119 1 120 0 121 3 122 3 123 4 124 4 125 1 126 0 127 4 128 1 129 5 130 4 131 2 132 7 133 7 134 3 135 4 136 2 137 2 138 0 139 5 140 1 141 7 142 7 143 2 144 4 145 6 146 3 147 2 148 1 149 6 150 2 151 0 152 1 153 1 154 4 155 3 156 2 157 1 158 1 159 2 160 3 161 1 162 0 163 7 164 2 165 2 166 5 167 2 168 1 169 3 170 1 171 3 172 0 173 5 174 1 175 5 176 7 177 7 178 2 179 1 180 3 181 2 182 2 183 2 184 3 185 5 186 2 187 3 188 8 189 3 190 0 191 0 192 6 193 1 194 3 195 2 196 5 197 3 198 2 199 0 200 5 201 1 202 7 203 2 204 6 205 1 206 5 207 6 208 6 209 2 210 1 211 4 212 5 213 0 214 2 215 2 216 0 217 6 218 7 219 2 220 8 221 8 222 4 223 6 224 2 225 2 226 3 227 2 228 6 229 2 230 5 231 2 232 3 233 2 234 7 235 5 236 2 237 3 238 2 239 2 240 1 241 1 242 1 243 1 244 3 245 1 246 5 247 3 248 1 249 7 250 3 251 2 252 6 253 0 254 4 255 1 256 4 257 6 258 5 259 3 260 2 261 3 262 2 263 8 264 4 265 6 266 2 267 5 268 6 269 8 270 2 271 7 272 3 273 2 274 1 275 5 276 4 277 8 278 3 279 6 280 5 281 5 282 1 283 7 284 2 285 8 286 5 287 6 288 4 289 7 290 7 291 1 292 2 293 5 294 2 295 1 296 2 297 2 298 2 299 6 300 5 301 5 302 8 303 2 304 1 305 1 306 5 307 4 308 7 309 5 310 1 311 4 312 3 313 2 314 7 315 0 316 1 317 7 318 1 319 4 320 1 321 7 322 0 323 6 324 1 325 3 326 1 327 5 328 1 329 3 330 2 331 5 332 0 333 7 334 6 335 7 336 2 337 1 338 5 339 7 340 1 341 1 342 7 343 3 344 1 345 5 346 4 347 6 348 3 349 7 350 0 351 2 352 3 353 2 354 3 355 0 356 1 357 1 358 1 359 0 360 7 361 1 362 6 363 4 364 7 365 2 366 5 367 5 368 4 369 1 370 4 371 7 372 4 373 4 374 1 375 0 376 7 377 7 378 7 379 2 380 5 381 1 382 3 383 1 384 0 385 7 386 3 387 7 388 2 389 7 390 3 391 1 392 3 393 3 394 4 395 6 396 2 397 8 398 8 399 7 400 2 401 4 402 0 403 7 404 1 405 4 406 4 407 7 408 1 409 1 410 1 411 4 412 7 413 4 414 6 415 4 416 4 417 3 418 5 419 1 420 1 421 2 422 3 423 8 424 0 425 1 426 6 427 1 428 7 429 1 430 2 431 3 432 1 433 1 434 1 435 0 436 1 437 4 438 7 439 6 440 2 441 0 442 1 443 2 444 7 445 3 446 6 447 3 448 4 449 7 450 2 451 6 452 2 453 1 454 6 455 5 456 1 457 2 458 3 459 6 460 2 461 6 462 1 463 1 464 2 465 1 466 8 467 3 468 2 469 3 470 1 471 5 472 6 473 5 474 8 475 2 476 2 477 7 478 0 479 7 480 8" stroke="#84507a" stroke-opacity="0.45" vector-effect="non-scaling-stroke"/><path d="M0 7 1 2 2 1 3 8 4 2 5 5 6 6 7 0 8 0 9 0 10 1 11 0 12 2 13 4 14 1 15 7 16 3 17 2 18 7 19 2 20 0 21 5 22 5 23 3 24 2 25 4 26 0 27 8 28 4 29 6 30 2 31 3 32 1 33 4 34 2 35 0 36 5 37 7 38 7 39 1 40 3 41 7 42 8 43 8 44 5 45 2 46 1 47 7 48 2 49 3 50 0 51 1 52 1 53 2 54 2 55 2 56 2 57 0 58 7 59 5 60 3 61 4 62 1 63 7 64 0 65 2 66 0 67 7 68 2 69 2 70 4 71 2 72 3 73 4 74 6 75 2 76 7 77 0 78 2 79 1 80 2 81 8 82 7 83 3 84 1 85 4 86 3 87 0 88 4 89 1 90 4 91 0 92 2 93 4 94 4 95 8 96 6 97 7 98 1 99 7 100 2 101 1 102 2 103 4 104 6 105 4 106 3 107 5 108 5 109 2 110 2 111 0 112 0 113 4 114 2 115 3 116 0 117 2 118 6 119 1 120 2 121 7 122 1 123 7 124 0 125 1 126 2 127 2 128 1 129 8 130 7 131 6 132 6 133 1 134 5 135 0 136 6 137 0 138 2 139 7 140 6 141 2 142 8 143 3 144 4 145 2 146 5 147 2 148 4 149 0 150 1 151 8 152 2 153 1 154 1 155 6 156 3 157 3 158 4 159 2 160 4 161 1 162 1 163 7 164 0 165 2 166 3 167 2 168 2 169 6 170 1 171 7 172 7 173 5 174 2 175 8 176 6 177 4 178 1 179 2 180 3 181 0 182 7 183 7 184 0 185 6 186 6 187 5 188 0 189 6 190 2 191 1 192 2 193 8 194 7 195 4 196 0 197 6 198 4 199 1 200 1 201 0 202 7 203 6 204 0 205 5 206 3 207 7 208 3 209 4 210 2 211 7 212 1 213 2 214 6 215 5 216 1 217 2 218 1 219 2 220 2 221 6 222 1 223 0 224 1 225 6 226 7 227 7 228 6 229 3 230 7 231 6 232 1 233 1 234 6 235 4 236 7 237 4 238 8 239 1 240 8 241 6 242 1 243 4 244 6 245 0 246 8 247 6 248 5 249 2 250 7 251 3 252 5 253 1 254 2 255 5 256 2 257 4 258 3 259 7 260 8 261 7 262 5 263 1 264 6 265 2 266 1 267 7 268 3 269 5 270 3 271 5 272 5 273 7 274 8 275 7 276 0 277 1 278 7 279 0 280 0 281 6 282 6 283 1 284 5 285 2 286 1 287 0 288 3 289 2 290 1 291 5 292 5 293 6 294 7 295 2 296 4 297 3 298 5 299 1 300 7 301 2 302 2 303 1 304 8 305 1 306 5 307 3 308 0 309 0 310 1 311 5 312 2 313 6 314 1 315 7 316 2 317 5 318 8 319 3 320 6 321 8 322 7 323 8 324 5 325 4 326 2 327 8 328 2 329 0 330 7 331 0 332 4 333 2 334 5 335 0 336 1 337 0 338 4 339 4 340 7 341 1 342 5 343 3 344 1 345 8 346 1 347 1 348 1 349 0 350 1 351 1 352 8 353 1 354 7 355 8 356 3 357 2 358 8 359 5 360 2 361 2 362 4 363 7 364 1 365 6 366 2 367 2 368 5 369 2 370 0 371 1 372 5 373 1 374 2 375 5 376 7 377 1 378 4 379 4 380 6 381 4 382 6 383 1 384 5 385 8 386 2 387 3 388 6 389 7 390 1 391 6 392 2 393 0 394 2 395 7 396 4 397 2 398 7 399 2 400 5 401 5 402 4 403 0 404 2 405 1 406 1 407 5 408 6 409 7 410 0 411 1 412 2 413 2 414 0 415 5 416 5 417 2 418 1 419 1 420 2 421 2 422 3 423 2 424 3 425 6 426 8 427 1 428 4 429 6 430 1 431 1 432 8 433 5 434 5 435 5 436 2 437 1 438 6 439 7 440 4 441 3 442 4 443 6 444 8 445 0 446 1 447 2 448 2 449 2 450 1 451 2 452 6 453 0 454 3 455 3 456 4 457 6 458 6 459 7 460 4 461 2 462 0 463 0 464 4 465 5 466 0 467 4 468 0 469 3 470 2 471 1 472 2 473 0 474 1 475 6 476 2 477 2 478 7 479 4 480 1" stroke="#a85a60" stroke-opacity="0.45" vector-effect="non-scaling-stroke"/><path d="M0 4 1 1 2 6 3 1 4 0 5 1 6 2 7 2 8 2 9 1 10 2 11 8 12 4 13 6 14 1 15 1 16 8 17 0 18 4 19 2 20 6 21 6 22 5 23 1 24 5 25 4 26 7 27 7 28 1 29 1 30 2 31 6 32 4 33 2 34 1 35 4 36 2 37 7 38 3 39 5 40 2 41 3 42 6 43 8 44 1 45 0 46 4 47 1 48 4 49 6 50 0 51 2 52 1 53 5 54 7 55 2 56 1 57 4 58 5 59 6 60 7 61 3 62 1 63 4 64 0 65 2 66 1 67 3 68 7 69 1 70 0 71 6 72 2 73 0 74 8 75 1 76 1 77 0 78 8 79 6 80 1 81 2 82 1 83 1 84 2 85 3 86 5 87 5 88 3 89 6 90 4 91 4 92 6 93 4 94 2 95 1 96 3 97 2 98 0 99 0 100 3 101 2 102 2 103 0 104 4 105 1 106 0 107 4 108 4 109 7 110 0 111 5 112 5 113 8 114 1 115 5 116 3 117 4 118 7 119 5 120 1 121 0 122 0 123 2 124 1 125 4 126 1 127 7 128 4 129 1 130 0 131 2 132 3 133 3 134 8 135 7 136 4 137 0 138 5 139 5 140 0 141 3 142 5 143 1 144 0 145 2 146 1 147 2 148 0 149 2 150 1 151 1 152 2 153 1 154 6 155 7 156 1 157 0 158 1 159 2 160 5 161 7 162 1 163 0 164 3 165 1 166 2 167 3 168 1 169 5 170 7 171 7 172 2 173 1 174 2 175 8 176 1 177 7 178 1 179 0 180 6 181 4 182 0 183 1 184 2 185 4 186 3 187 3 188 1 189 3 190 1 191 1 192 7 193 7 194 3 195 8 196 2 197 0 198 1 199 1 200 2 201 2 202 2 203 0 204 5 205 5 206 3 207 1 208 8 209 6 210 1 211 8 212 3 213 4 214 0 215 7 216 1 217 7 218 5 219 7 220 8 221 2 222 6 223 4 224 6 225 2 226 3 227 1 228 2 229 4 230 5 231 1 232 3 233 5 234 4 235 4 236 2 237 1 238 2 239 8 240 2 241 2 242 4 243 4 244 2 245 2 246 8 247 2 248 4 249 0 250 5 251 1 252 8 253 4 254 4 255 0 256 3 257 5 258 7 259 5 260 1 261 7 262 3 263 0 264 1 265 7 266 1 267 2 268 1 269 1 270 7 271 4 272 8 273 1 274 1 275 8 276 1 277 3 278 1 279 2 280 5 281 1 282 2 283 2 284 6 285 4 286 5 287 4 288 6 289 4 290 7 291 2 292 0 293 1 294 4 295 1 296 2 297 0 298 8 299 0 300 6 301 5 302 2 303 6 304 3 305 2 306 3 307 0 308 6 309 1 310 5 311 2 312 6 313 5 314 0 315 2 316 2 317 1 318 3 319 3 320 1 321 1 322 6 323 5 324 0 325 2 326 2 327 5 328 7 329 3 330 5 331 1 332 5 333 1 334 7 335 2 336 3 337 1 338 0 339 7 340 6 341 5 342 6 343 2 344 1 345 0 346 2 347 6 348 4 349 5 350 7 351 7 352 6 353 0 354 7 355 2 356 7 357 7 358 6 359 3 360 0 361 5 362 4 363 0 364 1 365 6 366 0 367 2 368 1 369 2 370 7 371 3 372 1 373 0 374 5 375 5 376 2 377 3 378 5 379 2 380 7 381 3 382 0 383 1 384 8 385 2 386 3 387 5 388 2 389 2 390 8 391 4 392 1 393 0 394 5 395 0 396 6 397 6 398 2 399 4 400 3 401 2 402 5 403 2 404 2 405 4 406 3 407 1 408 4 409 6 410 7 411 7 412 8 413 1 414 6 415 3 416 3 417 6 418 6 419 4 420 5 421 8 422 6 423 4 424 1 425 1 426 1 427 2 428 0 429 4 430 1 431 2 432 3 433 5 434 0 435 8 436 2 437 1 438 6 439 2 440 7 441 5 442 6 443 7 444 3 445 1 446 7 447 1 448 3 449 3 450 7 451 1 452 8 453 1 454 3 455 2 456 5 457 7 458 1 459 5 460 1 461 7 462 6 463 6 464 0 465 2 466 3 467 6 468 6 469 6 470 6 471 7 472 2 473 6 474 4 475 3 476 7 477 2 478 4 479 6 480 7" stroke="#904a74" stroke-opacity="0.45" vector-effect="non-scaling-stroke"/><path d="M0 7 1 2 2 0 3 4 4 7 5 0 6 7 7 3 8 3 9 8 10 4 11 6 12 3 13 0 14 5 15 6 16 2 17 8 18 2 19 6 20 2 21 0 22 6 23 8 24 0 25 2 26 5 27 7 28 5 29 8 30 1 31 3 32 1 33 3 34 8 35 5 36 7 37 3 38 6 39 3 40 2 41 1 42 1 43 7 44 6 45 2 46 2 47 7 48 2 49 1 50 0 51 6 52 3 53 6 54 4 55 7 56 1 57 6 58 0 59 3 60 7 61 6 62 0 63 4 64 2 65 2 66 6 67 1 68 1 69 0 70 2 71 1 72 2 73 4 74 2 75 1 76 1 77 3 78 6 79 1 80 7 81 5 82 1 83 1 84 4 85 7 86 5 87 0 88 5 89 5 90 2 91 1 92 5 93 6 94 0 95 6 96 4 97 1 98 1 99 8 100 7 101 0 102 2 103 1 104 0 105 7 106 1 107 1 108 1 109 6 110 4 111 7 112 4 113 2 114 3 115 7 116 5 117 3 118 6 119 6 120 6 121 1 122 5 123 2 124 1 125 1 126 2 127 2 128 3 129 1 130 1 131 4 132 1 133 1 134 7 135 5 136 0 137 1 138 4 139 7 140 6 141 8 142 2 143 0 144 0 145 0 146 5 147 2 148 2 149 3 150 0 151 2 152 4 153 6 154 2 155 2 156 5 157 5 158 6 159 1 160 4 161 3 162 1 163 3 164 2 165 4 166 1 167 5 168 6 169 6 170 1 171 4 172 2 173 2 174 7 175 8 176 4 177 5 178 2 179 0 180 1 181 6 182 5 183 4 184 5 185 1 186 8 187 1 188 7 189 6 190 1 191 0 192 4 193 1 194 6 195 3 196 3 197 1 198 2 199 7 200 1 201 4 202 3 203 6 204 6 205 2 206 5 207 1 208 4 209 1 210 7 211 2 212 6 213 4 214 7 215 4 216 5 217 0 218 1 219 2 220 4 221 4 222 6 223 2 224 4 225 1 226 6 227 1 228 3 229 0 230 2 231 1 232 0 233 4 234 3 235 2 236 1 237 4 238 0 239 1 240 1 241 0 242 6 243 4 244 7 245 3 246 6 247 0 248 4 249 3 250 8 251 1 252 2 253 0 254 0 255 3 256 6 257 5 258 6 259 1 260 2 261 2 262 2 263 1 264 2 265 8 266 6 267 2 268 4 269 3 270 1 271 6 272 3 273 1 274 1 275 2 276 2 277 1 278 4 279 2 280 0 281 6 282 5 283 0 284 2 285 8 286 8 287 7 288 3 289 6 290 3 291 1 292 2 293 6 294 2 295 1 296 6 297 2 298 2 299 1 300 6 301 3 302 7 303 6 304 4 305 4 306 1 307 6 308 2 309 4 310 5 311 5 312 1 313 5 314 3 315 3 316 5 317 3 318 6 319 0 320 3 321 4 322 8 323 5 324 1 325 8 326 2 327 6 328 7 329 2 330 8 331 1 332 1 333 1 334 5 335 1 336 2 337 8 338 2 339 4 340 6 341 3 342 3 343 8 344 3 345 1 346 2 347 8 348 7 349 3 350 1 351 0 352 3 353 1 354 1 355 6 356 4 357 3 358 5 359 5 360 6 361 4 362 5 363 1 364 1 365 6 366 0 367 0 368 2 369 4 370 1 371 2 372 7 373 0 374 1 375 1 376 1 377 2 378 4 379 2 380 6 381 4 382 0 383 7 384 8 385 1 386 2 387 5 388 4 389 2 390 3 391 8 392 7 393 0 394 1 395 6 396 1 397 1 398 4 399 7 400 1 401 1 402 1 403 4 404 1 405 4 406 6 407 2 408 1 409 4 410 5 411 0 412 5 413 0 414 3 415 4 416 1 417 3 418 2 419 2 420 2 421 1 422 3 423 5 424 7 425 1 426 3 427 0 428 4 429 2 430 0 431 1 432 6 433 4 434 5 435 4 436 2 437 2 438 7 439 4 440 4 441 2 442 0 443 1 444 1 445 2 446 8 447 5 448 6 449 6 450 4 451 5 452 8 453 6 454 2 455 1 456 7 457 4 458 1 459 5 460 5 461 1 462 2 463 5 464 2 465 7 466 7 467 1 468 2 469 0 470 2 471 3 472 2 473 2 474 6 475 7 476 6 477 3 478 7 479 4 480 2" stroke="#a8605a" stroke-opacity="0.45" vector-effect="non-scaling-stroke"/><path d="M0 5 1 1 2 1 3 1 4 5 5 2 6 1 7 1 8 6 9 6 10 2 11 1 12 4 13 3 14 2 15 4 16 3 17 2 18 2 19 1 20 6 21 4 22 6 23 1 24 2 25 1 26 2 27 6 28 1 29 7 30 3 31 0 32 2 33 7 34 4 35 2 36 0 37 0 38 0 39 6 40 3 41 2 42 2 43 7 44 6 45 6 46 6 47 6 48 6 49 3 50 3 51 3 52 2 53 5 54 4 55 1 56 2 57 2 58 6 59 2 60 6 61 6 62 4 63 1 64 7 65 7 66 1 67 1 68 7 69 4 70 5 71 0 72 1 73 2 74 2 75 7 76 0 77 7 78 6 79 2 80 8 81 1 82 4 83 5 84 1 85 0 86 1 87 2 88 5 89 2 90 6 91 0 92 6 93 7 94 2 95 5 96 7 97 8 98 4 99 2 100 4 101 1 102 5 103 2 104 2 105 1 106 4 107 2 108 7 109 0 110 3 111 1 112 2 113 8 114 5 115 1 116 2 117 2 118 5 119 0 120 2 121 5 122 7 123 1 124 8 125 0 126 5 127 7 128 7 129 4 130 0 131 1 132 1 133 6 134 6 135 5 136 2 137 5 138 6 139 3 140 6 141 7 142 6 143 0 144 2 145 7 146 4 147 4 148 2 149 1 150 1 151 3 152 6 153 5 154 8 155 0 156 7 157 7 158 2 159 3 160 5 161 7 162 1 163 4 164 4 165 1 166 4 167 8 168 2 169 0 170 1 171 4 172 6 173 6 174 1 175 1 176 1 177 2 178 4 179 0 180 0 181 2 182 8 183 0 184 2 185 1 186 0 187 1 188 2 189 4 190 4 191 7 192 1 193 2 194 7 195 3 196 1 197 1 198 0 199 8 200 2 201 1 202 1 203 3 204 1 205 7 206 1 207 4 208 2 209 6 210 7 211 2 212 2 213 5 214 3 215 1 216 8 217 5 218 2 219 4 220 1 221 0 222 2 223 1 224 3 225 6 226 4 227 2 228 3 229 2 230 1 231 0 232 5 233 1 234 2 235 1 236 3 237 2 238 3 239 7 240 2 241 2 242 5 243 2 244 7 245 1 246 1 247 7 248 0 249 0 250 3 251 4 252 1 253 0 254 6 255 4 256 5 257 1 258 0 259 0 260 1 261 0 262 0 263 7 264 1 265 6 266 7 267 3 268 1 269 3 270 7 271 3 272 7 273 7 274 5 275 2 276 3 277 7 278 3 279 3 280 1 281 7 282 0 283 6 284 1 285 1 286 0 287 1 288 4 289 0 290 5 291 2 292 2 293 1 294 0 295 7 296 7 297 0 298 8 299 0 300 6 301 2 302 8 303 6 304 0 305 2 306 5 307 2 308 5 309 1 310 2 311 0 312 2 313 7 314 4 315 1 316 0 317 4 318 1 319 1 320 6 321 1 322 8 323 7 324 5 325 0 326 1 327 1 328 2 329 1 330 1 331 0 332 5 333 7 334 7 335 0 336 1 337 5 338 8 339 6 340 2 341 1 342 0 343 3 344 5 345 0 346 1 347 2 348 6 349 6 350 3 351 0 352 1 353 2 354 3 355 1 356 0 357 7 358 6 359 8 360 1 361 4 362 6 363 0 364 7 365 2 366 2 367 0 368 4 369 7 370 1 371 7 372 5 373 2 374 7 375 6 376 7 377 4 378 5 379 7 380 7 381 8 382 5 383 1 384 1 385 2 386 7 387 7 388 1 389 0 390 2 391 1 392 1 393 3 394 0 395 1 396 0 397 2 398 0 399 5 400 4 401 7 402 5 403 1 404 1 405 7 406 2 407 3 408 7 409 1 410 4 411 1 412 2 413 4 414 0 415 7 416 2 417 1 418 5 419 7 420 4 421 7 422 1 423 1 424 2 425 3 426 2 427 2 428 5 429 3 430 0 431 1 432 4 433 7 434 6 435 3 436 3 437 5 438 6 439 5 440 2 441 2 442 0 443 2 444 0 445 0 446 0 447 6 448 2 449 6 450 0 451 5 452 1 453 2 454 7 455 8 456 8 457 1 458 1 459 1 460 7 461 6 462 7 463 1 464 1 465 0 466 6 467 2 468 1 469 1 470 8 471 7 472 7 473 3 474 1 475 2 476 1 477 1 478 5 479 4 480 1" stroke="#7d5a86" stroke-opacity="0.45" vector-effect="non-scaling-stroke"/><path d="M0 1 1 5 2 1 3 6 4 4 5 1 6 2 7 1 8 5 9 6 10 7 11 4 12 2 13 1 14 2 15 2 16 3 17 3 18 4 19 2 20 4 21 0 22 1 23 2 24 8 25 7 26 3 27 1 28 5 29 1 30 2 31 4 32 8 33 4 34 2 35 8 36 6 37 8 38 2 39 6 40 1 41 6 42 5 43 1 44 8 45 4 46 3 47 2 48 2 49 6 50 3 51 8 52 4 53 3 54 5 55 7 56 4 57 6 58 2 59 1 60 6 61 1 62 1 63 8 64 5 65 5 66 7 67 0 68 6 69 1 70 5 71 1 72 5 73 1 74 4 75 7 76 3 77 1 78 8 79 2 80 7 81 6 82 1 83 1 84 1 85 7 86 8 87 1 88 0 89 6 90 7 91 3 92 0 93 4 94 1 95 1 96 4 97 3 98 1 99 5 100 3 101 3 102 1 103 4 104 3 105 3 106 2 107 0 108 5 109 4 110 8 111 5 112 1 113 1 114 1 115 2 116 2 117 1 118 0 119 2 120 5 121 8 122 4 123 4 124 2 125 0 126 4 127 1 128 0 129 3 130 8 131 1 132 2 133 1 134 6 135 2 136 4 137 2 138 0 139 0 140 1 141 1 142 1 143 0 144 7 145 0 146 4 147 2 148 1 149 1 150 1 151 3 152 1 153 8 154 5 155 6 156 8 157 0 158 7 159 1 160 2 161 3 162 2 163 3 164 3 165 1 166 4 167 3 168 7 169 1 170 2 171 8 172 0 173 1 174 2 175 4 176 6 177 3 178 1 179 2 180 0 181 0 182 2 183 1 184 8 185 8 186 2 187 6 188 6 189 5 190 1 191 2 192 5 193 6 194 5 195 6 196 4 197 3 198 5 199 4 200 2 201 1 202 7 203 4 204 4 205 0 206 2 207 6 208 2 209 0 210 3 211 1 212 5 213 2 214 1 215 1 216 5 217 8 218 1 219 1 220 7 221 2 222 0 223 0 224 3 225 7 226 6 227 3 228 6 229 1 230 1 231 7 232 8 233 1 234 2 235 2 236 4 237 2 238 6 239 1 240 3 241 5 242 3 243 8 244 3 245 2 246 0 247 1 248 7 249 0 250 1 251 5 252 1 253 1 254 5 255 5 256 2 257 4 258 4 259 2 260 2 261 0 262 1 263 4 264 6 265 8 266 5 267 1 268 2 269 1 270 5 271 3 272 8 273 0 274 1 275 6 276 1 277 2 278 7 279 6 280 1 281 0 282 3 283 1 284 1 285 5 286 2 287 7 288 1 289 1 290 1 291 0 292 3 293 1 294 7 295 4 296 2 297 1 298 3 299 4 300 0 301 3 302 5 303 8 304 2 305 4 306 4 307 3 308 4 309 3 310 7 311 0 312 2 313 2 314 3 315 1 316 6 317 7 318 5 319 6 320 7 321 2 322 6 323 2 324 7 325 0 326 4 327 3 328 1 329 1 330 8 331 3 332 5 333 3 334 5 335 0 336 0 337 5 338 3 339 7 340 4 341 3 342 3 343 3 344 0 345 2 346 1 347 1 348 4 349 0 350 4 351 1 352 0 353 6 354 0 355 7 356 6 357 2 358 1 359 8 360 3 361 3 362 0 363 4 364 7 365 5 366 8 367 7 368 2 369 3 370 1 371 5 372 3 373 5 374 2 375 4 376 5 377 3 378 8 379 1 380 5 381 1 382 6 383 5 384 7 385 1 386 3 387 5 388 5 389 6 390 2 391 3 392 0 393 1 394 0 395 4 396 3 397 1 398 3 399 0 400 0 401 2 402 1 403 4 404 1 405 5 406 7 407 1 408 5 409 6 410 2 411 2 412 6 413 1 414 0 415 3 416 8 417 2 418 1 419 2 420 5 421 7 422 2 423 7 424 7 425 0 426 5 427 4 428 3 429 1 430 8 431 2 432 2 433 2 434 6 435 5 436 3 437 5 438 3 439 5 440 0 441 6 442 0 443 1 444 3 445 3 446 2 447 7 448 2 449 5 450 1 451 5 452 5 453 7 454 6 455 6 456 7 457 1 458 6 459 1 460 6 461 4 462 1 463 7 464 7 465 1 466 7 467 1 468 4 469 1 470 8 471 5 472 0 473 8 474 2 475 6 476 1 477 4 478 7 479 2 480 2" stroke="#b05050" stroke-opacity="0.45" vector-effect="non-scaling-stroke"/><path d="M0 3 1 1 2 2 3 5 4 1 5 6 6 1 7 5 8 4 9 5 10 8 11 1 12 1 13 3 14 3 15 2 16 5 17 4 18 3 19 2 20 1 21 3 22 5 23 4 24 2 25 4 26 5 27 1 28 7 29 7 30 1 31 1 32 3 33 1 34 1 35 3 36 1 37 8 38 4 39 3 40 2 41 5 42 5 43 3 44 7 45 1 46 8 47 3 48 3 49 5 50 7 51 0 52 5 53 1 54 4 55 3 56 1 57 8 58 0 59 3 60 3 61 2 62 1 63 5 64 0 65 7 66 7 67 2 68 1 69 1 70 0 71 1 72 2 73 3 74 5 75 1 76 1 77 4 78 4 79 3 80 1 81 2 82 3 83 2 84 5 85 3 86 5 87 1 88 7 89 8 90 3 91 1 92 7 93 2 94 3 95 5 96 8 97 0 98 3 99 7 100 1 101 0 102 7 103 2 104 2 105 0 106 2 107 7 108 2 109 2 110 1 111 2 112 4 113 7 114 3 115 6 116 1 117 3 118 8 119 3 120 7 121 0 122 4 123 2 124 1 125 5 126 1 127 4 128 3 129 6 130 3 131 1 132 3 133 4 134 2 135 2 136 6 137 2 138 5 139 1 140 0 141 5 142 4 143 2 144 5 145 1 146 5 147 3 148 2 149 4 150 7 151 0 152 4 153 2 154 8 155 6 156 2 157 6 158 6 159 1 160 2 161 7 162 6 163 1 164 1 165 0 166 2 167 2 168 4 169 4 170 2 171 1 172 0 173 7 174 2 175 2 176 4 177 5 178 1 179 3 180 3 181 5 182 2 183 6 184 7 185 2 186 4 187 2 188 0 189 1 190 3 191 7 192 6 193 7 194 0 195 3 196 5 197 3 198 4 199 5 200 4 201 1 202 4 203 7 204 0 205 7 206 2 207 5 208 8 209 5 210 6 211 6 212 2 213 1 214 8 215 4 216 7 217 2 218 1 219 6 220 6 221 2 222 2 223 1 224 2 225 1 226 6 227 0 228 7 229 4 230 2 231 4 232 0 233 1 234 4 235 5 236 4 237 2 238 5 239 4 240 7 241 2 242 0 243 2 244 3 245 2 246 3 247 5 248 2 249 3 250 3 251 7 252 4 253 6 254 2 255 1 256 7 257 3 258 6 259 1 260 3 261 6 262 2 263 4 264 5 265 4 266 6 267 7 268 1 269 0 270 6 271 4 272 6 273 1 274 3 275 4 276 0 277 3 278 5 279 8 280 0 281 5 282 1 283 5 284 1 285 3 286 6 287 3 288 8 289 3 290 0 291 7 292 2 293 6 294 1 295 4 296 2 297 2 298 1 299 0 300 1 301 1 302 2 303 6 304 1 305 2 306 7 307 0 308 6 309 0 310 6 311 2 312 2 313 8 314 4 315 7 316 8 317 2 318 1 319 2 320 3 321 5 322 4 323 2 324 5 325 4 326 3 327 5 328 4 329 4 330 1 331 1 332 3 333 2 334 2 335 3 336 4 337 1 338 1 339 5 340 3 341 6 342 2 343 7 344 2 345 2 346 2 347 3 348 4 349 1 350 2 351 0 352 7 353 5 354 4 355 1 356 3 357 6 358 2 359 6 360 3 361 0 362 4 363 3 364 4 365 3 366 6 367 3 368 6 369 2 370 4 371 7 372 8 373 4 374 3 375 5 376 2 377 2 378 2 379 1 380 2 381 0 382 1 383 7 384 3 385 7 386 2 387 0 388 4 389 2 390 7 391 7 392 5 393 5 394 4 395 4 396 0 397 5 398 6 399 5 400 1 401 0 402 1 403 7 404 4 405 4 406 7 407 7 408 2 409 2 410 2 411 3 412 2 413 5 414 1 415 7 416 1 417 5 418 1 419 1 420 4 421 2 422 1 423 2 424 2 425 1 426 2 427 1 428 1 429 1 430 2 431 2 432 2 433 6 434 1 435 6 436 8 437 2 438 8 439 4 440 1 441 7 442 4 443 1 444 1 445 0 446 7 447 1 448 1 449 5 450 3 451 4 452 0 453 8 454 1 455 6 456 1 457 4 458 0 459 2 460 5 461 6 462 1 463 1 464 3 465 2 466 3 467 2 468 8 469 5 470 1 471 5 472 6 473 6 474 4 475 2 476 0 477 0 478 2 479 3 480 3" stroke="#8e4870" stroke-opacity="0.45" vector-effect="non-scaling-stroke"/></g><path d="M98.9 418 L100.9 414 L103.9 362.8 L106.9 414 L108.9 418" fill="none" stroke="#b8b8a8" stroke-width="0.8" stroke-opacity="0.75"/><path d="M93.9 418 L95.9 414 L98.2 380.0 L100.5 414 L102.5 418" fill="none" stroke="#c88a9a" stroke-width="0.8" stroke-opacity="0.75"/><path d="M135.8 418 L137.8 414 L140.5 395.2 L143.2 414 L145.2 418" fill="none" stroke="#c0c0b0" stroke-width="0.8" stroke-opacity="0.75"/><path d="M149.0 418 L151.0 414 L153.3 376.8 L155.6 414 L157.6 418" fill="none" stroke="#c0c0b0" stroke-width="0.8" stroke-opacity="0.75"/><path d="M186.8 418 L188.8 414 L192.0 375.9 L195.2 414 L197.2 418" fill="none" stroke="#c8c8c0" stroke-width="0.8" stroke-opacity="0.75"/><path d="M215.6 418 L217.6 414 L220.8 387.2 L224.0 414 L226.0 418" fill="none" stroke="#c88080" stroke-width="0.8" stroke-opacity="0.75"/><path d="M223.4 418 L225.4 414 L228.3 388.0 L231.2 414 L233.2 418" fill="none" stroke="#c8c8c0" stroke-width="0.8" stroke-opacity="0.75"/><path d="M263.2 418 L265.2 414 L268.5 370.8 L271.8 414 L273.8 418" fill="none" stroke="#d0d0c8" stroke-width="0.8" stroke-opacity="0.75"/><path d="M274.7 418 L276.7 414 L279.5 327.7 L282.3 414 L284.3 418" fill="none" stroke="#a8a898" stroke-width="0.8" stroke-opacity="0.75"/><path d="M347.5 418 L349.5 414 L352.7 323.2 L355.9 414 L357.9 418" fill="none" stroke="#a8a898" stroke-width="0.8" stroke-opacity="0.75"/><path d="M358.4 418 L360.4 414 L363.7 359.5 L367.0 414 L369.0 418" fill="none" stroke="#c07090" stroke-width="0.8" stroke-opacity="0.75"/><path d="M360.9 418 L362.9 414 L366.0 357.0 L369.1 414 L371.1 418" fill="none" stroke="#d8b0c8" stroke-width="0.8" stroke-opacity="0.75"/><path d="M311.7 418 L313.7 414 L316.0 395.0 L318.3 414 L320.3 418" fill="none" stroke="#b0b0a0" stroke-width="0.8" stroke-opacity="0.75"/><path d="M241.2 418 L243.2 414 L246.0 405.0 L248.8 414 L250.8 418" fill="none" stroke="#c8c8c8" stroke-width="0.8" stroke-opacity="0.75"/><path d="M397.4 418 L399.4 414 L401.8 358.3 L404.2 414 L406.2 418" fill="none" stroke="#c0c0b0" stroke-width="0.8" stroke-opacity="0.75"/><path d="M393.0 418 L395.0 414 L397.7 366.4 L400.4 414 L402.4 418" fill="none" stroke="#c88080" stroke-width="0.8" stroke-opacity="0.75"/><path d="M449.9 418 L451.9 414 L454.8 369.3 L457.7 414 L459.7 418" fill="none" stroke="#c8c8c0" stroke-width="0.8" stroke-opacity="0.75"/><path d="M460.6 418 L462.6 414 L465.8 393.0 L469.0 414 L471.0 418" fill="none" stroke="#c07070" stroke-width="0.8" stroke-opacity="0.75"/><path d="M472.5 418 L474.5 414 L477.7 314.3 L480.9 414 L482.9 418" fill="none" stroke="#d8a0b0" stroke-width="0.8" stroke-opacity="0.75"/><path d="M473.6 418 L475.6 414 L479.0 354.5 L482.4 414 L484.4 418" fill="none" stroke="#c07890" stroke-width="0.8" stroke-opacity="0.75"/><path d="M468.4 418 L470.4 414 L473.3 385.7 L476.2 414 L478.2 418" fill="none" stroke="#c8c8c0" stroke-width="0.8" stroke-opacity="0.75"/><path d="M488.5 418 L490.5 414 L493.0 385.7 L495.5 414 L497.5 418" fill="none" stroke="#c8c8c0" stroke-width="0.8" stroke-opacity="0.75"/><path d="M441.5 418 L443.5 414 L445.9 397.6 L448.3 414 L450.3 418" fill="none" stroke="#a8c0e0" stroke-width="0.8" stroke-opacity="0.75"/><path d="M519.1 418 L521.1 414 L524.2 394.0 L527.3 414 L529.3 418" fill="none" stroke="#c8c8c0" stroke-width="0.8" stroke-opacity="0.75"/><path d="M527.7 418 L529.7 414 L533.0 397.6 L536.3 414 L538.3 418" fill="none" stroke="#c8c8c0" stroke-width="0.8" stroke-opacity="0.75"/><path d="M567.1 418 L569.1 414 L571.8 236.0 L574.5 414 L576.5 418" fill="none" stroke="#b4b4a4" stroke-width="0.8" stroke-opacity="0.75"/><path d="M557.7 418 L559.7 414 L562.9 397.0 L566.1 414 L568.1 418" fill="none" stroke="#b8c0d0" stroke-width="0.8" stroke-opacity="0.75"/><path d="M581.8 418 L583.8 414 L586.4 389.6 L589.0 414 L591.0 418" fill="none" stroke="#c8c8c0" stroke-width="0.8" stroke-opacity="0.75"/><path d="M589.4 418 L591.4 414 L594.7 393.0 L598.0 414 L600.0 418" fill="none" stroke="#c07080" stroke-width="0.8" stroke-opacity="0.75"/><path d="M603.0 418 L605.0 414 L608.0 362.5 L611.0 414 L613.0 418" fill="none" stroke="#b8b8a8" stroke-width="0.8" stroke-opacity="0.75"/><path d="M618.5 418 L620.5 414 L623.0 403.6 L625.5 414 L627.5 418" fill="none" stroke="#c8c8c8" stroke-width="0.8" stroke-opacity="0.75"/><path d="M646.2 418 L648.2 414 L651.3 397.0 L654.4 414 L656.4 418" fill="none" stroke="#c8c8c8" stroke-width="0.8" stroke-opacity="0.75"/><path d="M677.1 418 L679.1 414 L681.4 286.6 L683.7 414 L685.7 418" fill="none" stroke="#b0b0a0" stroke-width="0.8" stroke-opacity="0.75"/><path d="M667.5 418 L669.5 414 L671.9 374.4 L674.3 414 L676.3 418" fill="none" stroke="#d8a0b0" stroke-width="0.8" stroke-opacity="0.75"/><path d="M670.8 418 L672.8 414 L675.5 382.7 L678.2 414 L680.2 418" fill="none" stroke="#c8c8c0" stroke-width="0.8" stroke-opacity="0.75"/><path d="M786.4 418 L788.4 414 L791.0 309.2 L793.6 414 L795.6 418" fill="none" stroke="#b0b0a0" stroke-width="0.8" stroke-opacity="0.75"/><path d="M755.5 418 L757.5 414 L759.7 372.3 L761.9 414 L763.9 418" fill="none" stroke="#d0a8c8" stroke-width="0.8" stroke-opacity="0.75"/><path d="M767.7 418 L769.7 414 L772.5 373.0 L775.3 414 L777.3 418" fill="none" stroke="#d0a8c8" stroke-width="0.8" stroke-opacity="0.75"/><path d="M758.9 418 L760.9 414 L764.0 385.0 L767.1 414 L769.1 418" fill="none" stroke="#d8b8d0" stroke-width="0.8" stroke-opacity="0.75"/><path d="M895.8 418 L897.8 414 L900.5 332.1 L903.2 414 L905.2 418" fill="none" stroke="#b8b8a8" stroke-width="0.8" stroke-opacity="0.75"/><path d="M932.4 418 L934.4 414 L936.8 330.7 L939.2 414 L941.2 418" fill="none" stroke="#c88a9a" stroke-width="0.8" stroke-opacity="0.75"/><path d="M932.8 418 L934.8 414 L938.0 372.0 L941.2 414 L943.2 418" fill="none" stroke="#c06878" stroke-width="0.8" stroke-opacity="0.75"/><path d="M822.4 418 L824.4 414 L827.3 401.0 L830.2 414 L832.2 418" fill="none" stroke="#b8c0b0" stroke-width="0.8" stroke-opacity="0.75"/><path d="M887.3 418 L889.3 414 L891.5 396.0 L893.7 414 L895.7 418" fill="none" stroke="#c0c8b8" stroke-width="0.8" stroke-opacity="0.75"/><path d="M870.5 418 L872.5 414 L874.9 403.0 L877.3 414 L879.3 418" fill="none" stroke="#c08080" stroke-width="0.8" stroke-opacity="0.75"/><path d="M859.3 418 L861.3 414 L863.9 405.0 L866.5 414 L868.5 418" fill="none" stroke="#c08080" stroke-width="0.8" stroke-opacity="0.75"/><path d="M939.5 418 L941.5 414 L944.2 399.0 L946.9 414 L948.9 418" fill="none" stroke="#c08080" stroke-width="0.8" stroke-opacity="0.75"/><path d="M107.1 418 L109.1 414 L112.0 398.0 L114.9 414 L116.9 418" fill="none" stroke="#c8c8c8" stroke-width="0.8" stroke-opacity="0.75"/><path d="M299.8 418 L301.8 414 L305.0 400.0 L308.2 414 L310.2 418" fill="none" stroke="#c8b8c8" stroke-width="0.8" stroke-opacity="0.75"/><path d="M886 424.6 L955.6 424.6" stroke="#8e5070" stroke-width="1.8" stroke-opacity="0.9"/><path d="M78.0 393.4 81.7 384.8 84.0 378.8 85.3 379.8 89.0 379.1 92.6 380.2 96.3 379.0 99.9 379.9 103.6 378.8 107.3 379.3 110.9 380.0 114.6 379.1 118.2 379.2 121.9 378.9 122.6 379.7 125.5 418.8 126.0 425.0 129.2 425.0 132.8 425.0 136.5 425.0 140.2 425.0 143.8 425.0 147.5 425.0 151.1 425.0 154.8 425.0 158.4 425.0 162.1 425.0 165.8 425.0 169.4 425.0 173.1 425.0 176.7 425.0 180.4 425.0 184.0 425.0 187.7 425.0 191.4 425.0 195.0 425.0 198.7 425.0 202.3 425.0 206.0 425.0 209.6 425.0 213.3 425.0 217.0 425.0 220.6 425.0 224.3 425.0 227.9 425.0 231.6 425.0 235.2 425.0 238.9 425.0 242.6 425.0 246.2 425.0 249.9 425.0 253.5 425.0 257.2 425.0 260.8 425.0 264.5 425.0 268.1 425.0 271.8 425.0 275.5 425.0 279.1 425.0 282.8 425.0 286.4 425.0 290.1 425.0 293.7 425.0 297.4 425.0 301.1 425.0 304.7 425.0 308.4 425.0 312.0 425.0 315.7 425.0 319.3 425.0 323.0 425.0 326.7 425.0 330.3 425.0 334.0 425.0 337.6 425.0 341.3 425.0 344.9 425.0 348.6 425.0 352.2 425.0 355.9 425.0 359.6 425.0 363.2 425.0 366.9 425.0 370.5 425.0 374.2 425.0 377.8 425.0 381.5 425.0 385.2 425.0 388.8 425.0 392.5 425.0 396.1 425.0 399.8 425.0 403.4 425.0 407.1 425.0 410.8 425.0 414.4 425.0 418.1 425.0 421.7 425.0 425.4 425.0 429.0 425.0 432.7 425.0 436.4 425.0 440.0 425.0 443.7 425.0 447.3 425.0 451.0 425.0 454.6 425.0 458.3 425.0 461.9 425.0 465.6 425.0 469.3 425.0 472.9 425.0 476.6 425.0 480.2 425.0 483.9 425.0 487.5 425.0 491.2 425.0 494.9 425.0 498.5 425.0 502.2 425.0 505.8 425.0 509.5 425.0 513.1 425.0 516.8 425.0 520.5 425.0 524.1 425.0 527.8 425.0 531.4 425.0 535.1 425.0 538.7 425.0 542.4 425.0 546.1 425.0 549.7 425.0 553.4 425.0 557.0 425.0 560.7 425.0 564.3 425.0 568.0 425.0 571.7 425.0 575.3 425.0 579.0 425.0 582.6 425.0 586.3 425.0 589.9 425.0 593.6 425.0 597.2 425.0 600.9 425.0 604.6 425.0 608.2 425.0 611.9 425.0 615.5 425.0 619.2 425.0 622.8 425.0 626.5 425.0 630.2 425.0 633.8 425.0 637.5 425.0 641.1 425.0 644.8 425.0 648.4 425.0 652.1 425.0 655.8 425.0 659.4 425.0 663.1 425.0 666.7 425.0 670.4 425.0 674.0 425.0 677.7 425.0 681.4 425.0 685.0 425.0 685.3 425.0 688.7 398.3 689.2 393.4 692.3 391.4 694.0 390.7 696.0 390.1 699.6 391.0 703.3 389.7 706.9 390.9 710.6 390.1 714.3 390.3 717.9 390.7 721.6 389.4 725.2 389.7 728.9 390.2 732.5 389.9 736.2 389.4 739.9 390.2 743.5 389.3 746.9 389.7 747.2 406.9 748.7 406.9 750.8 390.4 751.7 383.5 754.5 380.8 756.0 380.1 758.1 380.6 761.8 380.4 765.5 380.9 769.1 381.0 772.8 380.6 776.4 381.7 780.1 380.8 783.7 380.5 787.4 381.1 791.1 381.6 794.7 380.6 798.4 381.7 798.4 381.7 802.0 421.8 802.3 425.0 805.7 425.0 809.3 425.0 813.0 425.0 816.6 425.0 820.3 425.0 824.0 425.0 827.6 425.0 831.3 425.0 834.9 425.0 838.6 425.0 842.2 425.0 845.9 425.0 849.6 425.0 853.2 425.0 856.9 425.0 860.5 425.0 864.2 425.0 867.8 425.0 871.5 425.0 875.2 425.0 878.8 425.0 882.5 425.0 886.1 425.0 889.0 425.0" fill="none" stroke="#d8763d" stroke-width="2" stroke-linejoin="round"/><g font-family="Liberation Sans" font-size="10" fill="#222" text-anchor="end"><text x="70" y="429.0">0</text><text x="70" y="415.0">2k</text><text x="70" y="402.0">4k</text><text x="70" y="388.0">6k</text><text x="70" y="375.0">8k</text><text x="70" y="361.0">10k</text><text x="70" y="348.0">12k</text><text x="70" y="335.0">14k</text><text x="70" y="321.0">16k</text><text x="70" y="308.0">18k</text><text x="70" y="294.0">20k</text><text x="70" y="281.0">22k</text><text x="70" y="268.0">24k</text><text x="70" y="254.0">26k</text><text x="70" y="241.0">28k</text></g><g font-family="Liberation Sans" font-size="10.5" fill="#222" text-anchor="middle"><text x="170.5" y="441.5">01:45</text><text x="280.0" y="441.5">02 PM</text><text x="390.0" y="441.5">02:15</text><text x="499.5" y="441.5">02:30</text><text x="609.0" y="441.5">02:45</text><text x="718.5" y="441.5">03 PM</text><text x="828.0" y="441.5">03:15</text><text x="937.5" y="441.5">03:30</text></g><text x="29" y="228" font-family="Liberation Sans" font-size="11.5" font-weight="bold" fill="#111">COUNT</text><text x="29" y="478" font-family="Liberation Sans" font-size="11.5" font-weight="bold" fill="#111">HEATMAP(time_elapsed)</text><g stroke="#111" stroke-width="1" stroke-dasharray="2.5 1.5" fill="none"><path d="M78.5 486 L78.5 674"/><path d="M78 674.5 L975 674.5"/><path d="M73 672.5 L78 672.5"/><path d="M73 653.5 L78 653.5"/><path d="M73 634.5 L78 634.5"/><path d="M73 615.5 L78 615.5"/><path d="M73 596.5 L78 596.5"/><path d="M73 577.5 L78 577.5"/><path d="M73 558.5 L78 558.5"/><path d="M73 539.5 L78 539.5"/><path d="M73 520.5 L78 520.5"/><path d="M73 501.5 L78 501.5"/><path d="M170.5 675 L170.5 681"/><path d="M280.0 675 L280.0 681"/><path d="M390.0 675 L390.0 681"/><path d="M499.5 675 L499.5 681"/><path d="M609.0 675 L609.0 681"/><path d="M718.5 675 L718.5 681"/><path d="M828.0 675 L828.0 681"/><path d="M937.5 675 L937.5 681"/></g><g font-family="Liberation Sans" font-size="10" fill="#222" text-anchor="end"><text x="70" y="676.0">0</text><text x="70" y="657.0">20k</text><text x="70" y="638.0">40k</text><text x="70" y="619.0">60k</text><text x="70" y="600.0">80k</text><text x="70" y="581.0">100k</text><text x="70" y="562.0">120k</text><text x="70" y="543.0">140k</text><text x="70" y="524.0">160k</text><text x="70" y="505.0">180k</text></g><g font-family="Liberation Sans" font-size="10.5" fill="#222" text-anchor="middle"><text x="170.5" y="692">01:45</text><text x="280.0" y="692">02 PM</text><text x="390.0" y="692">02:15</text><text x="499.5" y="692">02:30</text><text x="609.0" y="692">02:45</text><text x="718.5" y="692">03 PM</text><text x="828.0" y="692">03:15</text><text x="937.5" y="692">03:30</text></g><rect x="976" y="486" width="8" height="8" fill="#b01f4b"/><rect x="976" y="496" width="8" height="8" fill="#ee6a4b"/><rect x="976" y="506" width="8" height="8" fill="#f2ad72"/><rect x="976" y="516" width="8" height="8" fill="#eeea8e"/><rect x="976" y="526" width="8" height="8" fill="#9fd79e"/><rect x="976" y="536" width="8" height="8" fill="#48a8b0"/><rect x="976" y="546" width="8" height="8" fill="#5f52a5"/><g font-family="Liberation Sans" font-size="8.1" fill="#333" text-anchor="end"><text x="974" y="490">6830</text><text x="974" y="522.5">3415</text><text x="974" y="555.5">1</text></g><rect x="79.0" y="667.3" width="1.63" height="3.5" fill="#6558ab"/><rect x="79.0" y="671.1" width="1.63" height="3.5" fill="#8f0c40"/><rect x="80.8" y="667.3" width="1.63" height="3.5" fill="#6558ab"/><rect x="80.8" y="671.1" width="1.63" height="3.5" fill="#8f0c40"/><rect x="82.7" y="667.3" width="1.63" height="3.5" fill="#6558ab"/><rect x="82.7" y="671.1" width="1.63" height="3.5" fill="#8f0c40"/><rect x="84.5" y="667.3" width="1.63" height="3.5" fill="#6558ab"/><rect x="84.5" y="671.1" width="1.63" height="3.5" fill="#8f0c40"/><rect x="86.3" y="667.3" width="1.63" height="3.5" fill="#6558ab"/><rect x="86.3" y="671.1" width="1.63" height="3.5" fill="#8f0c40"/><rect x="88.1" y="667.3" width="1.63" height="3.5" fill="#6558ab"/><rect x="88.1" y="671.1" width="1.63" height="3.5" fill="#8f0c40"/><rect x="90.0" y="667.3" width="1.63" height="3.5" fill="#6558ab"/><rect x="90.0" y="671.1" width="1.63" height="3.5" fill="#8f0c40"/><rect x="91.8" y="667.3" width="1.63" height="3.5" fill="#6558ab"/><rect x="91.8" y="671.1" width="1.63" height="3.5" fill="#8f0c40"/><rect x="93.6" y="667.3" width="1.63" height="3.5" fill="#6558ab"/><rect x="93.6" y="671.1" width="1.63" height="3.5" fill="#8f0c40"/><rect x="95.5" y="667.3" width="1.63" height="3.5" fill="#6558ab"/><rect x="95.5" y="671.1" width="1.63" height="3.5" fill="#8f0c40"/><rect x="97.3" y="667.3" width="1.63" height="3.5" fill="#6558ab"/><rect x="97.3" y="671.1" width="1.63" height="3.5" fill="#8f0c40"/><rect x="99.1" y="667.3" width="1.63" height="3.5" fill="#6558ab"/><rect x="99.1" y="671.1" width="1.63" height="3.5" fill="#8f0c40"/><rect x="101.0" y="667.3" width="1.63" height="3.5" fill="#6558ab"/><rect x="101.0" y="671.1" width="1.63" height="3.5" fill="#8f0c40"/><rect x="102.8" y="667.3" width="1.63" height="3.5" fill="#6558ab"/><rect x="102.8" y="671.1" width="1.63" height="3.5" fill="#8f0c40"/><rect x="104.6" y="667.3" width="1.63" height="3.5" fill="#6558ab"/><rect x="104.6" y="671.1" width="1.63" height="3.5" fill="#8f0c40"/><rect x="106.4" y="667.3" width="1.63" height="3.5" fill="#6558ab"/><rect x="106.4" y="671.1" width="1.63" height="3.5" fill="#8f0c40"/><rect x="108.3" y="667.3" width="1.63" height="3.5" fill="#6558ab"/><rect x="108.3" y="671.1" width="1.63" height="3.5" fill="#8f0c40"/><rect x="110.1" y="667.3" width="1.63" height="3.5" fill="#6558ab"/><rect x="110.1" y="671.1" width="1.63" height="3.5" fill="#8f0c40"/><rect x="111.9" y="667.3" width="1.63" height="3.5" fill="#6558ab"/><rect x="111.9" y="671.1" width="1.63" height="3.5" fill="#8f0c40"/><rect x="113.8" y="667.3" width="1.63" height="3.5" fill="#6558ab"/><rect x="113.8" y="671.1" width="1.63" height="3.5" fill="#8f0c40"/><rect x="115.6" y="667.3" width="1.63" height="3.5" fill="#6558ab"/><rect x="115.6" y="671.1" width="1.63" height="3.5" fill="#8f0c40"/><rect x="117.4" y="667.3" width="1.63" height="3.5" fill="#6558ab"/><rect x="117.4" y="671.1" width="1.63" height="3.5" fill="#8f0c40"/><rect x="119.3" y="667.3" width="1.63" height="3.5" fill="#6558ab"/><rect x="119.3" y="671.1" width="1.63" height="3.5" fill="#8f0c40"/><rect x="121.1" y="667.3" width="1.63" height="3.5" fill="#6558ab"/><rect x="121.1" y="671.1" width="1.63" height="3.5" fill="#8f0c40"/><rect x="122.9" y="667.3" width="1.63" height="3.5" fill="#6558ab"/><rect x="122.9" y="671.1" width="1.63" height="3.5" fill="#8f0c40"/><rect x="124.7" y="667.3" width="1.63" height="3.5" fill="#6558ab"/><rect x="124.7" y="671.1" width="1.63" height="3.5" fill="#8f0c40"/><rect x="126.6" y="667.3" width="1.63" height="3.5" fill="#6558ab"/><rect x="126.6" y="671.1" width="1.63" height="3.5" fill="#8f0c40"/><rect x="79.0" y="671.1" width="1.63" height="3.5" fill="#e8704a"/><rect x="124.0" y="671.1" width="1.63" height="3.5" fill="#f3b070"/><rect x="126.0" y="671.1" width="1.63" height="3.5" fill="#6558ab"/><rect x="93.3" y="663.5" width="3.46" height="3.5" fill="#6558ab"/><rect x="121.0" y="663.5" width="1.63" height="3.5" fill="#6558ab"/><rect x="135.4" y="595.5" width="3.46" height="3.5" fill="#6558ab"/><rect x="137.1" y="603.1" width="1.63" height="3.5" fill="#6558ab"/><rect x="137.1" y="622.0" width="1.63" height="3.5" fill="#6558ab"/><rect x="162.6" y="576.6" width="1.63" height="3.5" fill="#6558ab"/><rect x="160.8" y="584.2" width="1.63" height="3.5" fill="#6558ab"/><rect x="160.8" y="587.9" width="1.63" height="3.5" fill="#6558ab"/><rect x="160.8" y="591.7" width="1.63" height="3.5" fill="#6558ab"/><rect x="163.4" y="587.9" width="1.63" height="3.5" fill="#6558ab"/><rect x="172.0" y="576.6" width="3.46" height="3.5" fill="#6558ab"/><rect x="170.2" y="580.4" width="1.63" height="3.5" fill="#6558ab"/><rect x="170.2" y="584.2" width="1.63" height="3.5" fill="#6558ab"/><rect x="172.0" y="584.2" width="3.46" height="3.5" fill="#6558ab"/><rect x="172.0" y="587.9" width="3.46" height="3.5" fill="#6558ab"/><rect x="172.0" y="591.7" width="3.46" height="3.5" fill="#6558ab"/><rect x="173.8" y="603.1" width="1.63" height="3.5" fill="#6558ab"/><rect x="199.2" y="576.6" width="1.63" height="3.5" fill="#6558ab"/><rect x="199.2" y="591.7" width="1.63" height="3.5" fill="#6558ab"/><rect x="201.4" y="595.5" width="3.46" height="3.5" fill="#6558ab"/><rect x="202.8" y="599.3" width="1.63" height="3.5" fill="#6558ab"/><rect x="202.8" y="603.1" width="1.63" height="3.5" fill="#6558ab"/><rect x="199.2" y="603.1" width="1.63" height="3.5" fill="#6558ab"/><rect x="212.0" y="595.5" width="1.63" height="3.5" fill="#6558ab"/><rect x="135.4" y="667.3" width="3.46" height="3.5" fill="#6558ab"/><rect x="161.2" y="656.0" width="1.63" height="3.5" fill="#6558ab"/><rect x="161.2" y="663.5" width="1.63" height="3.5" fill="#6558ab"/><rect x="161.2" y="667.3" width="1.63" height="3.5" fill="#6558ab"/><rect x="163.0" y="659.8" width="1.63" height="3.5" fill="#6558ab"/><rect x="163.0" y="667.3" width="1.63" height="3.5" fill="#6558ab"/><rect x="171.6" y="659.8" width="3.46" height="3.5" fill="#6558ab"/><rect x="171.6" y="663.5" width="3.46" height="3.5" fill="#6558ab"/><rect x="171.6" y="667.3" width="3.46" height="3.5" fill="#6558ab"/><rect x="199.8" y="667.3" width="5.29" height="3.5" fill="#6558ab"/><rect x="201.4" y="659.8" width="1.63" height="3.5" fill="#6558ab"/><rect x="212.4" y="667.3" width="1.63" height="3.5" fill="#6558ab"/><rect x="213.5" y="671.1" width="1.63" height="3.5" fill="#6558ab"/><rect x="214.4" y="659.8" width="1.63" height="3.5" fill="#6558ab"/><rect x="685.0" y="667.3" width="1.63" height="3.5" fill="#6558ab"/><rect x="685.0" y="671.1" width="1.63" height="3.5" fill="#ef6a4a"/><rect x="686.8" y="667.3" width="1.63" height="3.5" fill="#6558ab"/><rect x="686.8" y="671.1" width="1.63" height="3.5" fill="#ef6a4a"/><rect x="688.7" y="667.3" width="1.63" height="3.5" fill="#6558ab"/><rect x="688.7" y="671.1" width="1.63" height="3.5" fill="#ef6a4a"/><rect x="690.5" y="667.3" width="1.63" height="3.5" fill="#6558ab"/><rect x="690.5" y="671.1" width="1.63" height="3.5" fill="#ef6a4a"/><rect x="692.3" y="667.3" width="1.63" height="3.5" fill="#6558ab"/><rect x="692.3" y="671.1" width="1.63" height="3.5" fill="#ef6a4a"/><rect x="694.2" y="667.3" width="1.63" height="3.5" fill="#6558ab"/><rect x="694.2" y="671.1" width="1.63" height="3.5" fill="#ef6a4a"/><rect x="696.0" y="667.3" width="1.63" height="3.5" fill="#6558ab"/><rect x="696.0" y="671.1" width="1.63" height="3.5" fill="#ef6a4a"/><rect x="697.8" y="667.3" width="1.63" height="3.5" fill="#6558ab"/><rect x="697.8" y="671.1" width="1.63" height="3.5" fill="#ef6a4a"/><rect x="699.6" y="667.3" width="1.63" height="3.5" fill="#6558ab"/><rect x="699.6" y="671.1" width="1.63" height="3.5" fill="#ef6a4a"/><rect x="701.5" y="667.3" width="1.63" height="3.5" fill="#6558ab"/><rect x="701.5" y="671.1" width="1.63" height="3.5" fill="#ef6a4a"/><rect x="703.3" y="667.3" width="1.63" height="3.5" fill="#6558ab"/><rect x="703.3" y="671.1" width="1.63" height="3.5" fill="#ef6a4a"/><rect x="705.1" y="667.3" width="1.63" height="3.5" fill="#6558ab"/><rect x="705.1" y="671.1" width="1.63" height="3.5" fill="#ef6a4a"/><rect x="707.0" y="667.3" width="1.63" height="3.5" fill="#6558ab"/><rect x="707.0" y="671.1" width="1.63" height="3.5" fill="#ef6a4a"/><rect x="708.8" y="667.3" width="1.63" height="3.5" fill="#6558ab"/><rect x="708.8" y="671.1" width="1.63" height="3.5" fill="#ef6a4a"/><rect x="710.6" y="667.3" width="1.63" height="3.5" fill="#6558ab"/><rect x="710.6" y="671.1" width="1.63" height="3.5" fill="#ef6a4a"/><rect x="712.5" y="667.3" width="1.63" height="3.5" fill="#6558ab"/><rect x="712.5" y="671.1" width="1.63" height="3.5" fill="#ef6a4a"/><rect x="714.3" y="667.3" width="1.63" height="3.5" fill="#6558ab"/><rect x="714.3" y="671.1" width="1.63" height="3.5" fill="#ef6a4a"/><rect x="716.1" y="667.3" width="1.63" height="3.5" fill="#6558ab"/><rect x="716.1" y="671.1" width="1.63" height="3.5" fill="#ef6a4a"/><rect x="717.9" y="667.3" width="1.63" height="3.5" fill="#6558ab"/><rect x="717.9" y="671.1" width="1.63" height="3.5" fill="#ef6a4a"/><rect x="719.8" y="667.3" width="1.63" height="3.5" fill="#6558ab"/><rect x="719.8" y="671.1" width="1.63" height="3.5" fill="#ef6a4a"/><rect x="721.6" y="667.3" width="1.63" height="3.5" fill="#6558ab"/><rect x="721.6" y="671.1" width="1.63" height="3.5" fill="#ef6a4a"/><rect x="723.4" y="667.3" width="1.63" height="3.5" fill="#6558ab"/><rect x="723.4" y="671.1" width="1.63" height="3.5" fill="#ef6a4a"/><rect x="725.3" y="667.3" width="1.63" height="3.5" fill="#6558ab"/><rect x="725.3" y="671.1" width="1.63" height="3.5" fill="#ef6a4a"/><rect x="727.1" y="667.3" width="1.63" height="3.5" fill="#6558ab"/><rect x="727.1" y="671.1" width="1.63" height="3.5" fill="#ef6a4a"/><rect x="728.9" y="667.3" width="1.63" height="3.5" fill="#6558ab"/><rect x="728.9" y="671.1" width="1.63" height="3.5" fill="#ef6a4a"/><rect x="730.8" y="667.3" width="1.63" height="3.5" fill="#6558ab"/><rect x="730.8" y="671.1" width="1.63" height="3.5" fill="#ef6a4a"/><rect x="732.6" y="667.3" width="1.63" height="3.5" fill="#6558ab"/><rect x="732.6" y="671.1" width="1.63" height="3.5" fill="#ef6a4a"/><rect x="734.4" y="667.3" width="1.63" height="3.5" fill="#6558ab"/><rect x="734.4" y="671.1" width="1.63" height="3.5" fill="#ef6a4a"/><rect x="736.2" y="667.3" width="1.63" height="3.5" fill="#6558ab"/><rect x="736.2" y="671.1" width="1.63" height="3.5" fill="#ef6a4a"/><rect x="738.1" y="667.3" width="1.63" height="3.5" fill="#6558ab"/><rect x="738.1" y="671.1" width="1.63" height="3.5" fill="#ef6a4a"/><rect x="739.9" y="667.3" width="1.63" height="3.5" fill="#6558ab"/><rect x="739.9" y="671.1" width="1.63" height="3.5" fill="#ef6a4a"/><rect x="741.7" y="667.3" width="1.63" height="3.5" fill="#6558ab"/><rect x="741.7" y="671.1" width="1.63" height="3.5" fill="#ef6a4a"/><rect x="743.6" y="667.3" width="1.63" height="3.5" fill="#6558ab"/><rect x="743.6" y="671.1" width="1.63" height="3.5" fill="#ef6a4a"/><rect x="745.4" y="667.3" width="1.63" height="3.5" fill="#6558ab"/><rect x="745.4" y="671.1" width="1.63" height="3.5" fill="#ef6a4a"/><rect x="747.2" y="667.3" width="1.63" height="3.5" fill="#6558ab"/><rect x="747.2" y="671.1" width="1.63" height="3.5" fill="#ef6a4a"/><rect x="749.1" y="667.3" width="1.63" height="3.5" fill="#6558ab"/><rect x="750.9" y="667.3" width="1.63" height="3.5" fill="#6558ab"/><rect x="752.7" y="667.3" width="1.63" height="3.5" fill="#6558ab"/><rect x="754.5" y="667.3" width="1.63" height="3.5" fill="#6558ab"/><rect x="754.5" y="671.1" width="1.63" height="3.5" fill="#8f0c40"/><rect x="756.4" y="667.3" width="1.63" height="3.5" fill="#6558ab"/><rect x="756.4" y="671.1" width="1.63" height="3.5" fill="#8f0c40"/><rect x="758.2" y="667.3" width="1.63" height="3.5" fill="#6558ab"/><rect x="758.2" y="671.1" width="1.63" height="3.5" fill="#8f0c40"/><rect x="760.0" y="667.3" width="1.63" height="3.5" fill="#6558ab"/><rect x="760.0" y="671.1" width="1.63" height="3.5" fill="#8f0c40"/><rect x="761.9" y="667.3" width="1.63" height="3.5" fill="#6558ab"/><rect x="761.9" y="671.1" width="1.63" height="3.5" fill="#8f0c40"/><rect x="763.7" y="667.3" width="1.63" height="3.5" fill="#6558ab"/><rect x="763.7" y="671.1" width="1.63" height="3.5" fill="#8f0c40"/><rect x="765.5" y="667.3" width="1.63" height="3.5" fill="#6558ab"/><rect x="765.5" y="671.1" width="1.63" height="3.5" fill="#8f0c40"/><rect x="767.4" y="667.3" width="1.63" height="3.5" fill="#6558ab"/><rect x="767.4" y="671.1" width="1.63" height="3.5" fill="#8f0c40"/><rect x="769.2" y="667.3" width="1.63" height="3.5" fill="#6558ab"/><rect x="769.2" y="671.1" width="1.63" height="3.5" fill="#8f0c40"/><rect x="771.0" y="667.3" width="1.63" height="3.5" fill="#6558ab"/><rect x="771.0" y="671.1" width="1.63" height="3.5" fill="#8f0c40"/><rect x="772.8" y="667.3" width="1.63" height="3.5" fill="#6558ab"/><rect x="772.8" y="671.1" width="1.63" height="3.5" fill="#8f0c40"/><rect x="774.7" y="667.3" width="1.63" height="3.5" fill="#6558ab"/><rect x="774.7" y="671.1" width="1.63" height="3.5" fill="#8f0c40"/><rect x="776.5" y="667.3" width="1.63" height="3.5" fill="#6558ab"/><rect x="776.5" y="671.1" width="1.63" height="3.5" fill="#8f0c40"/><rect x="778.3" y="667.3" width="1.63" height="3.5" fill="#6558ab"/><rect x="778.3" y="671.1" width="1.63" height="3.5" fill="#8f0c40"/><rect x="780.2" y="667.3" width="1.63" height="3.5" fill="#6558ab"/><rect x="780.2" y="671.1" width="1.63" height="3.5" fill="#8f0c40"/><rect x="782.0" y="667.3" width="1.63" height="3.5" fill="#6558ab"/><rect x="782.0" y="671.1" width="1.63" height="3.5" fill="#8f0c40"/><rect x="783.8" y="667.3" width="1.63" height="3.5" fill="#6558ab"/><rect x="783.8" y="671.1" width="1.63" height="3.5" fill="#8f0c40"/><rect x="785.7" y="667.3" width="1.63" height="3.5" fill="#6558ab"/><rect x="785.7" y="671.1" width="1.63" height="3.5" fill="#8f0c40"/><rect x="787.5" y="667.3" width="1.63" height="3.5" fill="#6558ab"/><rect x="787.5" y="671.1" width="1.63" height="3.5" fill="#8f0c40"/><rect x="789.3" y="667.3" width="1.63" height="3.5" fill="#6558ab"/><rect x="789.3" y="671.1" width="1.63" height="3.5" fill="#8f0c40"/><rect x="791.1" y="667.3" width="1.63" height="3.5" fill="#6558ab"/><rect x="791.1" y="671.1" width="1.63" height="3.5" fill="#8f0c40"/><rect x="793.0" y="667.3" width="1.63" height="3.5" fill="#6558ab"/><rect x="793.0" y="671.1" width="1.63" height="3.5" fill="#8f0c40"/><rect x="794.8" y="667.3" width="1.63" height="3.5" fill="#6558ab"/><rect x="794.8" y="671.1" width="1.63" height="3.5" fill="#8f0c40"/><rect x="796.6" y="667.3" width="1.63" height="3.5" fill="#6558ab"/><rect x="796.6" y="671.1" width="1.63" height="3.5" fill="#8f0c40"/><rect x="798.5" y="667.3" width="1.63" height="3.5" fill="#6558ab"/><rect x="798.5" y="671.1" width="1.63" height="3.5" fill="#8f0c40"/><rect x="800.3" y="667.3" width="1.63" height="3.5" fill="#6558ab"/><rect x="802.1" y="667.3" width="1.63" height="3.5" fill="#6558ab"/><rect x="686.0" y="671.1" width="1.63" height="3.5" fill="#f1e48c"/><rect x="749.5" y="671.1" width="1.63" height="3.5" fill="#f0e890"/><rect x="751.3" y="671.1" width="1.63" height="3.5" fill="#4aa6ae"/><rect x="800.0" y="671.1" width="1.63" height="3.5" fill="#f3b070"/><rect x="802.0" y="671.1" width="1.63" height="3.5" fill="#6558ab"/><rect x="717.0" y="663.5" width="1.63" height="3.5" fill="#6558ab"/><rect x="720.0" y="663.5" width="1.63" height="3.5" fill="#6558ab"/><rect x="730.0" y="663.5" width="1.63" height="3.5" fill="#6558ab"/><rect x="732.0" y="663.5" width="1.63" height="3.5" fill="#6558ab"/><rect x="742.0" y="663.5" width="1.63" height="3.5" fill="#6558ab"/><rect x="750.0" y="663.5" width="1.63" height="3.5" fill="#6558ab"/><rect x="753.0" y="663.5" width="1.63" height="3.5" fill="#6558ab"/><rect x="767.0" y="663.5" width="1.63" height="3.5" fill="#6558ab"/><rect x="768.8" y="663.5" width="1.63" height="3.5" fill="#6558ab"/><rect x="785.0" y="663.5" width="1.63" height="3.5" fill="#6558ab"/><rect x="790.0" y="663.5" width="1.63" height="3.5" fill="#6558ab"/><rect x="793.0" y="663.5" width="1.63" height="3.5" fill="#6558ab"/><rect x="799.0" y="663.5" width="1.63" height="3.5" fill="#6558ab"/><rect x="801.0" y="663.5" width="1.63" height="3.5" fill="#6558ab"/><rect x="669.5" y="663.5" width="1.63" height="3.5" fill="#6558ab"/><rect x="669.5" y="667.3" width="1.63" height="3.5" fill="#6558ab"/><rect x="669.5" y="671.1" width="1.63" height="3.5" fill="#6558ab"/><rect x="675.0" y="659.8" width="1.63" height="3.5" fill="#6558ab"/><rect x="673.5" y="667.3" width="3.46" height="3.5" fill="#6558ab"/><rect x="680.2" y="667.3" width="1.63" height="3.5" fill="#6558ab"/><rect x="680.2" y="671.1" width="1.63" height="3.5" fill="#6558ab"/><rect x="753.5" y="659.8" width="1.63" height="3.5" fill="#6558ab"/><rect x="751.8" y="652.2" width="1.63" height="3.5" fill="#6558ab"/><rect x="811.6" y="667.3" width="3.46" height="3.5" fill="#6558ab"/><rect x="674.9" y="576.6" width="1.63" height="3.5" fill="#6558ab"/><rect x="674.9" y="587.9" width="1.63" height="3.5" fill="#6558ab"/><rect x="674.2" y="603.1" width="3.46" height="3.5" fill="#6558ab"/><rect x="674.9" y="614.4" width="1.63" height="3.5" fill="#6558ab"/><rect x="674.9" y="637.1" width="1.63" height="3.5" fill="#6558ab"/><rect x="674.9" y="644.6" width="1.63" height="3.5" fill="#6558ab"/><rect x="674.9" y="659.8" width="1.63" height="3.5" fill="#6558ab"/><rect x="685.6" y="625.7" width="1.63" height="3.5" fill="#6558ab"/><rect x="749.8" y="618.2" width="1.63" height="3.5" fill="#6558ab"/><rect x="811.6" y="606.8" width="1.63" height="3.5" fill="#6558ab"/><rect x="812.5" y="610.6" width="1.63" height="3.5" fill="#6558ab"/><rect x="813.4" y="629.5" width="1.63" height="3.5" fill="#6558ab"/><rect x="839.0" y="576.6" width="1.63" height="3.5" fill="#6558ab"/><rect x="839.0" y="591.7" width="1.63" height="3.5" fill="#6558ab"/><rect x="839.0" y="603.1" width="1.63" height="3.5" fill="#6558ab"/><rect x="850.0" y="576.6" width="3.46" height="3.5" fill="#6558ab"/><rect x="850.0" y="584.2" width="3.46" height="3.5" fill="#6558ab"/><rect x="850.0" y="587.9" width="3.46" height="3.5" fill="#6558ab"/><rect x="850.0" y="591.7" width="3.46" height="3.5" fill="#6558ab"/><rect x="848.0" y="595.5" width="1.63" height="3.5" fill="#6558ab"/><rect x="850.0" y="603.1" width="1.63" height="3.5" fill="#6558ab"/><rect x="877.3" y="591.7" width="1.63" height="3.5" fill="#6558ab"/><rect x="877.3" y="599.3" width="1.63" height="3.5" fill="#6558ab"/><rect x="879.9" y="595.5" width="1.63" height="3.5" fill="#6558ab"/><rect x="879.9" y="599.3" width="1.63" height="3.5" fill="#6558ab"/><rect x="889.0" y="606.8" width="1.63" height="3.5" fill="#6558ab"/><rect x="839.0" y="656.0" width="1.63" height="3.5" fill="#6558ab"/><rect x="839.0" y="667.3" width="1.63" height="3.5" fill="#6558ab"/><rect x="839.0" y="671.1" width="1.63" height="3.5" fill="#6558ab"/><rect x="846.0" y="659.8" width="1.63" height="3.5" fill="#6558ab"/><rect x="846.0" y="663.5" width="3.46" height="3.5" fill="#6558ab"/><rect x="846.0" y="667.3" width="3.46" height="3.5" fill="#6558ab"/><rect x="848.0" y="671.1" width="1.63" height="3.5" fill="#6558ab"/><rect x="851.0" y="667.3" width="1.63" height="3.5" fill="#6558ab"/><rect x="851.0" y="663.5" width="1.63" height="3.5" fill="#6558ab"/><rect x="877.0" y="659.8" width="1.63" height="3.5" fill="#6558ab"/><rect x="877.0" y="663.5" width="1.63" height="3.5" fill="#6558ab"/><rect x="877.0" y="667.3" width="1.63" height="3.5" fill="#6558ab"/><rect x="889.0" y="667.3" width="1.63" height="3.5" fill="#6558ab"/><rect x="890.0" y="671.1" width="1.63" height="3.5" fill="#6558ab"/><path d="M952.5 213 L952.5 681" stroke="#111" stroke-width="1" stroke-dasharray="2.5 1.5" fill="none"/><g fill="none" stroke="#a0a0a0" stroke-width="1.2"><path d="M949.6 206.6 L952.8 204.4 L956.6 206.5 L956.6 210.5 L953 212.9"/><path d="M950.3 207.8 L950.3 212.6 M947.9 210.2 L952.7 210.2"/></g><rect x="930" y="681.5" width="46" height="15.5" rx="3" fill="#000"/><text x="953" y="693" font-family="Liberation Sans" font-size="11" fill="#fff" text-anchor="middle">15:32:09</text></svg><svg class="abs" style="left:226px;top:803px" width="18" height="24" viewBox="0 0 18 24"><path d="M5 5.2 L5 15.2 L7.5 12.9 L9.7 17.9 L11.4 17.1 L9.3 12.3 L12.6 12.3 Z" fill="#000" stroke="#fff" stroke-width="0.8" stroke-linejoin="round"/></svg></body></html>
